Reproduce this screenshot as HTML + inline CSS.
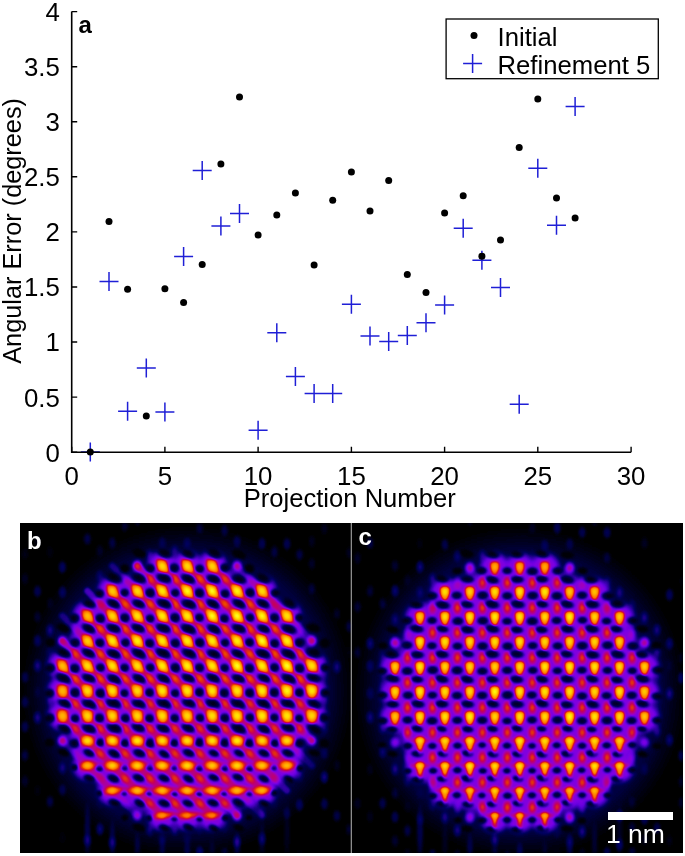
<!DOCTYPE html>
<html><head><meta charset="utf-8"><title>figure</title>
<style>html,body{margin:0;padding:0;background:#fff}body{width:685px;height:856px;overflow:hidden}svg{display:block}text{font-family:"Liberation Sans",sans-serif}svg{opacity:0.999}</style></head><body>
<svg width="685" height="856" viewBox="0 0 685 856">
<defs>
<filter id="fire" x="20" y="523" width="662.4" height="330" filterUnits="userSpaceOnUse" color-interpolation-filters="sRGB">
<feGaussianBlur stdDeviation="1.1" result="bl"/>
<feComponentTransfer in="bl">
<feFuncR type="table" tableValues="0.000 0.000 0.004 0.098 0.192 0.286 0.384 0.478 0.573 0.635 0.678 0.722 0.765 0.812 0.851 0.898 0.941 0.988 1.000 1.000 1.000 1.000 1.000 1.000 1.000 1.000 1.000 1.000 1.000 1.000 1.000 1.000"/>
<feFuncG type="table" tableValues="0.000 0.000 0.000 0.000 0.000 0.000 0.000 0.000 0.000 0.000 0.000 0.000 0.000 0.055 0.137 0.224 0.310 0.396 0.459 0.522 0.576 0.631 0.686 0.745 0.804 0.859 0.918 0.973 1.000 1.000 1.000 1.000"/>
<feFuncB type="table" tableValues="0.000 0.239 0.376 0.510 0.647 0.753 0.863 0.890 0.824 0.710 0.592 0.478 0.365 0.251 0.137 0.020 0.000 0.000 0.000 0.000 0.000 0.000 0.000 0.000 0.000 0.000 0.000 0.137 0.384 0.627 0.875 1.000"/>
<feFuncA type="linear" slope="0" intercept="1"/>
</feComponentTransfer></filter>
<radialGradient id="gw"><stop offset="0" stop-color="#fff" stop-opacity="1"/><stop offset="0.3" stop-color="#fff" stop-opacity="0.86"/><stop offset="0.6" stop-color="#fff" stop-opacity="0.42"/><stop offset="0.85" stop-color="#fff" stop-opacity="0.12"/><stop offset="1" stop-color="#fff" stop-opacity="0"/></radialGradient>
<radialGradient id="gk"><stop offset="0" stop-color="#000" stop-opacity="1"/><stop offset="0.5" stop-color="#000" stop-opacity="0.92"/><stop offset="0.78" stop-color="#000" stop-opacity="0.45"/><stop offset="1" stop-color="#000" stop-opacity="0"/></radialGradient>
<radialGradient id="gs"><stop offset="0" stop-color="#fff" stop-opacity="1"/><stop offset="0.5" stop-color="#fff" stop-opacity="0.55"/><stop offset="1" stop-color="#fff" stop-opacity="0"/></radialGradient>
<radialGradient id="haze"><stop offset="0" stop-color="#fff" stop-opacity="0.04"/><stop offset="0.84" stop-color="#fff" stop-opacity="0.035"/><stop offset="0.92" stop-color="#fff" stop-opacity="0.015"/><stop offset="1" stop-color="#fff" stop-opacity="0"/></radialGradient>
<radialGradient id="envd"><stop offset="0" stop-color="#3c3c3c" stop-opacity="1"/><stop offset="0.89" stop-color="#3c3c3c" stop-opacity="1"/><stop offset="0.94" stop-color="#3c3c3c" stop-opacity="0.55"/><stop offset="0.975" stop-color="#3c3c3c" stop-opacity="0.18"/><stop offset="1" stop-color="#3c3c3c" stop-opacity="0"/></radialGradient>
<radialGradient id="env"><stop offset="0" stop-color="#3c3c3c" stop-opacity="1"/><stop offset="0.55" stop-color="#3c3c3c" stop-opacity="1"/><stop offset="0.72" stop-color="#3c3c3c" stop-opacity="0.6"/><stop offset="0.86" stop-color="#3c3c3c" stop-opacity="0.2"/><stop offset="1" stop-color="#3c3c3c" stop-opacity="0"/></radialGradient>
</defs>
<rect width="685" height="856" fill="#fff"/>
<g id="chart">
<path d="M80.8 452.0h19M90.3 442.5v19M99.5 281.4h19M109.0 271.9v19M118.1 411.2h19M127.6 401.7v19M136.8 368.0h19M146.3 358.5v19M155.4 412.1h19M164.9 402.6v19M174.1 256.6h19M183.6 247.1v19M192.7 170.4h19M202.2 160.9v19M211.4 225.9h19M220.9 216.4v19M230.0 213.6h19M239.5 204.1v19M248.6 430.2h19M258.1 420.7v19M267.3 332.7h19M276.8 323.2v19M285.9 376.5h19M295.4 367.0v19M304.6 393.4h19M314.1 383.9v19M323.2 393.4h19M332.7 383.9v19M341.9 304.2h19M351.4 294.7v19M360.5 335.9h19M370.0 326.4v19M379.2 341.5h19M388.7 332.0v19M397.8 335.6h19M407.3 326.1v19M416.5 322.8h19M426.0 313.3v19M435.1 305.0h19M444.6 295.5v19M453.7 228.2h19M463.2 218.7v19M472.4 260.3h19M481.9 250.8v19M491.0 287.4h19M500.5 277.9v19M509.7 404.2h19M519.2 394.7v19M528.3 168.3h19M537.8 158.8v19M547.0 225.3h19M556.5 215.8v19M565.6 106.4h19M575.1 96.9v19" stroke="#1f1fd6" stroke-width="1.5" fill="none"/>
<path d="M71.7 11.6 V452.2 H631.1" fill="none" stroke="#000" stroke-width="1.6"/>
<path d="M71.7 452.2 h5.5 M71.7 397.1 h5.5 M71.7 342.0 h5.5 M71.7 287.0 h5.5 M71.7 231.9 h5.5 M71.7 176.8 h5.5 M71.7 121.7 h5.5 M71.7 66.7 h5.5 M71.7 11.6 h5.5 M71.7 452.2 v-5.5 M164.9 452.2 v-5.5 M258.1 452.2 v-5.5 M351.4 452.2 v-5.5 M444.6 452.2 v-5.5 M537.8 452.2 v-5.5 M631.1 452.2 v-5.5 " stroke="#000" stroke-width="1.4" fill="none"/>
<text x="59.9" y="461.6" font-size="25.8" text-anchor="end">0</text>
<text x="59.9" y="406.5" font-size="25.8" text-anchor="end">0.5</text>
<text x="59.9" y="351.4" font-size="25.8" text-anchor="end">1</text>
<text x="59.9" y="296.4" font-size="25.8" text-anchor="end">1.5</text>
<text x="59.9" y="241.3" font-size="25.8" text-anchor="end">2</text>
<text x="59.9" y="186.2" font-size="25.8" text-anchor="end">2.5</text>
<text x="59.9" y="131.1" font-size="25.8" text-anchor="end">3</text>
<text x="59.9" y="76.1" font-size="25.8" text-anchor="end">3.5</text>
<text x="59.9" y="21.0" font-size="25.8" text-anchor="end">4</text>
<text x="71.7" y="485.4" font-size="25.8" text-anchor="middle">0</text>
<text x="164.9" y="485.4" font-size="25.8" text-anchor="middle">5</text>
<text x="258.1" y="485.4" font-size="25.8" text-anchor="middle">10</text>
<text x="351.4" y="485.4" font-size="25.8" text-anchor="middle">15</text>
<text x="444.6" y="485.4" font-size="25.8" text-anchor="middle">20</text>
<text x="537.8" y="485.4" font-size="25.8" text-anchor="middle">25</text>
<text x="631.1" y="485.4" font-size="25.8" text-anchor="middle">30</text>
<text x="349.7" y="507.2" font-size="25.6" text-anchor="middle">Projection Number</text>
<text transform="translate(21.0 230.9) rotate(-90)" font-size="25.3" text-anchor="middle">Angular Error (degrees)</text>
<text x="78.6" y="32.6" font-size="24" font-weight="bold">a</text>
<circle cx="90.3" cy="451.9" r="3.5" fill="#000"/>
<circle cx="109.0" cy="221.5" r="3.5" fill="#000"/>
<circle cx="127.6" cy="289.3" r="3.5" fill="#000"/>
<circle cx="146.3" cy="415.9" r="3.5" fill="#000"/>
<circle cx="164.9" cy="288.7" r="3.5" fill="#000"/>
<circle cx="183.6" cy="302.6" r="3.5" fill="#000"/>
<circle cx="202.2" cy="264.5" r="3.5" fill="#000"/>
<circle cx="220.9" cy="164.0" r="3.5" fill="#000"/>
<circle cx="239.5" cy="97.0" r="3.5" fill="#000"/>
<circle cx="258.1" cy="235.1" r="3.5" fill="#000"/>
<circle cx="276.8" cy="215.1" r="3.5" fill="#000"/>
<circle cx="295.4" cy="192.9" r="3.5" fill="#000"/>
<circle cx="314.1" cy="265.0" r="3.5" fill="#000"/>
<circle cx="332.7" cy="200.2" r="3.5" fill="#000"/>
<circle cx="351.4" cy="171.9" r="3.5" fill="#000"/>
<circle cx="370.0" cy="211.0" r="3.5" fill="#000"/>
<circle cx="388.7" cy="180.4" r="3.5" fill="#000"/>
<circle cx="407.3" cy="274.4" r="3.5" fill="#000"/>
<circle cx="426.0" cy="292.5" r="3.5" fill="#000"/>
<circle cx="444.6" cy="213.1" r="3.5" fill="#000"/>
<circle cx="463.2" cy="195.8" r="3.5" fill="#000"/>
<circle cx="481.9" cy="256.2" r="3.5" fill="#000"/>
<circle cx="500.5" cy="239.9" r="3.5" fill="#000"/>
<circle cx="519.2" cy="147.6" r="3.5" fill="#000"/>
<circle cx="537.8" cy="99.1" r="3.5" fill="#000"/>
<circle cx="556.5" cy="198.0" r="3.5" fill="#000"/>
<circle cx="575.1" cy="218.0" r="3.5" fill="#000"/>
<rect x="446.1" y="19" width="212.2" height="59.7" fill="#fff" stroke="#000" stroke-width="1.3"/>
<circle cx="474" cy="35.5" r="3.5" fill="#000"/>
<path d="M463.1 63.5h19M472.6 54v19" stroke="#1f1fd6" stroke-width="1.5" fill="none"/>
<text x="497.5" y="45.5" font-size="25.7">Initial</text>
<text x="497.5" y="73.6" font-size="25.7">Refinement 5</text>
</g>
<defs><radialGradient id="envb"><stop offset="0" stop-color="#3c3c3c"/><stop offset="0.80" stop-color="#3c3c3c"/><stop offset="0.865" stop-color="#2e2e2e"/><stop offset="0.915" stop-color="#151515"/><stop offset="0.96" stop-color="#080808"/><stop offset="1" stop-color="#000"/></radialGradient><clipPath id="clipb"><rect x="20" y="523" width="331" height="330"/></clipPath><radialGradient id="envc"><stop offset="0" stop-color="#3c3c3c"/><stop offset="0.80" stop-color="#3c3c3c"/><stop offset="0.865" stop-color="#2e2e2e"/><stop offset="0.915" stop-color="#151515"/><stop offset="0.96" stop-color="#080808"/><stop offset="1" stop-color="#000"/></radialGradient><clipPath id="clipc"><rect x="352" y="523" width="330.4" height="330"/></clipPath></defs>
<g filter="url(#fire)">
<rect x="19" y="522" width="665" height="332" fill="#000"/>
<g clip-path="url(#clipb)">
<circle cx="187.2" cy="690.8" r="166" fill="url(#haze)"/>
<ellipse cx="0.1" cy="653.6" rx="4.6" ry="7.5" fill="url(#gs)" opacity="0.009"/>
<ellipse cx="0.1" cy="727.8" rx="4.6" ry="7.5" fill="url(#gs)" opacity="0.008"/>
<ellipse cx="12.5" cy="614.3" rx="4.6" ry="7.5" fill="url(#gs)" opacity="0.012"/>
<ellipse cx="12.5" cy="641.4" rx="4.6" ry="7.5" fill="url(#gs)" opacity="0.077"/>
<ellipse cx="12.5" cy="693.0" rx="4.6" ry="7.5" fill="url(#gs)" opacity="0.012"/>
<ellipse cx="25.0" cy="554.1" rx="4.6" ry="7.5" fill="url(#gs)" opacity="0.015"/>
<ellipse cx="25.0" cy="578.8" rx="4.6" ry="7.5" fill="url(#gs)" opacity="0.024"/>
<ellipse cx="25.0" cy="677.2" rx="4.6" ry="7.5" fill="url(#gs)" opacity="0.053"/>
<ellipse cx="25.0" cy="702.1" rx="4.6" ry="7.5" fill="url(#gs)" opacity="0.056"/>
<ellipse cx="25.0" cy="726.7" rx="4.6" ry="7.5" fill="url(#gs)" opacity="0.059"/>
<ellipse cx="25.0" cy="755.4" rx="4.6" ry="7.5" fill="url(#gs)" opacity="0.047"/>
<ellipse cx="25.0" cy="781.0" rx="4.6" ry="7.5" fill="url(#gs)" opacity="0.030"/>
<ellipse cx="37.5" cy="541.0" rx="4.6" ry="7.5" fill="url(#gs)" opacity="0.013"/>
<ellipse cx="37.5" cy="591.4" rx="4.6" ry="7.5" fill="url(#gs)" opacity="0.064"/>
<ellipse cx="37.5" cy="617.1" rx="4.6" ry="7.5" fill="url(#gs)" opacity="0.032"/>
<ellipse cx="37.5" cy="640.6" rx="4.6" ry="7.5" fill="url(#gs)" opacity="0.068"/>
<ellipse cx="37.5" cy="665.7" rx="4.6" ry="7.5" fill="url(#gs)" opacity="0.103"/>
<ellipse cx="37.5" cy="692.0" rx="4.6" ry="7.5" fill="url(#gs)" opacity="0.018"/>
<ellipse cx="37.5" cy="717.7" rx="4.6" ry="7.5" fill="url(#gs)" opacity="0.107"/>
<ellipse cx="37.5" cy="790.4" rx="4.6" ry="7.5" fill="url(#gs)" opacity="0.011"/>
<ellipse cx="50.0" cy="552.1" rx="4.6" ry="7.5" fill="url(#gs)" opacity="0.012"/>
<ellipse cx="50.0" cy="603.2" rx="4.6" ry="7.5" fill="url(#gs)" opacity="0.020"/>
<ellipse cx="50.0" cy="630.3" rx="4.6" ry="7.5" fill="url(#gs)" opacity="0.097"/>
<ellipse cx="50.0" cy="652.9" rx="4.6" ry="7.5" fill="url(#gs)" opacity="0.039"/>
<ellipse cx="50.0" cy="701.2" rx="4.6" ry="7.5" fill="url(#gs)" opacity="0.104"/>
<ellipse cx="50.0" cy="801.7" rx="4.6" ry="7.5" fill="url(#gs)" opacity="0.051"/>
<ellipse cx="62.4" cy="567.2" rx="4.6" ry="7.5" fill="url(#gs)" opacity="0.078"/>
<ellipse cx="62.4" cy="592.1" rx="4.6" ry="7.5" fill="url(#gs)" opacity="0.071"/>
<ellipse cx="62.4" cy="767.9" rx="4.6" ry="7.5" fill="url(#gs)" opacity="0.087"/>
<ellipse cx="62.4" cy="790.0" rx="4.6" ry="7.5" fill="url(#gs)" opacity="0.050"/>
<ellipse cx="62.4" cy="837.9" rx="4.6" ry="7.5" fill="url(#gs)" opacity="0.009"/>
<ellipse cx="87.4" cy="539.0" rx="4.6" ry="7.5" fill="url(#gs)" opacity="0.053"/>
<ellipse cx="87.4" cy="840.3" rx="4.6" ry="7.5" fill="url(#gs)" opacity="0.081"/>
<ellipse cx="87.4" cy="863.1" rx="4.6" ry="7.5" fill="url(#gs)" opacity="0.010"/>
<ellipse cx="99.9" cy="550.7" rx="4.6" ry="7.5" fill="url(#gs)" opacity="0.027"/>
<ellipse cx="99.9" cy="576.4" rx="4.6" ry="7.5" fill="url(#gs)" opacity="0.063"/>
<ellipse cx="99.9" cy="803.2" rx="4.6" ry="7.5" fill="url(#gs)" opacity="0.015"/>
<ellipse cx="99.9" cy="829.2" rx="4.6" ry="7.5" fill="url(#gs)" opacity="0.095"/>
<ellipse cx="112.3" cy="542.8" rx="4.6" ry="7.5" fill="url(#gs)" opacity="0.047"/>
<ellipse cx="112.3" cy="842.6" rx="4.6" ry="7.5" fill="url(#gs)" opacity="0.080"/>
<ellipse cx="112.3" cy="866.9" rx="4.6" ry="7.5" fill="url(#gs)" opacity="0.045"/>
<ellipse cx="124.8" cy="525.8" rx="4.6" ry="7.5" fill="url(#gs)" opacity="0.035"/>
<ellipse cx="124.8" cy="877.6" rx="4.6" ry="7.5" fill="url(#gs)" opacity="0.052"/>
<ellipse cx="137.3" cy="518.9" rx="4.6" ry="7.5" fill="url(#gs)" opacity="0.080"/>
<ellipse cx="149.8" cy="555.6" rx="4.6" ry="7.5" fill="url(#gs)" opacity="0.098"/>
<ellipse cx="149.8" cy="829.8" rx="4.6" ry="7.5" fill="url(#gs)" opacity="0.075"/>
<ellipse cx="149.8" cy="879.6" rx="4.6" ry="7.5" fill="url(#gs)" opacity="0.050"/>
<ellipse cx="162.2" cy="514.2" rx="4.6" ry="7.5" fill="url(#gs)" opacity="0.043"/>
<ellipse cx="162.2" cy="542.9" rx="4.6" ry="7.5" fill="url(#gs)" opacity="0.044"/>
<ellipse cx="162.2" cy="839.9" rx="4.6" ry="7.5" fill="url(#gs)" opacity="0.050"/>
<ellipse cx="162.2" cy="863.5" rx="4.6" ry="7.5" fill="url(#gs)" opacity="0.061"/>
<ellipse cx="174.7" cy="551.5" rx="4.6" ry="7.5" fill="url(#gs)" opacity="0.089"/>
<ellipse cx="174.7" cy="829.0" rx="4.6" ry="7.5" fill="url(#gs)" opacity="0.106"/>
<ellipse cx="174.7" cy="875.0" rx="4.6" ry="7.5" fill="url(#gs)" opacity="0.012"/>
<ellipse cx="187.2" cy="516.3" rx="4.6" ry="7.5" fill="url(#gs)" opacity="0.056"/>
<ellipse cx="187.2" cy="543.3" rx="4.6" ry="7.5" fill="url(#gs)" opacity="0.054"/>
<ellipse cx="187.2" cy="839.0" rx="4.6" ry="7.5" fill="url(#gs)" opacity="0.032"/>
<ellipse cx="199.7" cy="528.1" rx="4.6" ry="7.5" fill="url(#gs)" opacity="0.037"/>
<ellipse cx="199.7" cy="827.8" rx="4.6" ry="7.5" fill="url(#gs)" opacity="0.046"/>
<ellipse cx="199.7" cy="852.5" rx="4.6" ry="7.5" fill="url(#gs)" opacity="0.099"/>
<ellipse cx="199.7" cy="878.1" rx="4.6" ry="7.5" fill="url(#gs)" opacity="0.030"/>
<ellipse cx="212.1" cy="515.8" rx="4.6" ry="7.5" fill="url(#gs)" opacity="0.010"/>
<ellipse cx="212.1" cy="865.3" rx="4.6" ry="7.5" fill="url(#gs)" opacity="0.021"/>
<ellipse cx="224.6" cy="502.6" rx="4.6" ry="7.5" fill="url(#gs)" opacity="0.033"/>
<ellipse cx="224.6" cy="530.3" rx="4.6" ry="7.5" fill="url(#gs)" opacity="0.049"/>
<ellipse cx="224.6" cy="826.7" rx="4.6" ry="7.5" fill="url(#gs)" opacity="0.036"/>
<ellipse cx="224.6" cy="853.3" rx="4.6" ry="7.5" fill="url(#gs)" opacity="0.046"/>
<ellipse cx="224.6" cy="877.6" rx="4.6" ry="7.5" fill="url(#gs)" opacity="0.050"/>
<ellipse cx="237.1" cy="516.2" rx="4.6" ry="7.5" fill="url(#gs)" opacity="0.045"/>
<ellipse cx="237.1" cy="541.3" rx="4.6" ry="7.5" fill="url(#gs)" opacity="0.055"/>
<ellipse cx="237.1" cy="841.7" rx="4.6" ry="7.5" fill="url(#gs)" opacity="0.102"/>
<ellipse cx="237.1" cy="864.0" rx="4.6" ry="7.5" fill="url(#gs)" opacity="0.077"/>
<ellipse cx="249.6" cy="505.7" rx="4.6" ry="7.5" fill="url(#gs)" opacity="0.051"/>
<ellipse cx="262.0" cy="543.5" rx="4.6" ry="7.5" fill="url(#gs)" opacity="0.065"/>
<ellipse cx="262.0" cy="813.4" rx="4.6" ry="7.5" fill="url(#gs)" opacity="0.075"/>
<ellipse cx="262.0" cy="838.8" rx="4.6" ry="7.5" fill="url(#gs)" opacity="0.079"/>
<ellipse cx="262.0" cy="865.4" rx="4.6" ry="7.5" fill="url(#gs)" opacity="0.025"/>
<ellipse cx="274.5" cy="501.6" rx="4.6" ry="7.5" fill="url(#gs)" opacity="0.046"/>
<ellipse cx="274.5" cy="551.7" rx="4.6" ry="7.5" fill="url(#gs)" opacity="0.045"/>
<ellipse cx="274.5" cy="803.4" rx="4.6" ry="7.5" fill="url(#gs)" opacity="0.014"/>
<ellipse cx="287.0" cy="513.5" rx="4.6" ry="7.5" fill="url(#gs)" opacity="0.031"/>
<ellipse cx="287.0" cy="543.9" rx="4.6" ry="7.5" fill="url(#gs)" opacity="0.066"/>
<ellipse cx="287.0" cy="813.3" rx="4.6" ry="7.5" fill="url(#gs)" opacity="0.038"/>
<ellipse cx="287.0" cy="864.0" rx="4.6" ry="7.5" fill="url(#gs)" opacity="0.045"/>
<ellipse cx="299.5" cy="554.8" rx="4.6" ry="7.5" fill="url(#gs)" opacity="0.050"/>
<ellipse cx="299.5" cy="775.6" rx="4.6" ry="7.5" fill="url(#gs)" opacity="0.053"/>
<ellipse cx="299.5" cy="804.9" rx="4.6" ry="7.5" fill="url(#gs)" opacity="0.073"/>
<ellipse cx="299.5" cy="855.2" rx="4.6" ry="7.5" fill="url(#gs)" opacity="0.009"/>
<ellipse cx="311.9" cy="541.4" rx="4.6" ry="7.5" fill="url(#gs)" opacity="0.022"/>
<ellipse cx="311.9" cy="563.8" rx="4.6" ry="7.5" fill="url(#gs)" opacity="0.028"/>
<ellipse cx="311.9" cy="588.7" rx="4.6" ry="7.5" fill="url(#gs)" opacity="0.035"/>
<ellipse cx="324.4" cy="528.6" rx="4.6" ry="7.5" fill="url(#gs)" opacity="0.020"/>
<ellipse cx="324.4" cy="676.5" rx="4.6" ry="7.5" fill="url(#gs)" opacity="0.065"/>
<ellipse cx="324.4" cy="700.9" rx="4.6" ry="7.5" fill="url(#gs)" opacity="0.102"/>
<ellipse cx="324.4" cy="728.2" rx="4.6" ry="7.5" fill="url(#gs)" opacity="0.053"/>
<ellipse cx="324.4" cy="753.2" rx="4.6" ry="7.5" fill="url(#gs)" opacity="0.050"/>
<ellipse cx="324.4" cy="777.2" rx="4.6" ry="7.5" fill="url(#gs)" opacity="0.106"/>
<ellipse cx="324.4" cy="803.9" rx="4.6" ry="7.5" fill="url(#gs)" opacity="0.060"/>
<ellipse cx="336.9" cy="613.9" rx="4.6" ry="7.5" fill="url(#gs)" opacity="0.027"/>
<ellipse cx="336.9" cy="666.9" rx="4.6" ry="7.5" fill="url(#gs)" opacity="0.096"/>
<ellipse cx="336.9" cy="765.3" rx="4.6" ry="7.5" fill="url(#gs)" opacity="0.020"/>
<ellipse cx="336.9" cy="815.8" rx="4.6" ry="7.5" fill="url(#gs)" opacity="0.053"/>
<ellipse cx="349.4" cy="552.7" rx="4.6" ry="7.5" fill="url(#gs)" opacity="0.021"/>
<ellipse cx="349.4" cy="626.6" rx="4.6" ry="7.5" fill="url(#gs)" opacity="0.045"/>
<ellipse cx="349.4" cy="652.0" rx="4.6" ry="7.5" fill="url(#gs)" opacity="0.009"/>
<ellipse cx="349.4" cy="829.5" rx="4.6" ry="7.5" fill="url(#gs)" opacity="0.031"/>
<ellipse cx="361.9" cy="593.3" rx="4.6" ry="7.5" fill="url(#gs)" opacity="0.040"/>
<ellipse cx="361.9" cy="667.2" rx="4.6" ry="7.5" fill="url(#gs)" opacity="0.020"/>
<ellipse cx="361.9" cy="692.8" rx="4.6" ry="7.5" fill="url(#gs)" opacity="0.012"/>
<ellipse cx="361.9" cy="717.2" rx="4.6" ry="7.5" fill="url(#gs)" opacity="0.054"/>
<ellipse cx="361.9" cy="740.8" rx="4.6" ry="7.5" fill="url(#gs)" opacity="0.019"/>
<ellipse cx="361.9" cy="767.5" rx="4.6" ry="7.5" fill="url(#gs)" opacity="0.046"/>
<ellipse cx="361.9" cy="793.0" rx="4.6" ry="7.5" fill="url(#gs)" opacity="0.034"/>
<ellipse cx="374.3" cy="601.9" rx="4.6" ry="7.5" fill="url(#gs)" opacity="0.039"/>
<ellipse cx="374.3" cy="729.0" rx="4.6" ry="7.5" fill="url(#gs)" opacity="0.033"/>
<ellipse cx="374.3" cy="753.1" rx="4.6" ry="7.5" fill="url(#gs)" opacity="0.039"/>
<ellipse cx="87.4" cy="831.3" rx="4" ry="33.7" fill="url(#gs)" opacity="0.052"/>
<ellipse cx="112.3" cy="841.0" rx="4" ry="24.0" fill="url(#gs)" opacity="0.050"/>
<ellipse cx="137.3" cy="847.1" rx="4" ry="17.9" fill="url(#gs)" opacity="0.040"/>
<ellipse cx="162.2" cy="850.5" rx="4" ry="14.5" fill="url(#gs)" opacity="0.041"/>
<ellipse cx="187.2" cy="851.6" rx="4" ry="13.4" fill="url(#gs)" opacity="0.046"/>
<ellipse cx="212.1" cy="850.5" rx="4" ry="14.5" fill="url(#gs)" opacity="0.023"/>
<ellipse cx="237.1" cy="847.1" rx="4" ry="17.9" fill="url(#gs)" opacity="0.049"/>
<ellipse cx="262.0" cy="841.0" rx="4" ry="24.0" fill="url(#gs)" opacity="0.030"/>
<ellipse cx="287.0" cy="831.3" rx="4" ry="33.7" fill="url(#gs)" opacity="0.023"/>
<circle cx="62.4" cy="665.8" r="18.5" fill="url(#env)"/>
<circle cx="62.4" cy="690.8" r="18.5" fill="url(#env)"/>
<circle cx="62.4" cy="715.8" r="18.5" fill="url(#env)"/>
<circle cx="87.4" cy="615.9" r="18.5" fill="url(#env)"/>
<circle cx="87.4" cy="640.9" r="18.5" fill="url(#env)"/>
<circle cx="87.4" cy="665.8" r="18.5" fill="url(#env)"/>
<circle cx="87.4" cy="690.8" r="18.5" fill="url(#env)"/>
<circle cx="87.4" cy="715.8" r="18.5" fill="url(#env)"/>
<circle cx="87.4" cy="740.7" r="18.5" fill="url(#env)"/>
<circle cx="87.4" cy="765.6" r="18.5" fill="url(#env)"/>
<circle cx="112.3" cy="591.0" r="18.5" fill="url(#env)"/>
<circle cx="112.3" cy="615.9" r="18.5" fill="url(#env)"/>
<circle cx="112.3" cy="765.6" r="18.5" fill="url(#env)"/>
<circle cx="112.3" cy="790.6" r="18.5" fill="url(#env)"/>
<circle cx="137.3" cy="591.0" r="18.5" fill="url(#env)"/>
<circle cx="137.3" cy="790.6" r="18.5" fill="url(#env)"/>
<circle cx="162.2" cy="566.0" r="18.5" fill="url(#env)"/>
<circle cx="162.2" cy="591.0" r="18.5" fill="url(#env)"/>
<circle cx="162.2" cy="790.6" r="18.5" fill="url(#env)"/>
<circle cx="162.2" cy="815.5" r="18.5" fill="url(#env)"/>
<circle cx="187.2" cy="566.0" r="18.5" fill="url(#env)"/>
<circle cx="187.2" cy="591.0" r="18.5" fill="url(#env)"/>
<circle cx="187.2" cy="790.6" r="18.5" fill="url(#env)"/>
<circle cx="187.2" cy="815.5" r="18.5" fill="url(#env)"/>
<circle cx="212.1" cy="566.0" r="18.5" fill="url(#env)"/>
<circle cx="212.1" cy="591.0" r="18.5" fill="url(#env)"/>
<circle cx="212.1" cy="790.6" r="18.5" fill="url(#env)"/>
<circle cx="212.1" cy="815.5" r="18.5" fill="url(#env)"/>
<circle cx="237.1" cy="591.0" r="18.5" fill="url(#env)"/>
<circle cx="237.1" cy="790.6" r="18.5" fill="url(#env)"/>
<circle cx="262.0" cy="591.0" r="18.5" fill="url(#env)"/>
<circle cx="262.0" cy="615.9" r="18.5" fill="url(#env)"/>
<circle cx="262.0" cy="765.6" r="18.5" fill="url(#env)"/>
<circle cx="262.0" cy="790.6" r="18.5" fill="url(#env)"/>
<circle cx="287.0" cy="615.9" r="18.5" fill="url(#env)"/>
<circle cx="287.0" cy="640.9" r="18.5" fill="url(#env)"/>
<circle cx="287.0" cy="665.8" r="18.5" fill="url(#env)"/>
<circle cx="287.0" cy="690.8" r="18.5" fill="url(#env)"/>
<circle cx="287.0" cy="715.8" r="18.5" fill="url(#env)"/>
<circle cx="287.0" cy="740.7" r="18.5" fill="url(#env)"/>
<circle cx="287.0" cy="765.6" r="18.5" fill="url(#env)"/>
<circle cx="311.9" cy="665.8" r="18.5" fill="url(#env)"/>
<circle cx="311.9" cy="690.8" r="18.5" fill="url(#env)"/>
<circle cx="311.9" cy="715.8" r="18.5" fill="url(#env)"/>
<circle cx="187.2" cy="690.8" r="134" fill="url(#envd)"/>
<path d="M62.4 615.9L87.4 640.9" stroke="#fff" stroke-width="6.5" stroke-linecap="round" opacity="0.071"/>
<ellipse cx="74.9" cy="628.9" rx="6" ry="7.5" fill="url(#gs)" opacity="0.086" transform="rotate(-35 74.9 628.4)"/>
<path d="M62.4 640.9L87.4 665.9" stroke="#fff" stroke-width="6.5" stroke-linecap="round" opacity="0.186"/>
<ellipse cx="74.9" cy="653.9" rx="6" ry="7.5" fill="url(#gs)" opacity="0.223" transform="rotate(-35 74.9 653.4)"/>
<path d="M62.4 665.8L87.4 690.8" stroke="#fff" stroke-width="6.5" stroke-linecap="round" opacity="0.200"/>
<ellipse cx="74.9" cy="678.8" rx="6" ry="7.5" fill="url(#gs)" opacity="0.240" transform="rotate(-35 74.9 678.3)"/>
<path d="M62.4 690.8L87.4 715.8" stroke="#fff" stroke-width="6.5" stroke-linecap="round" opacity="0.150"/>
<ellipse cx="74.9" cy="703.8" rx="6" ry="7.5" fill="url(#gs)" opacity="0.240" transform="rotate(-35 74.9 703.3)"/>
<path d="M62.4 715.7L87.4 740.7" stroke="#fff" stroke-width="6.5" stroke-linecap="round" opacity="0.139"/>
<ellipse cx="74.9" cy="728.7" rx="6" ry="7.5" fill="url(#gs)" opacity="0.223" transform="rotate(-35 74.9 728.2)"/>
<path d="M62.4 740.7L87.4 765.6" stroke="#fff" stroke-width="6.5" stroke-linecap="round" opacity="0.054"/>
<ellipse cx="74.9" cy="753.7" rx="6" ry="7.5" fill="url(#gs)" opacity="0.086" transform="rotate(-35 74.9 753.2)"/>
<path d="M87.4 591.0L112.3 615.9" stroke="#fff" stroke-width="6.5" stroke-linecap="round" opacity="0.129"/>
<ellipse cx="99.9" cy="604.0" rx="6" ry="7.5" fill="url(#gs)" opacity="0.154" transform="rotate(-35 99.9 603.5)"/>
<path d="M87.4 615.9L112.3 640.9" stroke="#fff" stroke-width="6.5" stroke-linecap="round" opacity="0.200"/>
<ellipse cx="99.9" cy="628.9" rx="6" ry="7.5" fill="url(#gs)" opacity="0.240" transform="rotate(-35 99.9 628.4)"/>
<path d="M87.4 640.9L112.3 665.9" stroke="#fff" stroke-width="6.5" stroke-linecap="round" opacity="0.200"/>
<ellipse cx="99.9" cy="653.9" rx="6" ry="7.5" fill="url(#gs)" opacity="0.240" transform="rotate(-35 99.9 653.4)"/>
<path d="M87.4 665.8L112.3 690.8" stroke="#fff" stroke-width="6.5" stroke-linecap="round" opacity="0.200"/>
<ellipse cx="99.9" cy="678.8" rx="6" ry="7.5" fill="url(#gs)" opacity="0.240" transform="rotate(-35 99.9 678.3)"/>
<path d="M87.4 690.8L112.3 715.8" stroke="#fff" stroke-width="6.5" stroke-linecap="round" opacity="0.150"/>
<ellipse cx="99.9" cy="703.8" rx="6" ry="7.5" fill="url(#gs)" opacity="0.240" transform="rotate(-35 99.9 703.3)"/>
<path d="M87.4 715.7L112.3 740.7" stroke="#fff" stroke-width="6.5" stroke-linecap="round" opacity="0.150"/>
<ellipse cx="99.9" cy="728.7" rx="6" ry="7.5" fill="url(#gs)" opacity="0.240" transform="rotate(-35 99.9 728.2)"/>
<path d="M87.4 740.7L112.3 765.6" stroke="#fff" stroke-width="6.5" stroke-linecap="round" opacity="0.150"/>
<ellipse cx="99.9" cy="753.7" rx="6" ry="7.5" fill="url(#gs)" opacity="0.240" transform="rotate(-35 99.9 753.2)"/>
<path d="M87.4 765.6L112.3 790.6" stroke="#fff" stroke-width="6.5" stroke-linecap="round" opacity="0.096"/>
<ellipse cx="99.9" cy="778.6" rx="6" ry="7.5" fill="url(#gs)" opacity="0.154" transform="rotate(-35 99.9 778.1)"/>
<path d="M112.3 566.0L137.3 591.0" stroke="#fff" stroke-width="6.5" stroke-linecap="round" opacity="0.071"/>
<ellipse cx="124.8" cy="579.0" rx="6" ry="7.5" fill="url(#gs)" opacity="0.086" transform="rotate(-35 124.8 578.5)"/>
<path d="M112.3 591.0L137.3 615.9" stroke="#fff" stroke-width="6.5" stroke-linecap="round" opacity="0.200"/>
<ellipse cx="124.8" cy="604.0" rx="6" ry="7.5" fill="url(#gs)" opacity="0.240" transform="rotate(-35 124.8 603.5)"/>
<path d="M112.3 615.9L137.3 640.9" stroke="#fff" stroke-width="6.5" stroke-linecap="round" opacity="0.200"/>
<ellipse cx="124.8" cy="628.9" rx="6" ry="7.5" fill="url(#gs)" opacity="0.240" transform="rotate(-35 124.8 628.4)"/>
<path d="M112.3 640.9L137.3 665.9" stroke="#fff" stroke-width="6.5" stroke-linecap="round" opacity="0.200"/>
<ellipse cx="124.8" cy="653.9" rx="6" ry="7.5" fill="url(#gs)" opacity="0.240" transform="rotate(-35 124.8 653.4)"/>
<path d="M112.3 665.8L137.3 690.8" stroke="#fff" stroke-width="6.5" stroke-linecap="round" opacity="0.200"/>
<ellipse cx="124.8" cy="678.8" rx="6" ry="7.5" fill="url(#gs)" opacity="0.240" transform="rotate(-35 124.8 678.3)"/>
<path d="M112.3 690.8L137.3 715.8" stroke="#fff" stroke-width="6.5" stroke-linecap="round" opacity="0.150"/>
<ellipse cx="124.8" cy="703.8" rx="6" ry="7.5" fill="url(#gs)" opacity="0.240" transform="rotate(-35 124.8 703.3)"/>
<path d="M112.3 715.7L137.3 740.7" stroke="#fff" stroke-width="6.5" stroke-linecap="round" opacity="0.150"/>
<ellipse cx="124.8" cy="728.7" rx="6" ry="7.5" fill="url(#gs)" opacity="0.240" transform="rotate(-35 124.8 728.2)"/>
<path d="M112.3 740.7L137.3 765.6" stroke="#fff" stroke-width="6.5" stroke-linecap="round" opacity="0.150"/>
<ellipse cx="124.8" cy="753.7" rx="6" ry="7.5" fill="url(#gs)" opacity="0.240" transform="rotate(-35 124.8 753.2)"/>
<path d="M112.3 765.6L137.3 790.6" stroke="#fff" stroke-width="6.5" stroke-linecap="round" opacity="0.150"/>
<ellipse cx="124.8" cy="778.6" rx="6" ry="7.5" fill="url(#gs)" opacity="0.240" transform="rotate(-35 124.8 778.1)"/>
<path d="M112.3 790.6L137.3 815.5" stroke="#fff" stroke-width="6.5" stroke-linecap="round" opacity="0.054"/>
<ellipse cx="124.8" cy="803.6" rx="6" ry="7.5" fill="url(#gs)" opacity="0.086" transform="rotate(-35 124.8 803.1)"/>
<path d="M137.3 566.0L162.2 591.0" stroke="#fff" stroke-width="6.5" stroke-linecap="round" opacity="0.186"/>
<ellipse cx="149.8" cy="579.0" rx="6" ry="7.5" fill="url(#gs)" opacity="0.223" transform="rotate(-35 149.8 578.5)"/>
<path d="M137.3 591.0L162.2 615.9" stroke="#fff" stroke-width="6.5" stroke-linecap="round" opacity="0.200"/>
<ellipse cx="149.8" cy="604.0" rx="6" ry="7.5" fill="url(#gs)" opacity="0.240" transform="rotate(-35 149.8 603.5)"/>
<path d="M137.3 615.9L162.2 640.9" stroke="#fff" stroke-width="6.5" stroke-linecap="round" opacity="0.200"/>
<ellipse cx="149.8" cy="628.9" rx="6" ry="7.5" fill="url(#gs)" opacity="0.240" transform="rotate(-35 149.8 628.4)"/>
<path d="M137.3 640.9L162.2 665.9" stroke="#fff" stroke-width="6.5" stroke-linecap="round" opacity="0.200"/>
<ellipse cx="149.8" cy="653.9" rx="6" ry="7.5" fill="url(#gs)" opacity="0.240" transform="rotate(-35 149.8 653.4)"/>
<path d="M137.3 665.8L162.2 690.8" stroke="#fff" stroke-width="6.5" stroke-linecap="round" opacity="0.200"/>
<ellipse cx="149.8" cy="678.8" rx="6" ry="7.5" fill="url(#gs)" opacity="0.240" transform="rotate(-35 149.8 678.3)"/>
<path d="M137.3 690.8L162.2 715.8" stroke="#fff" stroke-width="6.5" stroke-linecap="round" opacity="0.150"/>
<ellipse cx="149.8" cy="703.8" rx="6" ry="7.5" fill="url(#gs)" opacity="0.240" transform="rotate(-35 149.8 703.3)"/>
<path d="M137.3 715.7L162.2 740.7" stroke="#fff" stroke-width="6.5" stroke-linecap="round" opacity="0.150"/>
<ellipse cx="149.8" cy="728.7" rx="6" ry="7.5" fill="url(#gs)" opacity="0.240" transform="rotate(-35 149.8 728.2)"/>
<path d="M137.3 740.7L162.2 765.6" stroke="#fff" stroke-width="6.5" stroke-linecap="round" opacity="0.150"/>
<ellipse cx="149.8" cy="753.7" rx="6" ry="7.5" fill="url(#gs)" opacity="0.240" transform="rotate(-35 149.8 753.2)"/>
<path d="M137.3 765.6L162.2 790.6" stroke="#fff" stroke-width="6.5" stroke-linecap="round" opacity="0.150"/>
<ellipse cx="149.8" cy="778.6" rx="6" ry="7.5" fill="url(#gs)" opacity="0.240" transform="rotate(-35 149.8 778.1)"/>
<path d="M137.3 790.6L162.2 815.5" stroke="#fff" stroke-width="6.5" stroke-linecap="round" opacity="0.139"/>
<ellipse cx="149.8" cy="803.6" rx="6" ry="7.5" fill="url(#gs)" opacity="0.223" transform="rotate(-35 149.8 803.1)"/>
<path d="M162.2 566.0L187.2 591.0" stroke="#fff" stroke-width="6.5" stroke-linecap="round" opacity="0.200"/>
<ellipse cx="174.7" cy="579.0" rx="6" ry="7.5" fill="url(#gs)" opacity="0.240" transform="rotate(-35 174.7 578.5)"/>
<path d="M162.2 591.0L187.2 615.9" stroke="#fff" stroke-width="6.5" stroke-linecap="round" opacity="0.200"/>
<ellipse cx="174.7" cy="604.0" rx="6" ry="7.5" fill="url(#gs)" opacity="0.240" transform="rotate(-35 174.7 603.5)"/>
<path d="M162.2 615.9L187.2 640.9" stroke="#fff" stroke-width="6.5" stroke-linecap="round" opacity="0.200"/>
<ellipse cx="174.7" cy="628.9" rx="6" ry="7.5" fill="url(#gs)" opacity="0.240" transform="rotate(-35 174.7 628.4)"/>
<path d="M162.2 640.9L187.2 665.9" stroke="#fff" stroke-width="6.5" stroke-linecap="round" opacity="0.200"/>
<ellipse cx="174.7" cy="653.9" rx="6" ry="7.5" fill="url(#gs)" opacity="0.240" transform="rotate(-35 174.7 653.4)"/>
<path d="M162.2 665.8L187.2 690.8" stroke="#fff" stroke-width="6.5" stroke-linecap="round" opacity="0.200"/>
<ellipse cx="174.7" cy="678.8" rx="6" ry="7.5" fill="url(#gs)" opacity="0.240" transform="rotate(-35 174.7 678.3)"/>
<path d="M162.2 690.8L187.2 715.8" stroke="#fff" stroke-width="6.5" stroke-linecap="round" opacity="0.150"/>
<ellipse cx="174.7" cy="703.8" rx="6" ry="7.5" fill="url(#gs)" opacity="0.240" transform="rotate(-35 174.7 703.3)"/>
<path d="M162.2 715.7L187.2 740.7" stroke="#fff" stroke-width="6.5" stroke-linecap="round" opacity="0.150"/>
<ellipse cx="174.7" cy="728.7" rx="6" ry="7.5" fill="url(#gs)" opacity="0.240" transform="rotate(-35 174.7 728.2)"/>
<path d="M162.2 740.7L187.2 765.6" stroke="#fff" stroke-width="6.5" stroke-linecap="round" opacity="0.150"/>
<ellipse cx="174.7" cy="753.7" rx="6" ry="7.5" fill="url(#gs)" opacity="0.240" transform="rotate(-35 174.7 753.2)"/>
<path d="M162.2 765.6L187.2 790.6" stroke="#fff" stroke-width="6.5" stroke-linecap="round" opacity="0.150"/>
<ellipse cx="174.7" cy="778.6" rx="6" ry="7.5" fill="url(#gs)" opacity="0.240" transform="rotate(-35 174.7 778.1)"/>
<path d="M162.2 790.6L187.2 815.5" stroke="#fff" stroke-width="6.5" stroke-linecap="round" opacity="0.150"/>
<ellipse cx="174.7" cy="803.6" rx="6" ry="7.5" fill="url(#gs)" opacity="0.240" transform="rotate(-35 174.7 803.1)"/>
<path d="M187.2 566.0L212.1 591.0" stroke="#fff" stroke-width="6.5" stroke-linecap="round" opacity="0.200"/>
<ellipse cx="199.7" cy="579.0" rx="6" ry="7.5" fill="url(#gs)" opacity="0.240" transform="rotate(-35 199.7 578.5)"/>
<path d="M187.2 591.0L212.1 615.9" stroke="#fff" stroke-width="6.5" stroke-linecap="round" opacity="0.200"/>
<ellipse cx="199.7" cy="604.0" rx="6" ry="7.5" fill="url(#gs)" opacity="0.240" transform="rotate(-35 199.7 603.5)"/>
<path d="M187.2 615.9L212.1 640.9" stroke="#fff" stroke-width="6.5" stroke-linecap="round" opacity="0.200"/>
<ellipse cx="199.7" cy="628.9" rx="6" ry="7.5" fill="url(#gs)" opacity="0.240" transform="rotate(-35 199.7 628.4)"/>
<path d="M187.2 640.9L212.1 665.9" stroke="#fff" stroke-width="6.5" stroke-linecap="round" opacity="0.200"/>
<ellipse cx="199.7" cy="653.9" rx="6" ry="7.5" fill="url(#gs)" opacity="0.240" transform="rotate(-35 199.7 653.4)"/>
<path d="M187.2 665.8L212.1 690.8" stroke="#fff" stroke-width="6.5" stroke-linecap="round" opacity="0.200"/>
<ellipse cx="199.7" cy="678.8" rx="6" ry="7.5" fill="url(#gs)" opacity="0.240" transform="rotate(-35 199.7 678.3)"/>
<path d="M187.2 690.8L212.1 715.8" stroke="#fff" stroke-width="6.5" stroke-linecap="round" opacity="0.150"/>
<ellipse cx="199.7" cy="703.8" rx="6" ry="7.5" fill="url(#gs)" opacity="0.240" transform="rotate(-35 199.7 703.3)"/>
<path d="M187.2 715.7L212.1 740.7" stroke="#fff" stroke-width="6.5" stroke-linecap="round" opacity="0.150"/>
<ellipse cx="199.7" cy="728.7" rx="6" ry="7.5" fill="url(#gs)" opacity="0.240" transform="rotate(-35 199.7 728.2)"/>
<path d="M187.2 740.7L212.1 765.6" stroke="#fff" stroke-width="6.5" stroke-linecap="round" opacity="0.150"/>
<ellipse cx="199.7" cy="753.7" rx="6" ry="7.5" fill="url(#gs)" opacity="0.240" transform="rotate(-35 199.7 753.2)"/>
<path d="M187.2 765.6L212.1 790.6" stroke="#fff" stroke-width="6.5" stroke-linecap="round" opacity="0.150"/>
<ellipse cx="199.7" cy="778.6" rx="6" ry="7.5" fill="url(#gs)" opacity="0.240" transform="rotate(-35 199.7 778.1)"/>
<path d="M187.2 790.6L212.1 815.5" stroke="#fff" stroke-width="6.5" stroke-linecap="round" opacity="0.150"/>
<ellipse cx="199.7" cy="803.6" rx="6" ry="7.5" fill="url(#gs)" opacity="0.240" transform="rotate(-35 199.7 803.1)"/>
<path d="M212.2 566.0L237.1 591.0" stroke="#fff" stroke-width="6.5" stroke-linecap="round" opacity="0.186"/>
<ellipse cx="224.6" cy="579.0" rx="6" ry="7.5" fill="url(#gs)" opacity="0.223" transform="rotate(-35 224.6 578.5)"/>
<path d="M212.2 591.0L237.1 615.9" stroke="#fff" stroke-width="6.5" stroke-linecap="round" opacity="0.200"/>
<ellipse cx="224.6" cy="604.0" rx="6" ry="7.5" fill="url(#gs)" opacity="0.240" transform="rotate(-35 224.6 603.5)"/>
<path d="M212.2 615.9L237.1 640.9" stroke="#fff" stroke-width="6.5" stroke-linecap="round" opacity="0.200"/>
<ellipse cx="224.6" cy="628.9" rx="6" ry="7.5" fill="url(#gs)" opacity="0.240" transform="rotate(-35 224.6 628.4)"/>
<path d="M212.2 640.9L237.1 665.9" stroke="#fff" stroke-width="6.5" stroke-linecap="round" opacity="0.200"/>
<ellipse cx="224.6" cy="653.9" rx="6" ry="7.5" fill="url(#gs)" opacity="0.240" transform="rotate(-35 224.6 653.4)"/>
<path d="M212.2 665.8L237.1 690.8" stroke="#fff" stroke-width="6.5" stroke-linecap="round" opacity="0.200"/>
<ellipse cx="224.6" cy="678.8" rx="6" ry="7.5" fill="url(#gs)" opacity="0.240" transform="rotate(-35 224.6 678.3)"/>
<path d="M212.2 690.8L237.1 715.8" stroke="#fff" stroke-width="6.5" stroke-linecap="round" opacity="0.150"/>
<ellipse cx="224.6" cy="703.8" rx="6" ry="7.5" fill="url(#gs)" opacity="0.240" transform="rotate(-35 224.6 703.3)"/>
<path d="M212.2 715.7L237.1 740.7" stroke="#fff" stroke-width="6.5" stroke-linecap="round" opacity="0.150"/>
<ellipse cx="224.6" cy="728.7" rx="6" ry="7.5" fill="url(#gs)" opacity="0.240" transform="rotate(-35 224.6 728.2)"/>
<path d="M212.2 740.7L237.1 765.6" stroke="#fff" stroke-width="6.5" stroke-linecap="round" opacity="0.150"/>
<ellipse cx="224.6" cy="753.7" rx="6" ry="7.5" fill="url(#gs)" opacity="0.240" transform="rotate(-35 224.6 753.2)"/>
<path d="M212.2 765.6L237.1 790.6" stroke="#fff" stroke-width="6.5" stroke-linecap="round" opacity="0.150"/>
<ellipse cx="224.6" cy="778.6" rx="6" ry="7.5" fill="url(#gs)" opacity="0.240" transform="rotate(-35 224.6 778.1)"/>
<path d="M212.2 790.6L237.1 815.5" stroke="#fff" stroke-width="6.5" stroke-linecap="round" opacity="0.139"/>
<ellipse cx="224.6" cy="803.6" rx="6" ry="7.5" fill="url(#gs)" opacity="0.223" transform="rotate(-35 224.6 803.1)"/>
<path d="M237.1 566.0L262.1 591.0" stroke="#fff" stroke-width="6.5" stroke-linecap="round" opacity="0.071"/>
<ellipse cx="249.6" cy="579.0" rx="6" ry="7.5" fill="url(#gs)" opacity="0.086" transform="rotate(-35 249.6 578.5)"/>
<path d="M237.1 591.0L262.1 615.9" stroke="#fff" stroke-width="6.5" stroke-linecap="round" opacity="0.200"/>
<ellipse cx="249.6" cy="604.0" rx="6" ry="7.5" fill="url(#gs)" opacity="0.240" transform="rotate(-35 249.6 603.5)"/>
<path d="M237.1 615.9L262.1 640.9" stroke="#fff" stroke-width="6.5" stroke-linecap="round" opacity="0.200"/>
<ellipse cx="249.6" cy="628.9" rx="6" ry="7.5" fill="url(#gs)" opacity="0.240" transform="rotate(-35 249.6 628.4)"/>
<path d="M237.1 640.9L262.1 665.9" stroke="#fff" stroke-width="6.5" stroke-linecap="round" opacity="0.200"/>
<ellipse cx="249.6" cy="653.9" rx="6" ry="7.5" fill="url(#gs)" opacity="0.240" transform="rotate(-35 249.6 653.4)"/>
<path d="M237.1 665.8L262.1 690.8" stroke="#fff" stroke-width="6.5" stroke-linecap="round" opacity="0.200"/>
<ellipse cx="249.6" cy="678.8" rx="6" ry="7.5" fill="url(#gs)" opacity="0.240" transform="rotate(-35 249.6 678.3)"/>
<path d="M237.1 690.8L262.1 715.8" stroke="#fff" stroke-width="6.5" stroke-linecap="round" opacity="0.150"/>
<ellipse cx="249.6" cy="703.8" rx="6" ry="7.5" fill="url(#gs)" opacity="0.240" transform="rotate(-35 249.6 703.3)"/>
<path d="M237.1 715.7L262.1 740.7" stroke="#fff" stroke-width="6.5" stroke-linecap="round" opacity="0.150"/>
<ellipse cx="249.6" cy="728.7" rx="6" ry="7.5" fill="url(#gs)" opacity="0.240" transform="rotate(-35 249.6 728.2)"/>
<path d="M237.1 740.7L262.1 765.6" stroke="#fff" stroke-width="6.5" stroke-linecap="round" opacity="0.150"/>
<ellipse cx="249.6" cy="753.7" rx="6" ry="7.5" fill="url(#gs)" opacity="0.240" transform="rotate(-35 249.6 753.2)"/>
<path d="M237.1 765.6L262.1 790.6" stroke="#fff" stroke-width="6.5" stroke-linecap="round" opacity="0.150"/>
<ellipse cx="249.6" cy="778.6" rx="6" ry="7.5" fill="url(#gs)" opacity="0.240" transform="rotate(-35 249.6 778.1)"/>
<path d="M237.1 790.6L262.1 815.5" stroke="#fff" stroke-width="6.5" stroke-linecap="round" opacity="0.054"/>
<ellipse cx="249.6" cy="803.6" rx="6" ry="7.5" fill="url(#gs)" opacity="0.086" transform="rotate(-35 249.6 803.1)"/>
<path d="M262.0 591.0L287.0 615.9" stroke="#fff" stroke-width="6.5" stroke-linecap="round" opacity="0.129"/>
<ellipse cx="274.5" cy="604.0" rx="6" ry="7.5" fill="url(#gs)" opacity="0.154" transform="rotate(-35 274.5 603.5)"/>
<path d="M262.0 615.9L287.0 640.9" stroke="#fff" stroke-width="6.5" stroke-linecap="round" opacity="0.200"/>
<ellipse cx="274.5" cy="628.9" rx="6" ry="7.5" fill="url(#gs)" opacity="0.240" transform="rotate(-35 274.5 628.4)"/>
<path d="M262.0 640.9L287.0 665.9" stroke="#fff" stroke-width="6.5" stroke-linecap="round" opacity="0.200"/>
<ellipse cx="274.5" cy="653.9" rx="6" ry="7.5" fill="url(#gs)" opacity="0.240" transform="rotate(-35 274.5 653.4)"/>
<path d="M262.0 665.8L287.0 690.8" stroke="#fff" stroke-width="6.5" stroke-linecap="round" opacity="0.200"/>
<ellipse cx="274.5" cy="678.8" rx="6" ry="7.5" fill="url(#gs)" opacity="0.240" transform="rotate(-35 274.5 678.3)"/>
<path d="M262.0 690.8L287.0 715.8" stroke="#fff" stroke-width="6.5" stroke-linecap="round" opacity="0.150"/>
<ellipse cx="274.5" cy="703.8" rx="6" ry="7.5" fill="url(#gs)" opacity="0.240" transform="rotate(-35 274.5 703.3)"/>
<path d="M262.0 715.7L287.0 740.7" stroke="#fff" stroke-width="6.5" stroke-linecap="round" opacity="0.150"/>
<ellipse cx="274.5" cy="728.7" rx="6" ry="7.5" fill="url(#gs)" opacity="0.240" transform="rotate(-35 274.5 728.2)"/>
<path d="M262.0 740.7L287.0 765.6" stroke="#fff" stroke-width="6.5" stroke-linecap="round" opacity="0.150"/>
<ellipse cx="274.5" cy="753.7" rx="6" ry="7.5" fill="url(#gs)" opacity="0.240" transform="rotate(-35 274.5 753.2)"/>
<path d="M262.0 765.6L287.0 790.6" stroke="#fff" stroke-width="6.5" stroke-linecap="round" opacity="0.096"/>
<ellipse cx="274.5" cy="778.6" rx="6" ry="7.5" fill="url(#gs)" opacity="0.154" transform="rotate(-35 274.5 778.1)"/>
<path d="M287.0 615.9L311.9 640.9" stroke="#fff" stroke-width="6.5" stroke-linecap="round" opacity="0.071"/>
<ellipse cx="299.5" cy="628.9" rx="6" ry="7.5" fill="url(#gs)" opacity="0.086" transform="rotate(-35 299.5 628.4)"/>
<path d="M287.0 640.9L311.9 665.9" stroke="#fff" stroke-width="6.5" stroke-linecap="round" opacity="0.186"/>
<ellipse cx="299.5" cy="653.9" rx="6" ry="7.5" fill="url(#gs)" opacity="0.223" transform="rotate(-35 299.5 653.4)"/>
<path d="M287.0 665.8L311.9 690.8" stroke="#fff" stroke-width="6.5" stroke-linecap="round" opacity="0.200"/>
<ellipse cx="299.5" cy="678.8" rx="6" ry="7.5" fill="url(#gs)" opacity="0.240" transform="rotate(-35 299.5 678.3)"/>
<path d="M287.0 690.8L311.9 715.8" stroke="#fff" stroke-width="6.5" stroke-linecap="round" opacity="0.150"/>
<ellipse cx="299.5" cy="703.8" rx="6" ry="7.5" fill="url(#gs)" opacity="0.240" transform="rotate(-35 299.5 703.3)"/>
<path d="M287.0 715.7L311.9 740.7" stroke="#fff" stroke-width="6.5" stroke-linecap="round" opacity="0.139"/>
<ellipse cx="299.5" cy="728.7" rx="6" ry="7.5" fill="url(#gs)" opacity="0.223" transform="rotate(-35 299.5 728.2)"/>
<path d="M287.0 740.7L311.9 765.6" stroke="#fff" stroke-width="6.5" stroke-linecap="round" opacity="0.054"/>
<ellipse cx="299.5" cy="753.7" rx="6" ry="7.5" fill="url(#gs)" opacity="0.086" transform="rotate(-35 299.5 753.2)"/>
<ellipse cx="50.3" cy="642.7" rx="6.1" ry="5.7" fill="url(#gk)" opacity="0.94"/>
<ellipse cx="50.5" cy="668.0" rx="6.7" ry="6.3" fill="url(#gk)" opacity="0.94"/>
<ellipse cx="49.9" cy="693.2" rx="6.3" ry="5.9" fill="url(#gk)" opacity="0.94"/>
<ellipse cx="50.1" cy="718.1" rx="6.8" ry="6.3" fill="url(#gk)" opacity="0.94"/>
<ellipse cx="49.6" cy="742.6" rx="5.9" ry="5.5" fill="url(#gk)" opacity="0.94"/>
<ellipse cx="74.7" cy="618.2" rx="6.7" ry="6.3" fill="url(#gk)" opacity="0.94"/>
<ellipse cx="63.3" cy="627.6" rx="9.2" ry="5.4" fill="url(#gk)" opacity="0.96" transform="rotate(24 62.4 628.4)"/>
<ellipse cx="75.1" cy="642.8" rx="6.7" ry="6.2" fill="url(#gk)" opacity="0.94"/>
<ellipse cx="63.9" cy="652.8" rx="10.2" ry="6.0" fill="url(#gk)" opacity="0.96" transform="rotate(17 62.4 653.4)"/>
<ellipse cx="74.6" cy="668.6" rx="6.9" ry="6.5" fill="url(#gk)" opacity="0.94"/>
<ellipse cx="63.3" cy="677.8" rx="11.1" ry="6.5" fill="url(#gk)" opacity="0.96" transform="rotate(26 62.4 678.3)"/>
<ellipse cx="74.9" cy="692.7" rx="7.0" ry="6.6" fill="url(#gk)" opacity="0.94"/>
<ellipse cx="64.6" cy="702.4" rx="9.6" ry="5.7" fill="url(#gk)" opacity="0.96" transform="rotate(23 62.4 703.3)"/>
<ellipse cx="75.0" cy="718.5" rx="6.0" ry="5.6" fill="url(#gk)" opacity="0.94"/>
<ellipse cx="64.4" cy="727.7" rx="9.5" ry="5.6" fill="url(#gk)" opacity="0.96" transform="rotate(27 62.4 728.2)"/>
<ellipse cx="74.6" cy="743.4" rx="6.7" ry="6.3" fill="url(#gk)" opacity="0.94"/>
<ellipse cx="63.3" cy="752.1" rx="7.9" ry="4.7" fill="url(#gk)" opacity="0.96" transform="rotate(22 62.4 753.2)"/>
<ellipse cx="74.7" cy="767.4" rx="4.6" ry="4.3" fill="url(#gk)" opacity="0.94"/>
<ellipse cx="99.7" cy="593.6" rx="6.2" ry="5.8" fill="url(#gk)" opacity="0.94"/>
<ellipse cx="89.3" cy="603.4" rx="9.2" ry="5.4" fill="url(#gk)" opacity="0.96" transform="rotate(17 87.4 603.5)"/>
<ellipse cx="100.1" cy="618.6" rx="7.0" ry="6.5" fill="url(#gk)" opacity="0.94"/>
<ellipse cx="88.7" cy="627.8" rx="9.8" ry="5.8" fill="url(#gk)" opacity="0.96" transform="rotate(28 87.4 628.4)"/>
<ellipse cx="99.7" cy="643.0" rx="6.5" ry="6.1" fill="url(#gk)" opacity="0.94"/>
<ellipse cx="88.3" cy="652.4" rx="9.8" ry="5.8" fill="url(#gk)" opacity="0.96" transform="rotate(26 87.4 653.4)"/>
<ellipse cx="100.4" cy="667.7" rx="6.2" ry="5.8" fill="url(#gk)" opacity="0.94"/>
<ellipse cx="88.9" cy="677.5" rx="9.7" ry="5.7" fill="url(#gk)" opacity="0.96" transform="rotate(20 87.4 678.3)"/>
<ellipse cx="100.3" cy="693.4" rx="7.0" ry="6.6" fill="url(#gk)" opacity="0.94"/>
<ellipse cx="89.5" cy="703.3" rx="10.5" ry="6.2" fill="url(#gk)" opacity="0.96" transform="rotate(23 87.4 703.3)"/>
<ellipse cx="99.3" cy="718.2" rx="6.7" ry="6.3" fill="url(#gk)" opacity="0.94"/>
<ellipse cx="89.3" cy="727.9" rx="10.1" ry="6.0" fill="url(#gk)" opacity="0.96" transform="rotate(19 87.4 728.2)"/>
<ellipse cx="100.4" cy="742.5" rx="5.9" ry="5.5" fill="url(#gk)" opacity="0.94"/>
<ellipse cx="88.7" cy="752.4" rx="7.9" ry="4.7" fill="url(#gk)" opacity="0.96" transform="rotate(25 87.4 753.2)"/>
<ellipse cx="99.6" cy="768.0" rx="5.1" ry="4.7" fill="url(#gk)" opacity="0.94"/>
<ellipse cx="89.0" cy="777.5" rx="7.6" ry="4.5" fill="url(#gk)" opacity="0.96" transform="rotate(18 87.4 778.1)"/>
<ellipse cx="99.5" cy="793.3" rx="4.3" ry="4.0" fill="url(#gk)" opacity="0.94"/>
<ellipse cx="124.5" cy="568.7" rx="6.4" ry="6.0" fill="url(#gk)" opacity="0.94"/>
<ellipse cx="113.8" cy="577.6" rx="11.2" ry="6.6" fill="url(#gk)" opacity="0.96" transform="rotate(18 112.3 578.5)"/>
<ellipse cx="124.6" cy="592.7" rx="5.9" ry="5.5" fill="url(#gk)" opacity="0.94"/>
<ellipse cx="113.5" cy="603.1" rx="9.7" ry="5.7" fill="url(#gk)" opacity="0.96" transform="rotate(27 112.3 603.5)"/>
<ellipse cx="124.7" cy="618.0" rx="6.7" ry="6.3" fill="url(#gk)" opacity="0.94"/>
<ellipse cx="113.7" cy="627.7" rx="10.2" ry="6.0" fill="url(#gk)" opacity="0.96" transform="rotate(17 112.3 628.4)"/>
<ellipse cx="125.4" cy="642.7" rx="6.1" ry="5.8" fill="url(#gk)" opacity="0.94"/>
<ellipse cx="114.0" cy="653.3" rx="10.2" ry="6.0" fill="url(#gk)" opacity="0.96" transform="rotate(19 112.3 653.4)"/>
<ellipse cx="124.5" cy="667.9" rx="6.1" ry="5.7" fill="url(#gk)" opacity="0.94"/>
<ellipse cx="114.5" cy="678.2" rx="10.1" ry="6.0" fill="url(#gk)" opacity="0.96" transform="rotate(26 112.3 678.3)"/>
<ellipse cx="124.3" cy="693.3" rx="5.8" ry="5.5" fill="url(#gk)" opacity="0.94"/>
<ellipse cx="113.8" cy="702.9" rx="11.0" ry="6.5" fill="url(#gk)" opacity="0.96" transform="rotate(16 112.3 703.3)"/>
<ellipse cx="125.3" cy="718.3" rx="6.3" ry="5.9" fill="url(#gk)" opacity="0.94"/>
<ellipse cx="114.5" cy="727.4" rx="10.9" ry="6.4" fill="url(#gk)" opacity="0.96" transform="rotate(17 112.3 728.2)"/>
<ellipse cx="124.9" cy="743.1" rx="6.0" ry="5.6" fill="url(#gk)" opacity="0.94"/>
<ellipse cx="114.2" cy="752.9" rx="8.6" ry="5.1" fill="url(#gk)" opacity="0.96" transform="rotate(25 112.3 753.2)"/>
<ellipse cx="124.9" cy="767.3" rx="4.6" ry="4.3" fill="url(#gk)" opacity="0.94"/>
<ellipse cx="113.5" cy="778.1" rx="8.4" ry="5.0" fill="url(#gk)" opacity="0.96" transform="rotate(24 112.3 778.1)"/>
<ellipse cx="124.4" cy="792.5" rx="4.4" ry="4.2" fill="url(#gk)" opacity="0.94"/>
<ellipse cx="114.1" cy="802.1" rx="8.2" ry="4.8" fill="url(#gk)" opacity="0.96" transform="rotate(17 112.3 803.1)"/>
<ellipse cx="124.9" cy="817.6" rx="4.6" ry="4.4" fill="url(#gk)" opacity="0.94"/>
<ellipse cx="138.9" cy="552.5" rx="9.6" ry="5.7" fill="url(#gk)" opacity="0.96" transform="rotate(20 137.3 553.6)"/>
<ellipse cx="150.3" cy="568.4" rx="6.4" ry="6.0" fill="url(#gk)" opacity="0.94"/>
<ellipse cx="138.8" cy="577.7" rx="11.0" ry="6.5" fill="url(#gk)" opacity="0.96" transform="rotate(19 137.3 578.5)"/>
<ellipse cx="150.0" cy="593.0" rx="7.0" ry="6.6" fill="url(#gk)" opacity="0.94"/>
<ellipse cx="138.8" cy="603.2" rx="9.2" ry="5.5" fill="url(#gk)" opacity="0.96" transform="rotate(21 137.3 603.5)"/>
<ellipse cx="150.0" cy="618.7" rx="6.1" ry="5.7" fill="url(#gk)" opacity="0.94"/>
<ellipse cx="138.1" cy="627.7" rx="9.7" ry="5.7" fill="url(#gk)" opacity="0.96" transform="rotate(21 137.3 628.4)"/>
<ellipse cx="149.4" cy="643.5" rx="6.7" ry="6.2" fill="url(#gk)" opacity="0.94"/>
<ellipse cx="138.8" cy="652.5" rx="10.7" ry="6.3" fill="url(#gk)" opacity="0.96" transform="rotate(28 137.3 653.4)"/>
<ellipse cx="150.2" cy="667.7" rx="6.2" ry="5.8" fill="url(#gk)" opacity="0.94"/>
<ellipse cx="139.2" cy="677.6" rx="9.6" ry="5.7" fill="url(#gk)" opacity="0.96" transform="rotate(27 137.3 678.3)"/>
<ellipse cx="149.4" cy="692.7" rx="6.4" ry="6.0" fill="url(#gk)" opacity="0.94"/>
<ellipse cx="139.0" cy="703.3" rx="10.0" ry="5.9" fill="url(#gk)" opacity="0.96" transform="rotate(18 137.3 703.3)"/>
<ellipse cx="149.4" cy="718.5" rx="6.3" ry="5.9" fill="url(#gk)" opacity="0.94"/>
<ellipse cx="138.2" cy="727.2" rx="9.5" ry="5.6" fill="url(#gk)" opacity="0.96" transform="rotate(21 137.3 728.2)"/>
<ellipse cx="150.2" cy="743.2" rx="6.9" ry="6.5" fill="url(#gk)" opacity="0.94"/>
<ellipse cx="139.4" cy="752.5" rx="8.7" ry="5.2" fill="url(#gk)" opacity="0.96" transform="rotate(18 137.3 753.2)"/>
<ellipse cx="150.1" cy="767.3" rx="5.0" ry="4.7" fill="url(#gk)" opacity="0.94"/>
<ellipse cx="138.6" cy="777.5" rx="8.2" ry="4.8" fill="url(#gk)" opacity="0.96" transform="rotate(20 137.3 778.1)"/>
<ellipse cx="149.2" cy="792.5" rx="4.3" ry="4.1" fill="url(#gk)" opacity="0.94"/>
<ellipse cx="139.4" cy="802.1" rx="7.7" ry="4.6" fill="url(#gk)" opacity="0.96" transform="rotate(28 137.3 803.1)"/>
<ellipse cx="149.6" cy="818.1" rx="4.4" ry="4.1" fill="url(#gk)" opacity="0.94"/>
<ellipse cx="138.7" cy="827.0" rx="8.5" ry="5.0" fill="url(#gk)" opacity="0.96" transform="rotate(22 137.3 828.0)"/>
<ellipse cx="164.3" cy="552.7" rx="9.9" ry="5.9" fill="url(#gk)" opacity="0.96" transform="rotate(20 162.2 553.6)"/>
<ellipse cx="174.2" cy="568.1" rx="6.9" ry="6.5" fill="url(#gk)" opacity="0.94"/>
<ellipse cx="164.1" cy="577.5" rx="10.8" ry="6.4" fill="url(#gk)" opacity="0.96" transform="rotate(16 162.2 578.5)"/>
<ellipse cx="175.2" cy="592.9" rx="5.9" ry="5.5" fill="url(#gk)" opacity="0.94"/>
<ellipse cx="164.3" cy="602.8" rx="10.7" ry="6.3" fill="url(#gk)" opacity="0.96" transform="rotate(19 162.2 603.5)"/>
<ellipse cx="174.9" cy="617.9" rx="7.0" ry="6.6" fill="url(#gk)" opacity="0.94"/>
<ellipse cx="163.5" cy="627.7" rx="10.6" ry="6.3" fill="url(#gk)" opacity="0.96" transform="rotate(16 162.2 628.4)"/>
<ellipse cx="175.2" cy="643.3" rx="6.7" ry="6.3" fill="url(#gk)" opacity="0.94"/>
<ellipse cx="163.1" cy="652.6" rx="11.1" ry="6.5" fill="url(#gk)" opacity="0.96" transform="rotate(22 162.2 653.4)"/>
<ellipse cx="175.3" cy="667.9" rx="7.0" ry="6.6" fill="url(#gk)" opacity="0.94"/>
<ellipse cx="163.7" cy="677.8" rx="9.7" ry="5.7" fill="url(#gk)" opacity="0.96" transform="rotate(27 162.2 678.3)"/>
<ellipse cx="175.1" cy="693.3" rx="6.0" ry="5.6" fill="url(#gk)" opacity="0.94"/>
<ellipse cx="164.1" cy="702.9" rx="10.8" ry="6.4" fill="url(#gk)" opacity="0.96" transform="rotate(20 162.2 703.3)"/>
<ellipse cx="174.6" cy="718.3" rx="6.2" ry="5.8" fill="url(#gk)" opacity="0.94"/>
<ellipse cx="163.3" cy="728.0" rx="9.4" ry="5.5" fill="url(#gk)" opacity="0.96" transform="rotate(19 162.2 728.2)"/>
<ellipse cx="174.2" cy="743.0" rx="5.9" ry="5.5" fill="url(#gk)" opacity="0.94"/>
<ellipse cx="164.4" cy="753.1" rx="7.7" ry="4.5" fill="url(#gk)" opacity="0.96" transform="rotate(28 162.2 753.2)"/>
<ellipse cx="174.2" cy="767.4" rx="4.4" ry="4.1" fill="url(#gk)" opacity="0.94"/>
<ellipse cx="164.0" cy="777.6" rx="8.0" ry="4.7" fill="url(#gk)" opacity="0.96" transform="rotate(19 162.2 778.1)"/>
<ellipse cx="174.9" cy="793.0" rx="4.6" ry="4.3" fill="url(#gk)" opacity="0.94"/>
<ellipse cx="164.2" cy="802.8" rx="8.3" ry="4.9" fill="url(#gk)" opacity="0.96" transform="rotate(17 162.2 803.1)"/>
<ellipse cx="174.5" cy="817.8" rx="4.9" ry="4.6" fill="url(#gk)" opacity="0.94"/>
<ellipse cx="164.1" cy="827.2" rx="7.8" ry="4.6" fill="url(#gk)" opacity="0.96" transform="rotate(19 162.2 828.0)"/>
<ellipse cx="188.2" cy="553.5" rx="9.7" ry="5.7" fill="url(#gk)" opacity="0.96" transform="rotate(23 187.2 553.6)"/>
<ellipse cx="199.6" cy="568.8" rx="6.2" ry="5.8" fill="url(#gk)" opacity="0.94"/>
<ellipse cx="188.3" cy="578.4" rx="10.2" ry="6.0" fill="url(#gk)" opacity="0.96" transform="rotate(24 187.2 578.5)"/>
<ellipse cx="199.2" cy="593.2" rx="7.0" ry="6.6" fill="url(#gk)" opacity="0.94"/>
<ellipse cx="189.2" cy="603.5" rx="10.8" ry="6.4" fill="url(#gk)" opacity="0.96" transform="rotate(16 187.2 603.5)"/>
<ellipse cx="199.2" cy="617.8" rx="6.2" ry="5.8" fill="url(#gk)" opacity="0.94"/>
<ellipse cx="188.8" cy="628.4" rx="11.1" ry="6.6" fill="url(#gk)" opacity="0.96" transform="rotate(20 187.2 628.4)"/>
<ellipse cx="199.6" cy="642.8" rx="6.9" ry="6.5" fill="url(#gk)" opacity="0.94"/>
<ellipse cx="189.3" cy="652.4" rx="10.8" ry="6.3" fill="url(#gk)" opacity="0.96" transform="rotate(23 187.2 653.4)"/>
<ellipse cx="199.3" cy="667.9" rx="6.6" ry="6.2" fill="url(#gk)" opacity="0.94"/>
<ellipse cx="188.3" cy="677.5" rx="9.5" ry="5.6" fill="url(#gk)" opacity="0.96" transform="rotate(23 187.2 678.3)"/>
<ellipse cx="199.3" cy="692.4" rx="6.6" ry="6.2" fill="url(#gk)" opacity="0.94"/>
<ellipse cx="188.9" cy="702.4" rx="9.9" ry="5.8" fill="url(#gk)" opacity="0.96" transform="rotate(20 187.2 703.3)"/>
<ellipse cx="200.0" cy="718.0" rx="6.1" ry="5.7" fill="url(#gk)" opacity="0.94"/>
<ellipse cx="188.1" cy="727.6" rx="9.3" ry="5.5" fill="url(#gk)" opacity="0.96" transform="rotate(23 187.2 728.2)"/>
<ellipse cx="199.2" cy="742.5" rx="6.6" ry="6.2" fill="url(#gk)" opacity="0.94"/>
<ellipse cx="188.6" cy="752.4" rx="8.3" ry="4.9" fill="url(#gk)" opacity="0.96" transform="rotate(20 187.2 753.2)"/>
<ellipse cx="199.4" cy="767.9" rx="5.0" ry="4.7" fill="url(#gk)" opacity="0.94"/>
<ellipse cx="188.6" cy="778.1" rx="7.7" ry="4.6" fill="url(#gk)" opacity="0.96" transform="rotate(28 187.2 778.1)"/>
<ellipse cx="199.3" cy="793.1" rx="4.5" ry="4.2" fill="url(#gk)" opacity="0.94"/>
<ellipse cx="188.0" cy="803.1" rx="7.5" ry="4.4" fill="url(#gk)" opacity="0.96" transform="rotate(21 187.2 803.1)"/>
<ellipse cx="199.6" cy="818.2" rx="4.9" ry="4.6" fill="url(#gk)" opacity="0.94"/>
<ellipse cx="188.2" cy="826.9" rx="7.9" ry="4.7" fill="url(#gk)" opacity="0.96" transform="rotate(23 187.2 828.0)"/>
<ellipse cx="214.2" cy="552.6" rx="10.5" ry="6.2" fill="url(#gk)" opacity="0.96" transform="rotate(23 212.1 553.6)"/>
<ellipse cx="224.6" cy="567.8" rx="6.3" ry="5.9" fill="url(#gk)" opacity="0.94"/>
<ellipse cx="213.7" cy="578.5" rx="9.8" ry="5.8" fill="url(#gk)" opacity="0.96" transform="rotate(17 212.1 578.5)"/>
<ellipse cx="225.0" cy="593.8" rx="6.4" ry="6.0" fill="url(#gk)" opacity="0.94"/>
<ellipse cx="213.1" cy="603.5" rx="9.6" ry="5.7" fill="url(#gk)" opacity="0.96" transform="rotate(28 212.1 603.5)"/>
<ellipse cx="224.1" cy="618.7" rx="6.4" ry="6.0" fill="url(#gk)" opacity="0.94"/>
<ellipse cx="214.2" cy="628.1" rx="10.0" ry="5.9" fill="url(#gk)" opacity="0.96" transform="rotate(26 212.1 628.4)"/>
<ellipse cx="225.0" cy="642.8" rx="6.0" ry="5.6" fill="url(#gk)" opacity="0.94"/>
<ellipse cx="214.1" cy="653.3" rx="10.0" ry="5.9" fill="url(#gk)" opacity="0.96" transform="rotate(18 212.1 653.4)"/>
<ellipse cx="224.5" cy="668.1" rx="6.1" ry="5.7" fill="url(#gk)" opacity="0.94"/>
<ellipse cx="213.1" cy="677.5" rx="10.0" ry="5.9" fill="url(#gk)" opacity="0.96" transform="rotate(25 212.1 678.3)"/>
<ellipse cx="224.1" cy="693.1" rx="6.9" ry="6.5" fill="url(#gk)" opacity="0.94"/>
<ellipse cx="213.0" cy="703.2" rx="10.7" ry="6.3" fill="url(#gk)" opacity="0.96" transform="rotate(17 212.1 703.3)"/>
<ellipse cx="224.7" cy="718.1" rx="6.6" ry="6.1" fill="url(#gk)" opacity="0.94"/>
<ellipse cx="213.5" cy="727.8" rx="9.8" ry="5.8" fill="url(#gk)" opacity="0.96" transform="rotate(21 212.1 728.2)"/>
<ellipse cx="224.6" cy="742.8" rx="6.6" ry="6.2" fill="url(#gk)" opacity="0.94"/>
<ellipse cx="213.8" cy="752.7" rx="7.2" ry="4.3" fill="url(#gk)" opacity="0.96" transform="rotate(19 212.1 753.2)"/>
<ellipse cx="225.0" cy="767.8" rx="4.9" ry="4.6" fill="url(#gk)" opacity="0.94"/>
<ellipse cx="213.6" cy="777.2" rx="7.5" ry="4.4" fill="url(#gk)" opacity="0.96" transform="rotate(18 212.1 778.1)"/>
<ellipse cx="224.1" cy="792.7" rx="4.6" ry="4.3" fill="url(#gk)" opacity="0.94"/>
<ellipse cx="213.0" cy="802.7" rx="8.0" ry="4.7" fill="url(#gk)" opacity="0.96" transform="rotate(17 212.1 803.1)"/>
<ellipse cx="225.0" cy="817.8" rx="4.8" ry="4.5" fill="url(#gk)" opacity="0.94"/>
<ellipse cx="213.7" cy="827.4" rx="7.3" ry="4.3" fill="url(#gk)" opacity="0.96" transform="rotate(27 212.1 828.0)"/>
<ellipse cx="239.1" cy="553.7" rx="9.5" ry="5.6" fill="url(#gk)" opacity="0.96" transform="rotate(25 237.1 553.6)"/>
<ellipse cx="249.2" cy="568.8" rx="6.8" ry="6.4" fill="url(#gk)" opacity="0.94"/>
<ellipse cx="239.2" cy="578.5" rx="10.2" ry="6.0" fill="url(#gk)" opacity="0.96" transform="rotate(18 237.1 578.5)"/>
<ellipse cx="250.1" cy="592.7" rx="6.8" ry="6.4" fill="url(#gk)" opacity="0.94"/>
<ellipse cx="239.0" cy="602.6" rx="9.9" ry="5.8" fill="url(#gk)" opacity="0.96" transform="rotate(27 237.1 603.5)"/>
<ellipse cx="250.0" cy="617.7" rx="6.1" ry="5.8" fill="url(#gk)" opacity="0.94"/>
<ellipse cx="239.2" cy="627.6" rx="10.2" ry="6.0" fill="url(#gk)" opacity="0.96" transform="rotate(19 237.1 628.4)"/>
<ellipse cx="249.4" cy="642.5" rx="6.4" ry="6.0" fill="url(#gk)" opacity="0.94"/>
<ellipse cx="238.1" cy="653.4" rx="9.6" ry="5.6" fill="url(#gk)" opacity="0.96" transform="rotate(24 237.1 653.4)"/>
<ellipse cx="249.2" cy="668.4" rx="6.9" ry="6.5" fill="url(#gk)" opacity="0.94"/>
<ellipse cx="238.6" cy="678.0" rx="9.4" ry="5.6" fill="url(#gk)" opacity="0.96" transform="rotate(20 237.1 678.3)"/>
<ellipse cx="249.6" cy="693.1" rx="6.9" ry="6.5" fill="url(#gk)" opacity="0.94"/>
<ellipse cx="238.0" cy="703.4" rx="11.0" ry="6.5" fill="url(#gk)" opacity="0.96" transform="rotate(24 237.1 703.3)"/>
<ellipse cx="249.9" cy="717.7" rx="6.3" ry="5.9" fill="url(#gk)" opacity="0.94"/>
<ellipse cx="238.7" cy="727.6" rx="11.2" ry="6.6" fill="url(#gk)" opacity="0.96" transform="rotate(25 237.1 728.2)"/>
<ellipse cx="249.2" cy="743.2" rx="6.4" ry="5.9" fill="url(#gk)" opacity="0.94"/>
<ellipse cx="239.0" cy="752.4" rx="7.3" ry="4.3" fill="url(#gk)" opacity="0.96" transform="rotate(24 237.1 753.2)"/>
<ellipse cx="249.7" cy="768.0" rx="5.1" ry="4.7" fill="url(#gk)" opacity="0.94"/>
<ellipse cx="237.9" cy="777.1" rx="7.7" ry="4.5" fill="url(#gk)" opacity="0.96" transform="rotate(18 237.1 778.1)"/>
<ellipse cx="249.5" cy="792.8" rx="4.7" ry="4.4" fill="url(#gk)" opacity="0.94"/>
<ellipse cx="238.1" cy="802.2" rx="8.6" ry="5.1" fill="url(#gk)" opacity="0.96" transform="rotate(24 237.1 803.1)"/>
<ellipse cx="249.0" cy="817.6" rx="4.2" ry="3.9" fill="url(#gk)" opacity="0.94"/>
<ellipse cx="238.4" cy="827.2" rx="7.3" ry="4.3" fill="url(#gk)" opacity="0.96" transform="rotate(23 237.1 828.0)"/>
<ellipse cx="263.1" cy="578.2" rx="10.4" ry="6.1" fill="url(#gk)" opacity="0.96" transform="rotate(22 262.0 578.5)"/>
<ellipse cx="275.0" cy="592.9" rx="6.0" ry="5.6" fill="url(#gk)" opacity="0.94"/>
<ellipse cx="263.0" cy="603.1" rx="9.5" ry="5.6" fill="url(#gk)" opacity="0.96" transform="rotate(26 262.0 603.5)"/>
<ellipse cx="274.4" cy="617.9" rx="6.8" ry="6.4" fill="url(#gk)" opacity="0.94"/>
<ellipse cx="263.8" cy="628.0" rx="9.2" ry="5.4" fill="url(#gk)" opacity="0.96" transform="rotate(20 262.0 628.4)"/>
<ellipse cx="274.5" cy="643.6" rx="6.6" ry="6.2" fill="url(#gk)" opacity="0.94"/>
<ellipse cx="263.2" cy="653.4" rx="10.7" ry="6.3" fill="url(#gk)" opacity="0.96" transform="rotate(17 262.0 653.4)"/>
<ellipse cx="274.4" cy="667.7" rx="6.5" ry="6.1" fill="url(#gk)" opacity="0.94"/>
<ellipse cx="263.9" cy="677.2" rx="9.3" ry="5.5" fill="url(#gk)" opacity="0.96" transform="rotate(23 262.0 678.3)"/>
<ellipse cx="274.1" cy="692.6" rx="7.0" ry="6.5" fill="url(#gk)" opacity="0.94"/>
<ellipse cx="263.6" cy="702.9" rx="10.4" ry="6.1" fill="url(#gk)" opacity="0.96" transform="rotate(26 262.0 703.3)"/>
<ellipse cx="274.3" cy="717.7" rx="6.0" ry="5.6" fill="url(#gk)" opacity="0.94"/>
<ellipse cx="264.1" cy="728.1" rx="9.3" ry="5.5" fill="url(#gk)" opacity="0.96" transform="rotate(25 262.0 728.2)"/>
<ellipse cx="274.9" cy="743.2" rx="5.8" ry="5.4" fill="url(#gk)" opacity="0.94"/>
<ellipse cx="263.9" cy="752.6" rx="7.9" ry="4.7" fill="url(#gk)" opacity="0.96" transform="rotate(19 262.0 753.2)"/>
<ellipse cx="274.2" cy="767.3" rx="4.3" ry="4.0" fill="url(#gk)" opacity="0.94"/>
<ellipse cx="263.9" cy="777.9" rx="7.7" ry="4.5" fill="url(#gk)" opacity="0.96" transform="rotate(26 262.0 778.1)"/>
<ellipse cx="274.2" cy="792.9" rx="4.8" ry="4.5" fill="url(#gk)" opacity="0.94"/>
<ellipse cx="264.0" cy="802.6" rx="7.9" ry="4.6" fill="url(#gk)" opacity="0.96" transform="rotate(19 262.0 803.1)"/>
<ellipse cx="289.2" cy="602.6" rx="10.5" ry="6.2" fill="url(#gk)" opacity="0.96" transform="rotate(27 287.0 603.5)"/>
<ellipse cx="299.2" cy="617.8" rx="5.8" ry="5.4" fill="url(#gk)" opacity="0.94"/>
<ellipse cx="289.1" cy="628.2" rx="10.7" ry="6.3" fill="url(#gk)" opacity="0.96" transform="rotate(20 287.0 628.4)"/>
<ellipse cx="299.3" cy="642.8" rx="6.9" ry="6.5" fill="url(#gk)" opacity="0.94"/>
<ellipse cx="288.7" cy="653.1" rx="11.0" ry="6.5" fill="url(#gk)" opacity="0.96" transform="rotate(24 287.0 653.4)"/>
<ellipse cx="299.4" cy="668.5" rx="7.0" ry="6.6" fill="url(#gk)" opacity="0.94"/>
<ellipse cx="289.0" cy="677.7" rx="10.6" ry="6.3" fill="url(#gk)" opacity="0.96" transform="rotate(25 287.0 678.3)"/>
<ellipse cx="299.2" cy="692.7" rx="6.5" ry="6.1" fill="url(#gk)" opacity="0.94"/>
<ellipse cx="287.9" cy="703.3" rx="10.4" ry="6.2" fill="url(#gk)" opacity="0.96" transform="rotate(18 287.0 703.3)"/>
<ellipse cx="299.0" cy="718.5" rx="5.8" ry="5.5" fill="url(#gk)" opacity="0.94"/>
<ellipse cx="288.0" cy="727.2" rx="9.9" ry="5.8" fill="url(#gk)" opacity="0.96" transform="rotate(16 287.0 728.2)"/>
<ellipse cx="299.6" cy="743.1" rx="6.7" ry="6.2" fill="url(#gk)" opacity="0.94"/>
<ellipse cx="287.9" cy="752.8" rx="8.3" ry="4.9" fill="url(#gk)" opacity="0.96" transform="rotate(20 287.0 753.2)"/>
<ellipse cx="299.9" cy="768.3" rx="4.9" ry="4.6" fill="url(#gk)" opacity="0.94"/>
<ellipse cx="289.0" cy="778.1" rx="7.3" ry="4.3" fill="url(#gk)" opacity="0.96" transform="rotate(27 287.0 778.1)"/>
<ellipse cx="313.0" cy="627.5" rx="9.4" ry="5.6" fill="url(#gk)" opacity="0.96" transform="rotate(16 311.9 628.4)"/>
<ellipse cx="324.8" cy="643.3" rx="6.9" ry="6.4" fill="url(#gk)" opacity="0.94"/>
<ellipse cx="313.6" cy="652.6" rx="10.9" ry="6.4" fill="url(#gk)" opacity="0.96" transform="rotate(17 311.9 653.4)"/>
<ellipse cx="324.7" cy="667.7" rx="5.9" ry="5.5" fill="url(#gk)" opacity="0.94"/>
<ellipse cx="313.3" cy="677.3" rx="9.8" ry="5.8" fill="url(#gk)" opacity="0.96" transform="rotate(19 311.9 678.3)"/>
<ellipse cx="324.7" cy="692.8" rx="6.2" ry="5.8" fill="url(#gk)" opacity="0.94"/>
<ellipse cx="314.1" cy="702.8" rx="9.8" ry="5.8" fill="url(#gk)" opacity="0.96" transform="rotate(26 311.9 703.3)"/>
<ellipse cx="323.9" cy="717.8" rx="6.6" ry="6.2" fill="url(#gk)" opacity="0.94"/>
<ellipse cx="313.8" cy="727.5" rx="10.1" ry="5.9" fill="url(#gk)" opacity="0.96" transform="rotate(24 311.9 728.2)"/>
<ellipse cx="324.1" cy="743.3" rx="6.5" ry="6.1" fill="url(#gk)" opacity="0.94"/>
<ellipse cx="313.9" cy="752.3" rx="7.3" ry="4.3" fill="url(#gk)" opacity="0.96" transform="rotate(16 311.9 753.2)"/>
<ellipse cx="62.4" cy="640.9" rx="7" ry="8" fill="url(#gw)" opacity="0.228"/>
<ellipse cx="62.4" cy="740.7" rx="7" ry="8" fill="url(#gw)" opacity="0.307"/>
<ellipse cx="137.3" cy="566.0" rx="7" ry="8" fill="url(#gw)" opacity="0.337"/>
<ellipse cx="137.3" cy="815.5" rx="7" ry="8" fill="url(#gw)" opacity="0.201"/>
<ellipse cx="237.1" cy="566.0" rx="7" ry="8" fill="url(#gw)" opacity="0.269"/>
<ellipse cx="237.1" cy="815.5" rx="7" ry="8" fill="url(#gw)" opacity="0.269"/>
<ellipse cx="311.9" cy="640.9" rx="7" ry="8" fill="url(#gw)" opacity="0.312"/>
<ellipse cx="311.9" cy="740.7" rx="7" ry="8" fill="url(#gw)" opacity="0.226"/>
<path d="M56.4 659.3L66.4 660.6L68.4 672.0L58.8 670.8Z" fill="#fff" opacity="0.216"/>
<ellipse cx="62.4" cy="665.8" rx="7.6" ry="9.6" fill="url(#gw)" opacity="0.486" transform="rotate(-32 62.4 665.8)"/>
<path d="M57.2 685.4 Q62.4 683.8 67.6 686.2 Q67.4 693.8 64.7 697.8 Q62.4 699.2 59.8 697.4 Q57.0 691.8 57.2 685.4Z" fill="#fff" opacity="0.205"/>
<ellipse cx="62.4" cy="690.8" rx="8.6" ry="9.6" fill="url(#gw)" opacity="0.497"/>
<path d="M57.2 710.4 Q62.4 708.8 67.6 711.1 Q67.4 718.8 64.7 722.8 Q62.4 724.1 59.8 722.4 Q57.0 716.8 57.2 710.4Z" fill="#fff" opacity="0.205"/>
<ellipse cx="62.4" cy="715.8" rx="8.6" ry="9.6" fill="url(#gw)" opacity="0.497"/>
<path d="M81.4 609.4L91.4 610.7L93.4 622.1L83.8 620.9Z" fill="#fff" opacity="0.216"/>
<ellipse cx="87.4" cy="615.9" rx="7.6" ry="9.6" fill="url(#gw)" opacity="0.486" transform="rotate(-32 87.4 615.9)"/>
<path d="M81.4 634.4L91.4 635.7L93.4 647.1L83.8 645.9Z" fill="#fff" opacity="0.233"/>
<ellipse cx="87.4" cy="640.9" rx="7.6" ry="9.6" fill="url(#gw)" opacity="0.525" transform="rotate(-32 87.4 640.9)"/>
<path d="M81.4 659.3L91.4 660.6L93.4 672.0L83.8 670.8Z" fill="#fff" opacity="0.240"/>
<ellipse cx="87.4" cy="665.8" rx="7.6" ry="9.6" fill="url(#gw)" opacity="0.540" transform="rotate(-32 87.4 665.8)"/>
<path d="M82.2 685.4 Q87.4 683.8 92.6 686.2 Q92.4 693.8 89.7 697.8 Q87.4 699.2 84.8 697.4 Q82.0 691.8 82.2 685.4Z" fill="#fff" opacity="0.228"/>
<ellipse cx="87.4" cy="690.8" rx="8.6" ry="9.6" fill="url(#gw)" opacity="0.552"/>
<path d="M82.2 710.4 Q87.4 708.8 92.6 711.1 Q92.4 718.8 89.7 722.8 Q87.4 724.1 84.8 722.4 Q82.0 716.8 82.2 710.4Z" fill="#fff" opacity="0.228"/>
<ellipse cx="87.4" cy="715.8" rx="8.6" ry="9.6" fill="url(#gw)" opacity="0.552"/>
<ellipse cx="87.4" cy="740.7" rx="10.0" ry="7.8" fill="url(#gw)" opacity="0.720" transform="rotate(-8 87.4 740.7)"/>
<ellipse cx="87.4" cy="765.6" rx="11.0" ry="7.0" fill="url(#gw)" opacity="0.611" transform="rotate(-8 87.4 765.6)"/>
<ellipse cx="99.9" cy="765.1" rx="10" ry="4.2" fill="url(#gs)" opacity="0.160"/>
<path d="M106.3 584.5L116.3 585.8L118.3 597.2L108.8 596.0Z" fill="#fff" opacity="0.238"/>
<ellipse cx="112.3" cy="591.0" rx="7.6" ry="9.6" fill="url(#gw)" opacity="0.536" transform="rotate(-32 112.3 591.0)"/>
<path d="M106.3 609.4L116.3 610.7L118.3 622.1L108.8 620.9Z" fill="#fff" opacity="0.240"/>
<ellipse cx="112.3" cy="615.9" rx="7.6" ry="9.6" fill="url(#gw)" opacity="0.540" transform="rotate(-32 112.3 615.9)"/>
<path d="M106.3 634.4L116.3 635.7L118.3 647.1L108.8 645.9Z" fill="#fff" opacity="0.261"/>
<ellipse cx="112.3" cy="640.9" rx="7.6" ry="9.6" fill="url(#gw)" opacity="0.588" transform="rotate(-32 112.3 640.9)"/>
<path d="M106.3 659.3L116.3 660.6L118.3 672.0L108.8 670.8Z" fill="#fff" opacity="0.253"/>
<ellipse cx="112.3" cy="665.8" rx="7.6" ry="9.6" fill="url(#gw)" opacity="0.569" transform="rotate(-32 112.3 665.8)"/>
<path d="M107.1 685.4 Q112.3 683.8 117.5 686.2 Q117.3 693.8 114.6 697.8 Q112.3 699.2 109.8 697.4 Q106.9 691.8 107.1 685.4Z" fill="#fff" opacity="0.239"/>
<ellipse cx="112.3" cy="690.8" rx="8.6" ry="9.6" fill="url(#gw)" opacity="0.578"/>
<path d="M107.1 710.4 Q112.3 708.8 117.5 711.1 Q117.3 718.8 114.6 722.8 Q112.3 724.1 109.8 722.4 Q106.9 716.8 107.1 710.4Z" fill="#fff" opacity="0.228"/>
<ellipse cx="112.3" cy="715.8" rx="8.6" ry="9.6" fill="url(#gw)" opacity="0.553"/>
<ellipse cx="112.3" cy="740.7" rx="10.0" ry="7.8" fill="url(#gw)" opacity="0.706" transform="rotate(-8 112.3 740.7)"/>
<ellipse cx="112.3" cy="765.6" rx="11.0" ry="7.0" fill="url(#gw)" opacity="0.640" transform="rotate(-8 112.3 765.6)"/>
<ellipse cx="124.8" cy="765.1" rx="10" ry="4.2" fill="url(#gs)" opacity="0.160"/>
<ellipse cx="112.3" cy="790.6" rx="12.0" ry="6.2" fill="url(#gw)" opacity="0.569" transform="rotate(-8 112.3 790.6)"/>
<ellipse cx="124.8" cy="790.1" rx="10" ry="4.2" fill="url(#gs)" opacity="0.260"/>
<path d="M131.3 584.5L141.3 585.8L143.3 597.2L133.7 596.0Z" fill="#fff" opacity="0.255"/>
<ellipse cx="137.3" cy="591.0" rx="7.6" ry="9.6" fill="url(#gw)" opacity="0.573" transform="rotate(-32 137.3 591.0)"/>
<path d="M131.3 609.4L141.3 610.7L143.3 622.1L133.7 620.9Z" fill="#fff" opacity="0.246"/>
<ellipse cx="137.3" cy="615.9" rx="7.6" ry="9.6" fill="url(#gw)" opacity="0.553" transform="rotate(-32 137.3 615.9)"/>
<path d="M131.3 634.4L141.3 635.7L143.3 647.1L133.7 645.9Z" fill="#fff" opacity="0.273"/>
<ellipse cx="137.3" cy="640.9" rx="7.6" ry="9.6" fill="url(#gw)" opacity="0.615" transform="rotate(-32 137.3 640.9)"/>
<path d="M131.3 659.3L141.3 660.6L143.3 672.0L133.7 670.8Z" fill="#fff" opacity="0.240"/>
<ellipse cx="137.3" cy="665.8" rx="7.6" ry="9.6" fill="url(#gw)" opacity="0.540" transform="rotate(-32 137.3 665.8)"/>
<path d="M132.1 685.4 Q137.3 683.8 142.5 686.2 Q142.3 693.8 139.6 697.8 Q137.3 699.2 134.7 697.4 Q131.9 691.8 132.1 685.4Z" fill="#fff" opacity="0.228"/>
<ellipse cx="137.3" cy="690.8" rx="8.6" ry="9.6" fill="url(#gw)" opacity="0.552"/>
<path d="M132.1 710.4 Q137.3 708.8 142.5 711.1 Q142.3 718.8 139.6 722.8 Q137.3 724.1 134.7 722.4 Q131.9 716.8 132.1 710.4Z" fill="#fff" opacity="0.228"/>
<ellipse cx="137.3" cy="715.8" rx="8.6" ry="9.6" fill="url(#gw)" opacity="0.552"/>
<ellipse cx="137.3" cy="740.7" rx="10.0" ry="7.8" fill="url(#gw)" opacity="0.760" transform="rotate(-8 137.3 740.7)"/>
<ellipse cx="137.3" cy="765.6" rx="11.0" ry="7.0" fill="url(#gw)" opacity="0.650" transform="rotate(-8 137.3 765.6)"/>
<ellipse cx="149.8" cy="765.1" rx="10" ry="4.2" fill="url(#gs)" opacity="0.160"/>
<ellipse cx="137.3" cy="790.6" rx="12.0" ry="6.2" fill="url(#gw)" opacity="0.568" transform="rotate(-8 137.3 790.6)"/>
<ellipse cx="149.8" cy="790.1" rx="10" ry="4.2" fill="url(#gs)" opacity="0.260"/>
<path d="M156.2 559.5L166.2 560.8L168.2 572.2L158.7 571.0Z" fill="#fff" opacity="0.266"/>
<ellipse cx="162.2" cy="566.0" rx="7.6" ry="9.6" fill="url(#gw)" opacity="0.598" transform="rotate(-32 162.2 566.0)"/>
<path d="M156.2 584.5L166.2 585.8L168.2 597.2L158.7 596.0Z" fill="#fff" opacity="0.265"/>
<ellipse cx="162.2" cy="591.0" rx="7.6" ry="9.6" fill="url(#gw)" opacity="0.595" transform="rotate(-32 162.2 591.0)"/>
<path d="M156.2 609.4L166.2 610.7L168.2 622.1L158.7 620.9Z" fill="#fff" opacity="0.269"/>
<ellipse cx="162.2" cy="615.9" rx="7.6" ry="9.6" fill="url(#gw)" opacity="0.605" transform="rotate(-32 162.2 615.9)"/>
<path d="M156.2 634.4L166.2 635.7L168.2 647.1L158.7 645.9Z" fill="#fff" opacity="0.267"/>
<ellipse cx="162.2" cy="640.9" rx="7.6" ry="9.6" fill="url(#gw)" opacity="0.600" transform="rotate(-32 162.2 640.9)"/>
<path d="M156.2 659.3L166.2 660.6L168.2 672.0L158.7 670.8Z" fill="#fff" opacity="0.271"/>
<ellipse cx="162.2" cy="665.8" rx="7.6" ry="9.6" fill="url(#gw)" opacity="0.610" transform="rotate(-32 162.2 665.8)"/>
<path d="M157.1 685.4 Q162.2 683.8 167.4 686.2 Q167.2 693.8 164.6 697.8 Q162.2 699.2 159.7 697.4 Q156.8 691.8 157.1 685.4Z" fill="#fff" opacity="0.253"/>
<ellipse cx="162.2" cy="690.8" rx="8.6" ry="9.6" fill="url(#gw)" opacity="0.612"/>
<path d="M157.1 710.4 Q162.2 708.8 167.4 711.1 Q167.2 718.8 164.6 722.8 Q162.2 724.1 159.7 722.4 Q156.8 716.8 157.1 710.4Z" fill="#fff" opacity="0.244"/>
<ellipse cx="162.2" cy="715.8" rx="8.6" ry="9.6" fill="url(#gw)" opacity="0.591"/>
<ellipse cx="162.2" cy="740.7" rx="10.0" ry="7.8" fill="url(#gw)" opacity="0.705" transform="rotate(-8 162.2 740.7)"/>
<ellipse cx="162.2" cy="765.6" rx="11.0" ry="7.0" fill="url(#gw)" opacity="0.633" transform="rotate(-8 162.2 765.6)"/>
<ellipse cx="174.7" cy="765.1" rx="10" ry="4.2" fill="url(#gs)" opacity="0.160"/>
<ellipse cx="162.2" cy="790.6" rx="12.0" ry="6.2" fill="url(#gw)" opacity="0.546" transform="rotate(-8 162.2 790.6)"/>
<ellipse cx="174.7" cy="790.1" rx="10" ry="4.2" fill="url(#gs)" opacity="0.260"/>
<ellipse cx="162.2" cy="815.5" rx="13.0" ry="5.4" fill="url(#gw)" opacity="0.484" transform="rotate(-8 162.2 815.5)"/>
<ellipse cx="174.7" cy="815.0" rx="10" ry="4.2" fill="url(#gs)" opacity="0.260"/>
<path d="M181.2 559.5L191.2 560.8L193.2 572.2L183.6 571.0Z" fill="#fff" opacity="0.265"/>
<ellipse cx="187.2" cy="566.0" rx="7.6" ry="9.6" fill="url(#gw)" opacity="0.596" transform="rotate(-32 187.2 566.0)"/>
<path d="M181.2 584.5L191.2 585.8L193.2 597.2L183.6 596.0Z" fill="#fff" opacity="0.293"/>
<ellipse cx="187.2" cy="591.0" rx="7.6" ry="9.6" fill="url(#gw)" opacity="0.659" transform="rotate(-32 187.2 591.0)"/>
<path d="M181.2 609.4L191.2 610.7L193.2 622.1L183.6 620.9Z" fill="#fff" opacity="0.265"/>
<ellipse cx="187.2" cy="615.9" rx="7.6" ry="9.6" fill="url(#gw)" opacity="0.597" transform="rotate(-32 187.2 615.9)"/>
<path d="M181.2 634.4L191.2 635.7L193.2 647.1L183.6 645.9Z" fill="#fff" opacity="0.271"/>
<ellipse cx="187.2" cy="640.9" rx="7.6" ry="9.6" fill="url(#gw)" opacity="0.610" transform="rotate(-32 187.2 640.9)"/>
<path d="M181.2 659.3L191.2 660.6L193.2 672.0L183.6 670.8Z" fill="#fff" opacity="0.280"/>
<ellipse cx="187.2" cy="665.8" rx="7.6" ry="9.6" fill="url(#gw)" opacity="0.629" transform="rotate(-32 187.2 665.8)"/>
<path d="M182.0 685.4 Q187.2 683.8 192.4 686.2 Q192.2 693.8 189.5 697.8 Q187.2 699.2 184.6 697.4 Q181.8 691.8 182.0 685.4Z" fill="#fff" opacity="0.254"/>
<ellipse cx="187.2" cy="690.8" rx="8.6" ry="9.6" fill="url(#gw)" opacity="0.614"/>
<path d="M182.0 710.4 Q187.2 708.8 192.4 711.1 Q192.2 718.8 189.5 722.8 Q187.2 724.1 184.6 722.4 Q181.8 716.8 182.0 710.4Z" fill="#fff" opacity="0.232"/>
<ellipse cx="187.2" cy="715.8" rx="8.6" ry="9.6" fill="url(#gw)" opacity="0.562"/>
<ellipse cx="187.2" cy="740.7" rx="10.0" ry="7.8" fill="url(#gw)" opacity="0.716" transform="rotate(-8 187.2 740.7)"/>
<ellipse cx="187.2" cy="765.6" rx="11.0" ry="7.0" fill="url(#gw)" opacity="0.689" transform="rotate(-8 187.2 765.6)"/>
<ellipse cx="199.7" cy="765.1" rx="10" ry="4.2" fill="url(#gs)" opacity="0.160"/>
<ellipse cx="187.2" cy="790.6" rx="12.0" ry="6.2" fill="url(#gw)" opacity="0.554" transform="rotate(-8 187.2 790.6)"/>
<ellipse cx="199.7" cy="790.1" rx="10" ry="4.2" fill="url(#gs)" opacity="0.260"/>
<ellipse cx="187.2" cy="815.5" rx="13.0" ry="5.4" fill="url(#gw)" opacity="0.419" transform="rotate(-8 187.2 815.5)"/>
<ellipse cx="199.7" cy="815.0" rx="10" ry="4.2" fill="url(#gs)" opacity="0.260"/>
<path d="M206.1 559.5L216.1 560.8L218.1 572.2L208.5 571.0Z" fill="#fff" opacity="0.259"/>
<ellipse cx="212.1" cy="566.0" rx="7.6" ry="9.6" fill="url(#gw)" opacity="0.583" transform="rotate(-32 212.1 566.0)"/>
<path d="M206.1 584.5L216.1 585.8L218.1 597.2L208.5 596.0Z" fill="#fff" opacity="0.299"/>
<ellipse cx="212.1" cy="591.0" rx="7.6" ry="9.6" fill="url(#gw)" opacity="0.673" transform="rotate(-32 212.1 591.0)"/>
<path d="M206.1 609.4L216.1 610.7L218.1 622.1L208.5 620.9Z" fill="#fff" opacity="0.300"/>
<ellipse cx="212.1" cy="615.9" rx="7.6" ry="9.6" fill="url(#gw)" opacity="0.675" transform="rotate(-32 212.1 615.9)"/>
<path d="M206.1 634.4L216.1 635.7L218.1 647.1L208.5 645.9Z" fill="#fff" opacity="0.268"/>
<ellipse cx="212.1" cy="640.9" rx="7.6" ry="9.6" fill="url(#gw)" opacity="0.603" transform="rotate(-32 212.1 640.9)"/>
<path d="M206.1 659.3L216.1 660.6L218.1 672.0L208.5 670.8Z" fill="#fff" opacity="0.263"/>
<ellipse cx="212.1" cy="665.8" rx="7.6" ry="9.6" fill="url(#gw)" opacity="0.592" transform="rotate(-32 212.1 665.8)"/>
<path d="M206.9 685.4 Q212.1 683.8 217.3 686.2 Q217.1 693.8 214.4 697.8 Q212.1 699.2 209.5 697.4 Q206.7 691.8 206.9 685.4Z" fill="#fff" opacity="0.249"/>
<ellipse cx="212.1" cy="690.8" rx="8.6" ry="9.6" fill="url(#gw)" opacity="0.602"/>
<path d="M206.9 710.4 Q212.1 708.8 217.3 711.1 Q217.1 718.8 214.4 722.8 Q212.1 724.1 209.5 722.4 Q206.7 716.8 206.9 710.4Z" fill="#fff" opacity="0.247"/>
<ellipse cx="212.1" cy="715.8" rx="8.6" ry="9.6" fill="url(#gw)" opacity="0.599"/>
<ellipse cx="212.1" cy="740.7" rx="10.0" ry="7.8" fill="url(#gw)" opacity="0.722" transform="rotate(-8 212.1 740.7)"/>
<ellipse cx="212.1" cy="765.6" rx="11.0" ry="7.0" fill="url(#gw)" opacity="0.616" transform="rotate(-8 212.1 765.6)"/>
<ellipse cx="224.6" cy="765.1" rx="10" ry="4.2" fill="url(#gs)" opacity="0.160"/>
<ellipse cx="212.1" cy="790.6" rx="12.0" ry="6.2" fill="url(#gw)" opacity="0.563" transform="rotate(-8 212.1 790.6)"/>
<ellipse cx="224.6" cy="790.1" rx="10" ry="4.2" fill="url(#gs)" opacity="0.260"/>
<ellipse cx="212.1" cy="815.5" rx="13.0" ry="5.4" fill="url(#gw)" opacity="0.419" transform="rotate(-8 212.1 815.5)"/>
<path d="M231.1 584.5L241.1 585.8L243.1 597.2L233.5 596.0Z" fill="#fff" opacity="0.286"/>
<ellipse cx="237.1" cy="591.0" rx="7.6" ry="9.6" fill="url(#gw)" opacity="0.644" transform="rotate(-32 237.1 591.0)"/>
<path d="M231.1 609.4L241.1 610.7L243.1 622.1L233.5 620.9Z" fill="#fff" opacity="0.304"/>
<ellipse cx="237.1" cy="615.9" rx="7.6" ry="9.6" fill="url(#gw)" opacity="0.683" transform="rotate(-32 237.1 615.9)"/>
<path d="M231.1 634.4L241.1 635.7L243.1 647.1L233.5 645.9Z" fill="#fff" opacity="0.274"/>
<ellipse cx="237.1" cy="640.9" rx="7.6" ry="9.6" fill="url(#gw)" opacity="0.616" transform="rotate(-32 237.1 640.9)"/>
<path d="M231.1 659.3L241.1 660.6L243.1 672.0L233.5 670.8Z" fill="#fff" opacity="0.303"/>
<ellipse cx="237.1" cy="665.8" rx="7.6" ry="9.6" fill="url(#gw)" opacity="0.682" transform="rotate(-32 237.1 665.8)"/>
<path d="M231.9 685.4 Q237.1 683.8 242.3 686.2 Q242.1 693.8 239.4 697.8 Q237.1 699.2 234.5 697.4 Q231.7 691.8 231.9 685.4Z" fill="#fff" opacity="0.251"/>
<ellipse cx="237.1" cy="690.8" rx="8.6" ry="9.6" fill="url(#gw)" opacity="0.607"/>
<path d="M231.9 710.4 Q237.1 708.8 242.3 711.1 Q242.1 718.8 239.4 722.8 Q237.1 724.1 234.5 722.4 Q231.7 716.8 231.9 710.4Z" fill="#fff" opacity="0.257"/>
<ellipse cx="237.1" cy="715.8" rx="8.6" ry="9.6" fill="url(#gw)" opacity="0.622"/>
<ellipse cx="237.1" cy="740.7" rx="10.0" ry="7.8" fill="url(#gw)" opacity="0.768" transform="rotate(-8 237.1 740.7)"/>
<ellipse cx="237.1" cy="765.6" rx="11.0" ry="7.0" fill="url(#gw)" opacity="0.679" transform="rotate(-8 237.1 765.6)"/>
<ellipse cx="249.6" cy="765.1" rx="10" ry="4.2" fill="url(#gs)" opacity="0.160"/>
<ellipse cx="237.1" cy="790.6" rx="12.0" ry="6.2" fill="url(#gw)" opacity="0.603" transform="rotate(-8 237.1 790.6)"/>
<ellipse cx="249.6" cy="790.1" rx="10" ry="4.2" fill="url(#gs)" opacity="0.260"/>
<path d="M256.0 584.5L266.0 585.8L268.0 597.2L258.4 596.0Z" fill="#fff" opacity="0.274"/>
<ellipse cx="262.0" cy="591.0" rx="7.6" ry="9.6" fill="url(#gw)" opacity="0.617" transform="rotate(-32 262.0 591.0)"/>
<path d="M256.0 609.4L266.0 610.7L268.0 622.1L258.4 620.9Z" fill="#fff" opacity="0.290"/>
<ellipse cx="262.0" cy="615.9" rx="7.6" ry="9.6" fill="url(#gw)" opacity="0.653" transform="rotate(-32 262.0 615.9)"/>
<path d="M256.0 634.4L266.0 635.7L268.0 647.1L258.4 645.9Z" fill="#fff" opacity="0.303"/>
<ellipse cx="262.0" cy="640.9" rx="7.6" ry="9.6" fill="url(#gw)" opacity="0.682" transform="rotate(-32 262.0 640.9)"/>
<path d="M256.0 659.3L266.0 660.6L268.0 672.0L258.4 670.8Z" fill="#fff" opacity="0.277"/>
<ellipse cx="262.0" cy="665.8" rx="7.6" ry="9.6" fill="url(#gw)" opacity="0.623" transform="rotate(-32 262.0 665.8)"/>
<path d="M256.8 685.4 Q262.0 683.8 267.2 686.2 Q267.0 693.8 264.3 697.8 Q262.0 699.2 259.4 697.4 Q256.6 691.8 256.8 685.4Z" fill="#fff" opacity="0.262"/>
<ellipse cx="262.0" cy="690.8" rx="8.6" ry="9.6" fill="url(#gw)" opacity="0.635"/>
<path d="M256.8 710.4 Q262.0 708.8 267.2 711.1 Q267.0 718.8 264.3 722.8 Q262.0 724.1 259.4 722.4 Q256.6 716.8 256.8 710.4Z" fill="#fff" opacity="0.265"/>
<ellipse cx="262.0" cy="715.8" rx="8.6" ry="9.6" fill="url(#gw)" opacity="0.641"/>
<ellipse cx="262.0" cy="740.7" rx="10.0" ry="7.8" fill="url(#gw)" opacity="0.673" transform="rotate(-8 262.0 740.7)"/>
<ellipse cx="262.0" cy="765.6" rx="11.0" ry="7.0" fill="url(#gw)" opacity="0.640" transform="rotate(-8 262.0 765.6)"/>
<ellipse cx="274.5" cy="765.1" rx="10" ry="4.2" fill="url(#gs)" opacity="0.160"/>
<ellipse cx="262.0" cy="790.6" rx="12.0" ry="6.2" fill="url(#gw)" opacity="0.609" transform="rotate(-8 262.0 790.6)"/>
<path d="M281.0 609.4L291.0 610.7L293.0 622.1L283.4 620.9Z" fill="#fff" opacity="0.286"/>
<ellipse cx="287.0" cy="615.9" rx="7.6" ry="9.6" fill="url(#gw)" opacity="0.644" transform="rotate(-32 287.0 615.9)"/>
<path d="M281.0 634.4L291.0 635.7L293.0 647.1L283.4 645.9Z" fill="#fff" opacity="0.275"/>
<ellipse cx="287.0" cy="640.9" rx="7.6" ry="9.6" fill="url(#gw)" opacity="0.619" transform="rotate(-32 287.0 640.9)"/>
<path d="M281.0 659.3L291.0 660.6L293.0 672.0L283.4 670.8Z" fill="#fff" opacity="0.306"/>
<ellipse cx="287.0" cy="665.8" rx="7.6" ry="9.6" fill="url(#gw)" opacity="0.689" transform="rotate(-32 287.0 665.8)"/>
<path d="M281.8 685.4 Q287.0 683.8 292.2 686.2 Q292.0 693.8 289.3 697.8 Q287.0 699.2 284.4 697.4 Q281.6 691.8 281.8 685.4Z" fill="#fff" opacity="0.280"/>
<ellipse cx="287.0" cy="690.8" rx="8.6" ry="9.6" fill="url(#gw)" opacity="0.677"/>
<path d="M281.8 710.4 Q287.0 708.8 292.2 711.1 Q292.0 718.8 289.3 722.8 Q287.0 724.1 284.4 722.4 Q281.6 716.8 281.8 710.4Z" fill="#fff" opacity="0.263"/>
<ellipse cx="287.0" cy="715.8" rx="8.6" ry="9.6" fill="url(#gw)" opacity="0.637"/>
<ellipse cx="287.0" cy="740.7" rx="10.0" ry="7.8" fill="url(#gw)" opacity="0.730" transform="rotate(-8 287.0 740.7)"/>
<ellipse cx="287.0" cy="765.6" rx="11.0" ry="7.0" fill="url(#gw)" opacity="0.640" transform="rotate(-8 287.0 765.6)"/>
<path d="M305.9 659.3L315.9 660.6L317.9 672.0L308.3 670.8Z" fill="#fff" opacity="0.287"/>
<ellipse cx="311.9" cy="665.8" rx="7.6" ry="9.6" fill="url(#gw)" opacity="0.645" transform="rotate(-32 311.9 665.8)"/>
<path d="M306.8 685.4 Q311.9 683.8 317.1 686.2 Q316.9 693.8 314.2 697.8 Q311.9 699.2 309.3 697.4 Q306.6 691.8 306.8 685.4Z" fill="#fff" opacity="0.274"/>
<ellipse cx="311.9" cy="690.8" rx="8.6" ry="9.6" fill="url(#gw)" opacity="0.663"/>
<path d="M306.8 710.4 Q311.9 708.8 317.1 711.1 Q316.9 718.8 314.2 722.8 Q311.9 724.1 309.3 722.4 Q306.6 716.8 306.8 710.4Z" fill="#fff" opacity="0.253"/>
<ellipse cx="311.9" cy="715.8" rx="8.6" ry="9.6" fill="url(#gw)" opacity="0.614"/>
</g>
<g clip-path="url(#clipc)">
<circle cx="519.8" cy="692.6" r="166" fill="url(#haze)"/>
<ellipse cx="332.7" cy="604.8" rx="4.6" ry="7.5" fill="url(#gs)" opacity="0.042"/>
<ellipse cx="332.7" cy="656.8" rx="4.6" ry="7.5" fill="url(#gs)" opacity="0.048"/>
<ellipse cx="332.7" cy="681.2" rx="4.6" ry="7.5" fill="url(#gs)" opacity="0.047"/>
<ellipse cx="332.7" cy="704.0" rx="4.6" ry="7.5" fill="url(#gs)" opacity="0.028"/>
<ellipse cx="332.7" cy="729.5" rx="4.6" ry="7.5" fill="url(#gs)" opacity="0.011"/>
<ellipse cx="332.7" cy="755.8" rx="4.6" ry="7.5" fill="url(#gs)" opacity="0.040"/>
<ellipse cx="345.1" cy="617.2" rx="4.6" ry="7.5" fill="url(#gs)" opacity="0.036"/>
<ellipse cx="345.1" cy="640.8" rx="4.6" ry="7.5" fill="url(#gs)" opacity="0.076"/>
<ellipse cx="345.1" cy="667.0" rx="4.6" ry="7.5" fill="url(#gs)" opacity="0.065"/>
<ellipse cx="345.1" cy="689.8" rx="4.6" ry="7.5" fill="url(#gs)" opacity="0.079"/>
<ellipse cx="345.1" cy="719.2" rx="4.6" ry="7.5" fill="url(#gs)" opacity="0.021"/>
<ellipse cx="345.1" cy="740.1" rx="4.6" ry="7.5" fill="url(#gs)" opacity="0.046"/>
<ellipse cx="345.1" cy="768.8" rx="4.6" ry="7.5" fill="url(#gs)" opacity="0.032"/>
<ellipse cx="345.1" cy="794.4" rx="4.6" ry="7.5" fill="url(#gs)" opacity="0.037"/>
<ellipse cx="357.6" cy="558.1" rx="4.6" ry="7.5" fill="url(#gs)" opacity="0.026"/>
<ellipse cx="357.6" cy="606.9" rx="4.6" ry="7.5" fill="url(#gs)" opacity="0.037"/>
<ellipse cx="357.6" cy="652.5" rx="4.6" ry="7.5" fill="url(#gs)" opacity="0.035"/>
<ellipse cx="357.6" cy="803.5" rx="4.6" ry="7.5" fill="url(#gs)" opacity="0.023"/>
<ellipse cx="370.1" cy="543.1" rx="4.6" ry="7.5" fill="url(#gs)" opacity="0.051"/>
<ellipse cx="370.1" cy="591.1" rx="4.6" ry="7.5" fill="url(#gs)" opacity="0.037"/>
<ellipse cx="370.1" cy="643.5" rx="4.6" ry="7.5" fill="url(#gs)" opacity="0.090"/>
<ellipse cx="370.1" cy="666.0" rx="4.6" ry="7.5" fill="url(#gs)" opacity="0.066"/>
<ellipse cx="370.1" cy="693.4" rx="4.6" ry="7.5" fill="url(#gs)" opacity="0.046"/>
<ellipse cx="370.1" cy="717.4" rx="4.6" ry="7.5" fill="url(#gs)" opacity="0.090"/>
<ellipse cx="370.1" cy="769.5" rx="4.6" ry="7.5" fill="url(#gs)" opacity="0.018"/>
<ellipse cx="370.1" cy="816.6" rx="4.6" ry="7.5" fill="url(#gs)" opacity="0.019"/>
<ellipse cx="382.6" cy="603.7" rx="4.6" ry="7.5" fill="url(#gs)" opacity="0.039"/>
<ellipse cx="382.6" cy="656.0" rx="4.6" ry="7.5" fill="url(#gs)" opacity="0.053"/>
<ellipse cx="382.6" cy="682.7" rx="4.6" ry="7.5" fill="url(#gs)" opacity="0.047"/>
<ellipse cx="382.6" cy="707.0" rx="4.6" ry="7.5" fill="url(#gs)" opacity="0.017"/>
<ellipse cx="382.6" cy="727.9" rx="4.6" ry="7.5" fill="url(#gs)" opacity="0.087"/>
<ellipse cx="382.6" cy="752.1" rx="4.6" ry="7.5" fill="url(#gs)" opacity="0.073"/>
<ellipse cx="382.6" cy="803.4" rx="4.6" ry="7.5" fill="url(#gs)" opacity="0.056"/>
<ellipse cx="395.0" cy="565.8" rx="4.6" ry="7.5" fill="url(#gs)" opacity="0.034"/>
<ellipse cx="395.0" cy="590.8" rx="4.6" ry="7.5" fill="url(#gs)" opacity="0.088"/>
<ellipse cx="395.0" cy="619.4" rx="4.6" ry="7.5" fill="url(#gs)" opacity="0.070"/>
<ellipse cx="395.0" cy="769.2" rx="4.6" ry="7.5" fill="url(#gs)" opacity="0.098"/>
<ellipse cx="395.0" cy="793.6" rx="4.6" ry="7.5" fill="url(#gs)" opacity="0.031"/>
<ellipse cx="395.0" cy="817.0" rx="4.6" ry="7.5" fill="url(#gs)" opacity="0.062"/>
<ellipse cx="395.0" cy="840.9" rx="4.6" ry="7.5" fill="url(#gs)" opacity="0.033"/>
<ellipse cx="407.5" cy="580.1" rx="4.6" ry="7.5" fill="url(#gs)" opacity="0.018"/>
<ellipse cx="407.5" cy="780.2" rx="4.6" ry="7.5" fill="url(#gs)" opacity="0.060"/>
<ellipse cx="407.5" cy="806.9" rx="4.6" ry="7.5" fill="url(#gs)" opacity="0.013"/>
<ellipse cx="407.5" cy="830.8" rx="4.6" ry="7.5" fill="url(#gs)" opacity="0.050"/>
<ellipse cx="407.5" cy="854.3" rx="4.6" ry="7.5" fill="url(#gs)" opacity="0.024"/>
<ellipse cx="420.0" cy="518.8" rx="4.6" ry="7.5" fill="url(#gs)" opacity="0.010"/>
<ellipse cx="420.0" cy="543.6" rx="4.6" ry="7.5" fill="url(#gs)" opacity="0.011"/>
<ellipse cx="420.0" cy="566.8" rx="4.6" ry="7.5" fill="url(#gs)" opacity="0.101"/>
<ellipse cx="420.0" cy="592.7" rx="4.6" ry="7.5" fill="url(#gs)" opacity="0.061"/>
<ellipse cx="420.0" cy="793.7" rx="4.6" ry="7.5" fill="url(#gs)" opacity="0.015"/>
<ellipse cx="420.0" cy="819.5" rx="4.6" ry="7.5" fill="url(#gs)" opacity="0.045"/>
<ellipse cx="420.0" cy="868.9" rx="4.6" ry="7.5" fill="url(#gs)" opacity="0.031"/>
<ellipse cx="432.5" cy="579.1" rx="4.6" ry="7.5" fill="url(#gs)" opacity="0.091"/>
<ellipse cx="432.5" cy="804.9" rx="4.6" ry="7.5" fill="url(#gs)" opacity="0.051"/>
<ellipse cx="432.5" cy="855.7" rx="4.6" ry="7.5" fill="url(#gs)" opacity="0.079"/>
<ellipse cx="432.5" cy="878.6" rx="4.6" ry="7.5" fill="url(#gs)" opacity="0.022"/>
<ellipse cx="444.9" cy="544.6" rx="4.6" ry="7.5" fill="url(#gs)" opacity="0.055"/>
<ellipse cx="444.9" cy="817.6" rx="4.6" ry="7.5" fill="url(#gs)" opacity="0.097"/>
<ellipse cx="457.4" cy="556.3" rx="4.6" ry="7.5" fill="url(#gs)" opacity="0.070"/>
<ellipse cx="457.4" cy="830.5" rx="4.6" ry="7.5" fill="url(#gs)" opacity="0.099"/>
<ellipse cx="457.4" cy="856.0" rx="4.6" ry="7.5" fill="url(#gs)" opacity="0.054"/>
<ellipse cx="457.4" cy="878.0" rx="4.6" ry="7.5" fill="url(#gs)" opacity="0.039"/>
<ellipse cx="469.9" cy="519.5" rx="4.6" ry="7.5" fill="url(#gs)" opacity="0.042"/>
<ellipse cx="482.4" cy="506.4" rx="4.6" ry="7.5" fill="url(#gs)" opacity="0.050"/>
<ellipse cx="482.4" cy="555.7" rx="4.6" ry="7.5" fill="url(#gs)" opacity="0.088"/>
<ellipse cx="494.8" cy="839.6" rx="4.6" ry="7.5" fill="url(#gs)" opacity="0.102"/>
<ellipse cx="494.8" cy="865.0" rx="4.6" ry="7.5" fill="url(#gs)" opacity="0.012"/>
<ellipse cx="507.3" cy="508.0" rx="4.6" ry="7.5" fill="url(#gs)" opacity="0.034"/>
<ellipse cx="507.3" cy="857.7" rx="4.6" ry="7.5" fill="url(#gs)" opacity="0.102"/>
<ellipse cx="507.3" cy="877.3" rx="4.6" ry="7.5" fill="url(#gs)" opacity="0.026"/>
<ellipse cx="519.8" cy="515.9" rx="4.6" ry="7.5" fill="url(#gs)" opacity="0.024"/>
<ellipse cx="519.8" cy="870.0" rx="4.6" ry="7.5" fill="url(#gs)" opacity="0.018"/>
<ellipse cx="532.3" cy="527.5" rx="4.6" ry="7.5" fill="url(#gs)" opacity="0.024"/>
<ellipse cx="532.3" cy="556.8" rx="4.6" ry="7.5" fill="url(#gs)" opacity="0.035"/>
<ellipse cx="532.3" cy="881.9" rx="4.6" ry="7.5" fill="url(#gs)" opacity="0.040"/>
<ellipse cx="544.8" cy="518.7" rx="4.6" ry="7.5" fill="url(#gs)" opacity="0.015"/>
<ellipse cx="544.8" cy="545.5" rx="4.6" ry="7.5" fill="url(#gs)" opacity="0.056"/>
<ellipse cx="544.8" cy="864.3" rx="4.6" ry="7.5" fill="url(#gs)" opacity="0.061"/>
<ellipse cx="557.2" cy="527.9" rx="4.6" ry="7.5" fill="url(#gs)" opacity="0.068"/>
<ellipse cx="557.2" cy="832.0" rx="4.6" ry="7.5" fill="url(#gs)" opacity="0.028"/>
<ellipse cx="557.2" cy="854.0" rx="4.6" ry="7.5" fill="url(#gs)" opacity="0.013"/>
<ellipse cx="557.2" cy="880.8" rx="4.6" ry="7.5" fill="url(#gs)" opacity="0.027"/>
<ellipse cx="569.7" cy="543.8" rx="4.6" ry="7.5" fill="url(#gs)" opacity="0.047"/>
<ellipse cx="569.7" cy="841.6" rx="4.6" ry="7.5" fill="url(#gs)" opacity="0.052"/>
<ellipse cx="569.7" cy="869.0" rx="4.6" ry="7.5" fill="url(#gs)" opacity="0.077"/>
<ellipse cx="582.2" cy="502.8" rx="4.6" ry="7.5" fill="url(#gs)" opacity="0.020"/>
<ellipse cx="582.2" cy="532.4" rx="4.6" ry="7.5" fill="url(#gs)" opacity="0.060"/>
<ellipse cx="582.2" cy="831.8" rx="4.6" ry="7.5" fill="url(#gs)" opacity="0.106"/>
<ellipse cx="582.2" cy="854.3" rx="4.6" ry="7.5" fill="url(#gs)" opacity="0.031"/>
<ellipse cx="582.2" cy="880.8" rx="4.6" ry="7.5" fill="url(#gs)" opacity="0.024"/>
<ellipse cx="594.6" cy="519.8" rx="4.6" ry="7.5" fill="url(#gs)" opacity="0.049"/>
<ellipse cx="594.6" cy="869.6" rx="4.6" ry="7.5" fill="url(#gs)" opacity="0.045"/>
<ellipse cx="607.1" cy="532.6" rx="4.6" ry="7.5" fill="url(#gs)" opacity="0.067"/>
<ellipse cx="607.1" cy="557.5" rx="4.6" ry="7.5" fill="url(#gs)" opacity="0.038"/>
<ellipse cx="607.1" cy="582.8" rx="4.6" ry="7.5" fill="url(#gs)" opacity="0.078"/>
<ellipse cx="607.1" cy="853.0" rx="4.6" ry="7.5" fill="url(#gs)" opacity="0.066"/>
<ellipse cx="607.1" cy="878.1" rx="4.6" ry="7.5" fill="url(#gs)" opacity="0.051"/>
<ellipse cx="619.6" cy="517.7" rx="4.6" ry="7.5" fill="url(#gs)" opacity="0.039"/>
<ellipse cx="619.6" cy="592.6" rx="4.6" ry="7.5" fill="url(#gs)" opacity="0.088"/>
<ellipse cx="619.6" cy="815.7" rx="4.6" ry="7.5" fill="url(#gs)" opacity="0.086"/>
<ellipse cx="619.6" cy="844.6" rx="4.6" ry="7.5" fill="url(#gs)" opacity="0.074"/>
<ellipse cx="619.6" cy="867.8" rx="4.6" ry="7.5" fill="url(#gs)" opacity="0.029"/>
<ellipse cx="632.1" cy="605.7" rx="4.6" ry="7.5" fill="url(#gs)" opacity="0.047"/>
<ellipse cx="632.1" cy="802.1" rx="4.6" ry="7.5" fill="url(#gs)" opacity="0.026"/>
<ellipse cx="632.1" cy="827.5" rx="4.6" ry="7.5" fill="url(#gs)" opacity="0.036"/>
<ellipse cx="632.1" cy="852.7" rx="4.6" ry="7.5" fill="url(#gs)" opacity="0.044"/>
<ellipse cx="644.5" cy="543.0" rx="4.6" ry="7.5" fill="url(#gs)" opacity="0.023"/>
<ellipse cx="644.5" cy="617.7" rx="4.6" ry="7.5" fill="url(#gs)" opacity="0.095"/>
<ellipse cx="644.5" cy="769.1" rx="4.6" ry="7.5" fill="url(#gs)" opacity="0.037"/>
<ellipse cx="644.5" cy="819.3" rx="4.6" ry="7.5" fill="url(#gs)" opacity="0.064"/>
<ellipse cx="644.5" cy="839.5" rx="4.6" ry="7.5" fill="url(#gs)" opacity="0.018"/>
<ellipse cx="657.0" cy="630.0" rx="4.6" ry="7.5" fill="url(#gs)" opacity="0.096"/>
<ellipse cx="657.0" cy="652.6" rx="4.6" ry="7.5" fill="url(#gs)" opacity="0.099"/>
<ellipse cx="657.0" cy="677.8" rx="4.6" ry="7.5" fill="url(#gs)" opacity="0.050"/>
<ellipse cx="657.0" cy="705.5" rx="4.6" ry="7.5" fill="url(#gs)" opacity="0.037"/>
<ellipse cx="657.0" cy="731.0" rx="4.6" ry="7.5" fill="url(#gs)" opacity="0.104"/>
<ellipse cx="657.0" cy="828.2" rx="4.6" ry="7.5" fill="url(#gs)" opacity="0.054"/>
<ellipse cx="669.5" cy="594.8" rx="4.6" ry="7.5" fill="url(#gs)" opacity="0.074"/>
<ellipse cx="669.5" cy="643.6" rx="4.6" ry="7.5" fill="url(#gs)" opacity="0.080"/>
<ellipse cx="669.5" cy="665.5" rx="4.6" ry="7.5" fill="url(#gs)" opacity="0.017"/>
<ellipse cx="669.5" cy="693.7" rx="4.6" ry="7.5" fill="url(#gs)" opacity="0.102"/>
<ellipse cx="669.5" cy="740.1" rx="4.6" ry="7.5" fill="url(#gs)" opacity="0.085"/>
<ellipse cx="669.5" cy="840.7" rx="4.6" ry="7.5" fill="url(#gs)" opacity="0.014"/>
<ellipse cx="682.0" cy="581.6" rx="4.6" ry="7.5" fill="url(#gs)" opacity="0.007"/>
<ellipse cx="682.0" cy="657.8" rx="4.6" ry="7.5" fill="url(#gs)" opacity="0.025"/>
<ellipse cx="682.0" cy="678.0" rx="4.6" ry="7.5" fill="url(#gs)" opacity="0.097"/>
<ellipse cx="682.0" cy="755.7" rx="4.6" ry="7.5" fill="url(#gs)" opacity="0.070"/>
<ellipse cx="682.0" cy="781.9" rx="4.6" ry="7.5" fill="url(#gs)" opacity="0.033"/>
<ellipse cx="682.0" cy="802.7" rx="4.6" ry="7.5" fill="url(#gs)" opacity="0.036"/>
<ellipse cx="694.4" cy="615.6" rx="4.6" ry="7.5" fill="url(#gs)" opacity="0.033"/>
<ellipse cx="694.4" cy="642.2" rx="4.6" ry="7.5" fill="url(#gs)" opacity="0.028"/>
<ellipse cx="694.4" cy="715.6" rx="4.6" ry="7.5" fill="url(#gs)" opacity="0.033"/>
<ellipse cx="694.4" cy="744.9" rx="4.6" ry="7.5" fill="url(#gs)" opacity="0.032"/>
<ellipse cx="694.4" cy="794.8" rx="4.6" ry="7.5" fill="url(#gs)" opacity="0.009"/>
<ellipse cx="706.9" cy="605.1" rx="4.6" ry="7.5" fill="url(#gs)" opacity="0.016"/>
<ellipse cx="706.9" cy="732.6" rx="4.6" ry="7.5" fill="url(#gs)" opacity="0.054"/>
<ellipse cx="420.0" cy="832.2" rx="4" ry="32.8" fill="url(#gs)" opacity="0.056"/>
<ellipse cx="444.9" cy="841.9" rx="4" ry="23.1" fill="url(#gs)" opacity="0.022"/>
<ellipse cx="469.9" cy="848.0" rx="4" ry="17.0" fill="url(#gs)" opacity="0.049"/>
<ellipse cx="494.8" cy="851.4" rx="4" ry="13.6" fill="url(#gs)" opacity="0.032"/>
<ellipse cx="519.8" cy="852.5" rx="4" ry="12.5" fill="url(#gs)" opacity="0.059"/>
<ellipse cx="544.8" cy="851.4" rx="4" ry="13.6" fill="url(#gs)" opacity="0.021"/>
<ellipse cx="569.7" cy="848.0" rx="4" ry="17.0" fill="url(#gs)" opacity="0.052"/>
<ellipse cx="594.6" cy="841.9" rx="4" ry="23.1" fill="url(#gs)" opacity="0.034"/>
<ellipse cx="619.6" cy="832.2" rx="4" ry="32.8" fill="url(#gs)" opacity="0.026"/>
<circle cx="395.0" cy="667.6" r="18.5" fill="url(#env)"/>
<circle cx="395.0" cy="692.6" r="18.5" fill="url(#env)"/>
<circle cx="395.0" cy="717.6" r="18.5" fill="url(#env)"/>
<circle cx="420.0" cy="617.8" r="18.5" fill="url(#env)"/>
<circle cx="420.0" cy="642.7" r="18.5" fill="url(#env)"/>
<circle cx="420.0" cy="667.6" r="18.5" fill="url(#env)"/>
<circle cx="420.0" cy="692.6" r="18.5" fill="url(#env)"/>
<circle cx="420.0" cy="717.6" r="18.5" fill="url(#env)"/>
<circle cx="420.0" cy="742.5" r="18.5" fill="url(#env)"/>
<circle cx="420.0" cy="767.5" r="18.5" fill="url(#env)"/>
<circle cx="444.9" cy="592.8" r="18.5" fill="url(#env)"/>
<circle cx="444.9" cy="617.8" r="18.5" fill="url(#env)"/>
<circle cx="444.9" cy="767.5" r="18.5" fill="url(#env)"/>
<circle cx="444.9" cy="792.4" r="18.5" fill="url(#env)"/>
<circle cx="469.9" cy="592.8" r="18.5" fill="url(#env)"/>
<circle cx="469.9" cy="792.4" r="18.5" fill="url(#env)"/>
<circle cx="494.8" cy="567.9" r="18.5" fill="url(#env)"/>
<circle cx="494.8" cy="592.8" r="18.5" fill="url(#env)"/>
<circle cx="494.8" cy="792.4" r="18.5" fill="url(#env)"/>
<circle cx="494.8" cy="817.4" r="18.5" fill="url(#env)"/>
<circle cx="519.8" cy="567.9" r="18.5" fill="url(#env)"/>
<circle cx="519.8" cy="592.8" r="18.5" fill="url(#env)"/>
<circle cx="519.8" cy="792.4" r="18.5" fill="url(#env)"/>
<circle cx="519.8" cy="817.4" r="18.5" fill="url(#env)"/>
<circle cx="544.8" cy="567.9" r="18.5" fill="url(#env)"/>
<circle cx="544.8" cy="592.8" r="18.5" fill="url(#env)"/>
<circle cx="544.8" cy="792.4" r="18.5" fill="url(#env)"/>
<circle cx="544.8" cy="817.4" r="18.5" fill="url(#env)"/>
<circle cx="569.7" cy="592.8" r="18.5" fill="url(#env)"/>
<circle cx="569.7" cy="792.4" r="18.5" fill="url(#env)"/>
<circle cx="594.6" cy="592.8" r="18.5" fill="url(#env)"/>
<circle cx="594.6" cy="617.8" r="18.5" fill="url(#env)"/>
<circle cx="594.6" cy="767.5" r="18.5" fill="url(#env)"/>
<circle cx="594.6" cy="792.4" r="18.5" fill="url(#env)"/>
<circle cx="619.6" cy="617.8" r="18.5" fill="url(#env)"/>
<circle cx="619.6" cy="642.7" r="18.5" fill="url(#env)"/>
<circle cx="619.6" cy="667.6" r="18.5" fill="url(#env)"/>
<circle cx="619.6" cy="692.6" r="18.5" fill="url(#env)"/>
<circle cx="619.6" cy="717.6" r="18.5" fill="url(#env)"/>
<circle cx="619.6" cy="742.5" r="18.5" fill="url(#env)"/>
<circle cx="619.6" cy="767.5" r="18.5" fill="url(#env)"/>
<circle cx="644.5" cy="667.6" r="18.5" fill="url(#env)"/>
<circle cx="644.5" cy="692.6" r="18.5" fill="url(#env)"/>
<circle cx="644.5" cy="717.6" r="18.5" fill="url(#env)"/>
<circle cx="519.8" cy="692.6" r="134" fill="url(#envd)"/>
<ellipse cx="407.5" cy="632.7" rx="5.2" ry="8" fill="url(#gs)" opacity="0.143"/>
<ellipse cx="407.5" cy="657.7" rx="5.2" ry="8" fill="url(#gs)" opacity="0.371"/>
<ellipse cx="407.5" cy="682.6" rx="5.2" ry="8" fill="url(#gs)" opacity="0.400"/>
<ellipse cx="407.5" cy="707.6" rx="5.2" ry="8" fill="url(#gs)" opacity="0.400"/>
<ellipse cx="407.5" cy="732.5" rx="5.2" ry="8" fill="url(#gs)" opacity="0.371"/>
<ellipse cx="407.5" cy="757.5" rx="5.2" ry="8" fill="url(#gs)" opacity="0.143"/>
<ellipse cx="432.5" cy="607.8" rx="5.2" ry="8" fill="url(#gs)" opacity="0.257"/>
<ellipse cx="432.5" cy="632.7" rx="5.2" ry="8" fill="url(#gs)" opacity="0.400"/>
<ellipse cx="432.5" cy="657.7" rx="5.2" ry="8" fill="url(#gs)" opacity="0.400"/>
<ellipse cx="432.5" cy="682.6" rx="5.2" ry="8" fill="url(#gs)" opacity="0.400"/>
<ellipse cx="432.5" cy="707.6" rx="5.2" ry="8" fill="url(#gs)" opacity="0.400"/>
<ellipse cx="432.5" cy="732.5" rx="5.2" ry="8" fill="url(#gs)" opacity="0.400"/>
<ellipse cx="432.5" cy="757.5" rx="5.2" ry="8" fill="url(#gs)" opacity="0.400"/>
<ellipse cx="432.5" cy="782.4" rx="5.2" ry="8" fill="url(#gs)" opacity="0.257"/>
<ellipse cx="457.4" cy="582.8" rx="5.2" ry="8" fill="url(#gs)" opacity="0.143"/>
<ellipse cx="457.4" cy="607.8" rx="5.2" ry="8" fill="url(#gs)" opacity="0.400"/>
<ellipse cx="457.4" cy="632.7" rx="5.2" ry="8" fill="url(#gs)" opacity="0.400"/>
<ellipse cx="457.4" cy="657.7" rx="5.2" ry="8" fill="url(#gs)" opacity="0.400"/>
<ellipse cx="457.4" cy="682.6" rx="5.2" ry="8" fill="url(#gs)" opacity="0.400"/>
<ellipse cx="457.4" cy="707.6" rx="5.2" ry="8" fill="url(#gs)" opacity="0.400"/>
<ellipse cx="457.4" cy="732.5" rx="5.2" ry="8" fill="url(#gs)" opacity="0.400"/>
<ellipse cx="457.4" cy="757.5" rx="5.2" ry="8" fill="url(#gs)" opacity="0.400"/>
<ellipse cx="457.4" cy="782.4" rx="5.2" ry="8" fill="url(#gs)" opacity="0.400"/>
<ellipse cx="457.4" cy="807.4" rx="5.2" ry="8" fill="url(#gs)" opacity="0.143"/>
<ellipse cx="482.4" cy="582.8" rx="5.2" ry="8" fill="url(#gs)" opacity="0.371"/>
<ellipse cx="482.4" cy="607.8" rx="5.2" ry="8" fill="url(#gs)" opacity="0.400"/>
<ellipse cx="482.4" cy="632.7" rx="5.2" ry="8" fill="url(#gs)" opacity="0.400"/>
<ellipse cx="482.4" cy="657.7" rx="5.2" ry="8" fill="url(#gs)" opacity="0.400"/>
<ellipse cx="482.4" cy="682.6" rx="5.2" ry="8" fill="url(#gs)" opacity="0.400"/>
<ellipse cx="482.4" cy="707.6" rx="5.2" ry="8" fill="url(#gs)" opacity="0.400"/>
<ellipse cx="482.4" cy="732.5" rx="5.2" ry="8" fill="url(#gs)" opacity="0.400"/>
<ellipse cx="482.4" cy="757.5" rx="5.2" ry="8" fill="url(#gs)" opacity="0.400"/>
<ellipse cx="482.4" cy="782.4" rx="5.2" ry="8" fill="url(#gs)" opacity="0.400"/>
<ellipse cx="482.4" cy="807.4" rx="5.2" ry="8" fill="url(#gs)" opacity="0.371"/>
<ellipse cx="507.3" cy="582.8" rx="5.2" ry="8" fill="url(#gs)" opacity="0.400"/>
<ellipse cx="507.3" cy="607.8" rx="5.2" ry="8" fill="url(#gs)" opacity="0.400"/>
<ellipse cx="507.3" cy="632.7" rx="5.2" ry="8" fill="url(#gs)" opacity="0.400"/>
<ellipse cx="507.3" cy="657.7" rx="5.2" ry="8" fill="url(#gs)" opacity="0.400"/>
<ellipse cx="507.3" cy="682.6" rx="5.2" ry="8" fill="url(#gs)" opacity="0.400"/>
<ellipse cx="507.3" cy="707.6" rx="5.2" ry="8" fill="url(#gs)" opacity="0.400"/>
<ellipse cx="507.3" cy="732.5" rx="5.2" ry="8" fill="url(#gs)" opacity="0.400"/>
<ellipse cx="507.3" cy="757.5" rx="5.2" ry="8" fill="url(#gs)" opacity="0.400"/>
<ellipse cx="507.3" cy="782.4" rx="5.2" ry="8" fill="url(#gs)" opacity="0.400"/>
<ellipse cx="507.3" cy="807.4" rx="5.2" ry="8" fill="url(#gs)" opacity="0.400"/>
<ellipse cx="532.3" cy="582.8" rx="5.2" ry="8" fill="url(#gs)" opacity="0.400"/>
<ellipse cx="532.3" cy="607.8" rx="5.2" ry="8" fill="url(#gs)" opacity="0.400"/>
<ellipse cx="532.3" cy="632.7" rx="5.2" ry="8" fill="url(#gs)" opacity="0.400"/>
<ellipse cx="532.3" cy="657.7" rx="5.2" ry="8" fill="url(#gs)" opacity="0.400"/>
<ellipse cx="532.3" cy="682.6" rx="5.2" ry="8" fill="url(#gs)" opacity="0.400"/>
<ellipse cx="532.3" cy="707.6" rx="5.2" ry="8" fill="url(#gs)" opacity="0.400"/>
<ellipse cx="532.3" cy="732.5" rx="5.2" ry="8" fill="url(#gs)" opacity="0.400"/>
<ellipse cx="532.3" cy="757.5" rx="5.2" ry="8" fill="url(#gs)" opacity="0.400"/>
<ellipse cx="532.3" cy="782.4" rx="5.2" ry="8" fill="url(#gs)" opacity="0.400"/>
<ellipse cx="532.3" cy="807.4" rx="5.2" ry="8" fill="url(#gs)" opacity="0.400"/>
<ellipse cx="557.2" cy="582.8" rx="5.2" ry="8" fill="url(#gs)" opacity="0.371"/>
<ellipse cx="557.2" cy="607.8" rx="5.2" ry="8" fill="url(#gs)" opacity="0.400"/>
<ellipse cx="557.2" cy="632.7" rx="5.2" ry="8" fill="url(#gs)" opacity="0.400"/>
<ellipse cx="557.2" cy="657.7" rx="5.2" ry="8" fill="url(#gs)" opacity="0.400"/>
<ellipse cx="557.2" cy="682.6" rx="5.2" ry="8" fill="url(#gs)" opacity="0.400"/>
<ellipse cx="557.2" cy="707.6" rx="5.2" ry="8" fill="url(#gs)" opacity="0.400"/>
<ellipse cx="557.2" cy="732.5" rx="5.2" ry="8" fill="url(#gs)" opacity="0.400"/>
<ellipse cx="557.2" cy="757.5" rx="5.2" ry="8" fill="url(#gs)" opacity="0.400"/>
<ellipse cx="557.2" cy="782.4" rx="5.2" ry="8" fill="url(#gs)" opacity="0.400"/>
<ellipse cx="557.2" cy="807.4" rx="5.2" ry="8" fill="url(#gs)" opacity="0.371"/>
<ellipse cx="582.2" cy="582.8" rx="5.2" ry="8" fill="url(#gs)" opacity="0.143"/>
<ellipse cx="582.2" cy="607.8" rx="5.2" ry="8" fill="url(#gs)" opacity="0.400"/>
<ellipse cx="582.2" cy="632.7" rx="5.2" ry="8" fill="url(#gs)" opacity="0.400"/>
<ellipse cx="582.2" cy="657.7" rx="5.2" ry="8" fill="url(#gs)" opacity="0.400"/>
<ellipse cx="582.2" cy="682.6" rx="5.2" ry="8" fill="url(#gs)" opacity="0.400"/>
<ellipse cx="582.2" cy="707.6" rx="5.2" ry="8" fill="url(#gs)" opacity="0.400"/>
<ellipse cx="582.2" cy="732.5" rx="5.2" ry="8" fill="url(#gs)" opacity="0.400"/>
<ellipse cx="582.2" cy="757.5" rx="5.2" ry="8" fill="url(#gs)" opacity="0.400"/>
<ellipse cx="582.2" cy="782.4" rx="5.2" ry="8" fill="url(#gs)" opacity="0.400"/>
<ellipse cx="582.2" cy="807.4" rx="5.2" ry="8" fill="url(#gs)" opacity="0.143"/>
<ellipse cx="607.1" cy="607.8" rx="5.2" ry="8" fill="url(#gs)" opacity="0.257"/>
<ellipse cx="607.1" cy="632.7" rx="5.2" ry="8" fill="url(#gs)" opacity="0.400"/>
<ellipse cx="607.1" cy="657.7" rx="5.2" ry="8" fill="url(#gs)" opacity="0.400"/>
<ellipse cx="607.1" cy="682.6" rx="5.2" ry="8" fill="url(#gs)" opacity="0.400"/>
<ellipse cx="607.1" cy="707.6" rx="5.2" ry="8" fill="url(#gs)" opacity="0.400"/>
<ellipse cx="607.1" cy="732.5" rx="5.2" ry="8" fill="url(#gs)" opacity="0.400"/>
<ellipse cx="607.1" cy="757.5" rx="5.2" ry="8" fill="url(#gs)" opacity="0.400"/>
<ellipse cx="607.1" cy="782.4" rx="5.2" ry="8" fill="url(#gs)" opacity="0.257"/>
<ellipse cx="632.1" cy="632.7" rx="5.2" ry="8" fill="url(#gs)" opacity="0.143"/>
<ellipse cx="632.1" cy="657.7" rx="5.2" ry="8" fill="url(#gs)" opacity="0.371"/>
<ellipse cx="632.1" cy="682.6" rx="5.2" ry="8" fill="url(#gs)" opacity="0.400"/>
<ellipse cx="632.1" cy="707.6" rx="5.2" ry="8" fill="url(#gs)" opacity="0.400"/>
<ellipse cx="632.1" cy="732.5" rx="5.2" ry="8" fill="url(#gs)" opacity="0.371"/>
<ellipse cx="632.1" cy="757.5" rx="5.2" ry="8" fill="url(#gs)" opacity="0.143"/>
<ellipse cx="383.0" cy="645.7" rx="6.3" ry="4.6" fill="url(#gk)" opacity="0.93"/>
<ellipse cx="382.5" cy="671.1" rx="6.5" ry="4.8" fill="url(#gk)" opacity="0.93"/>
<ellipse cx="382.7" cy="695.2" rx="6.6" ry="4.8" fill="url(#gk)" opacity="0.93"/>
<ellipse cx="382.9" cy="720.8" rx="6.5" ry="4.8" fill="url(#gk)" opacity="0.93"/>
<ellipse cx="382.1" cy="745.0" rx="5.2" ry="3.8" fill="url(#gk)" opacity="0.93"/>
<ellipse cx="407.5" cy="620.5" rx="7.1" ry="5.2" fill="url(#gk)" opacity="0.93"/>
<ellipse cx="392.4" cy="630.1" rx="8.3" ry="4.6" fill="url(#gk)" opacity="0.94" transform="rotate(12 395.0 630.2)"/>
<ellipse cx="407.2" cy="645.2" rx="7.0" ry="5.2" fill="url(#gk)" opacity="0.93"/>
<ellipse cx="392.1" cy="655.0" rx="9.2" ry="5.1" fill="url(#gk)" opacity="0.94" transform="rotate(4 395.0 655.2)"/>
<ellipse cx="407.3" cy="671.1" rx="7.4" ry="5.4" fill="url(#gk)" opacity="0.93"/>
<ellipse cx="392.2" cy="679.1" rx="9.4" ry="5.2" fill="url(#gk)" opacity="0.94" transform="rotate(13 395.0 680.1)"/>
<ellipse cx="408.0" cy="695.3" rx="6.9" ry="5.1" fill="url(#gk)" opacity="0.93"/>
<ellipse cx="392.7" cy="704.5" rx="8.2" ry="4.6" fill="url(#gk)" opacity="0.94" transform="rotate(5 395.0 705.1)"/>
<ellipse cx="407.6" cy="720.0" rx="6.8" ry="5.0" fill="url(#gk)" opacity="0.93"/>
<ellipse cx="392.2" cy="729.6" rx="7.2" ry="4.0" fill="url(#gk)" opacity="0.94" transform="rotate(4 395.0 730.0)"/>
<ellipse cx="407.9" cy="745.9" rx="5.8" ry="4.3" fill="url(#gk)" opacity="0.93"/>
<ellipse cx="392.5" cy="754.4" rx="6.9" ry="3.9" fill="url(#gk)" opacity="0.94" transform="rotate(11 395.0 755.0)"/>
<ellipse cx="408.0" cy="771.0" rx="5.1" ry="3.7" fill="url(#gk)" opacity="0.93"/>
<ellipse cx="432.5" cy="595.8" rx="6.9" ry="5.1" fill="url(#gk)" opacity="0.93"/>
<ellipse cx="416.5" cy="605.4" rx="8.8" ry="4.9" fill="url(#gk)" opacity="0.94" transform="rotate(5 420.0 605.3)"/>
<ellipse cx="432.0" cy="620.5" rx="6.5" ry="4.8" fill="url(#gk)" opacity="0.93"/>
<ellipse cx="416.5" cy="629.3" rx="9.3" ry="5.2" fill="url(#gk)" opacity="0.94" transform="rotate(11 420.0 630.2)"/>
<ellipse cx="431.9" cy="645.8" rx="6.5" ry="4.8" fill="url(#gk)" opacity="0.93"/>
<ellipse cx="417.2" cy="655.0" rx="8.9" ry="5.0" fill="url(#gk)" opacity="0.94" transform="rotate(4 420.0 655.2)"/>
<ellipse cx="432.7" cy="670.1" rx="7.4" ry="5.5" fill="url(#gk)" opacity="0.93"/>
<ellipse cx="417.2" cy="679.7" rx="8.1" ry="4.5" fill="url(#gk)" opacity="0.94" transform="rotate(6 420.0 680.1)"/>
<ellipse cx="432.4" cy="695.2" rx="6.4" ry="4.7" fill="url(#gk)" opacity="0.93"/>
<ellipse cx="417.7" cy="704.3" rx="8.9" ry="5.0" fill="url(#gk)" opacity="0.94" transform="rotate(9 420.0 705.1)"/>
<ellipse cx="432.1" cy="720.9" rx="7.3" ry="5.3" fill="url(#gk)" opacity="0.93"/>
<ellipse cx="417.0" cy="729.5" rx="7.8" ry="4.4" fill="url(#gk)" opacity="0.94" transform="rotate(12 420.0 730.0)"/>
<ellipse cx="432.3" cy="746.0" rx="5.6" ry="4.1" fill="url(#gk)" opacity="0.93"/>
<ellipse cx="417.0" cy="754.3" rx="7.6" ry="4.2" fill="url(#gk)" opacity="0.94" transform="rotate(7 420.0 755.0)"/>
<ellipse cx="433.1" cy="770.8" rx="5.5" ry="4.0" fill="url(#gk)" opacity="0.93"/>
<ellipse cx="417.6" cy="779.9" rx="7.8" ry="4.3" fill="url(#gk)" opacity="0.94" transform="rotate(4 420.0 779.9)"/>
<ellipse cx="433.0" cy="795.9" rx="5.6" ry="4.1" fill="url(#gk)" opacity="0.93"/>
<ellipse cx="457.3" cy="571.0" rx="6.6" ry="4.8" fill="url(#gk)" opacity="0.93"/>
<ellipse cx="442.2" cy="579.4" rx="8.5" ry="4.8" fill="url(#gk)" opacity="0.94" transform="rotate(8 444.9 580.3)"/>
<ellipse cx="456.8" cy="595.4" rx="6.9" ry="5.1" fill="url(#gk)" opacity="0.93"/>
<ellipse cx="442.5" cy="605.4" rx="9.6" ry="5.3" fill="url(#gk)" opacity="0.94" transform="rotate(10 444.9 605.3)"/>
<ellipse cx="457.9" cy="621.2" rx="7.4" ry="5.4" fill="url(#gk)" opacity="0.93"/>
<ellipse cx="442.3" cy="629.5" rx="8.0" ry="4.4" fill="url(#gk)" opacity="0.94" transform="rotate(10 444.9 630.2)"/>
<ellipse cx="457.5" cy="646.2" rx="6.6" ry="4.9" fill="url(#gk)" opacity="0.93"/>
<ellipse cx="441.8" cy="654.8" rx="9.0" ry="5.0" fill="url(#gk)" opacity="0.94" transform="rotate(8 444.9 655.2)"/>
<ellipse cx="457.2" cy="670.4" rx="7.5" ry="5.6" fill="url(#gk)" opacity="0.93"/>
<ellipse cx="441.6" cy="679.8" rx="9.0" ry="5.0" fill="url(#gk)" opacity="0.94" transform="rotate(14 444.9 680.1)"/>
<ellipse cx="457.1" cy="695.6" rx="7.0" ry="5.1" fill="url(#gk)" opacity="0.93"/>
<ellipse cx="441.7" cy="704.2" rx="8.8" ry="4.9" fill="url(#gk)" opacity="0.94" transform="rotate(4 444.9 705.1)"/>
<ellipse cx="457.3" cy="720.3" rx="6.7" ry="4.9" fill="url(#gk)" opacity="0.93"/>
<ellipse cx="441.6" cy="729.7" rx="6.8" ry="3.8" fill="url(#gk)" opacity="0.94" transform="rotate(12 444.9 730.0)"/>
<ellipse cx="457.5" cy="745.7" rx="5.7" ry="4.2" fill="url(#gk)" opacity="0.93"/>
<ellipse cx="442.4" cy="754.5" rx="6.8" ry="3.8" fill="url(#gk)" opacity="0.94" transform="rotate(9 444.9 755.0)"/>
<ellipse cx="457.4" cy="770.2" rx="5.7" ry="4.2" fill="url(#gk)" opacity="0.93"/>
<ellipse cx="441.8" cy="779.5" rx="6.8" ry="3.8" fill="url(#gk)" opacity="0.94" transform="rotate(7 444.9 779.9)"/>
<ellipse cx="456.8" cy="795.2" rx="5.6" ry="4.1" fill="url(#gk)" opacity="0.93"/>
<ellipse cx="441.8" cy="804.5" rx="7.7" ry="4.3" fill="url(#gk)" opacity="0.94" transform="rotate(8 444.9 804.9)"/>
<ellipse cx="458.0" cy="820.1" rx="5.3" ry="3.9" fill="url(#gk)" opacity="0.93"/>
<ellipse cx="466.6" cy="554.5" rx="9.2" ry="5.2" fill="url(#gk)" opacity="0.94" transform="rotate(13 469.9 555.4)"/>
<ellipse cx="481.8" cy="570.7" rx="6.9" ry="5.0" fill="url(#gk)" opacity="0.93"/>
<ellipse cx="467.4" cy="579.5" rx="8.7" ry="4.8" fill="url(#gk)" opacity="0.94" transform="rotate(5 469.9 580.3)"/>
<ellipse cx="482.7" cy="595.4" rx="7.6" ry="5.6" fill="url(#gk)" opacity="0.93"/>
<ellipse cx="466.9" cy="605.1" rx="8.5" ry="4.7" fill="url(#gk)" opacity="0.94" transform="rotate(10 469.9 605.3)"/>
<ellipse cx="482.8" cy="620.8" rx="7.4" ry="5.4" fill="url(#gk)" opacity="0.93"/>
<ellipse cx="467.4" cy="630.1" rx="9.2" ry="5.1" fill="url(#gk)" opacity="0.94" transform="rotate(8 469.9 630.2)"/>
<ellipse cx="482.6" cy="646.2" rx="7.3" ry="5.4" fill="url(#gk)" opacity="0.93"/>
<ellipse cx="467.6" cy="654.2" rx="8.1" ry="4.5" fill="url(#gk)" opacity="0.94" transform="rotate(11 469.9 655.2)"/>
<ellipse cx="482.4" cy="671.2" rx="7.1" ry="5.2" fill="url(#gk)" opacity="0.93"/>
<ellipse cx="467.0" cy="680.1" rx="8.9" ry="5.0" fill="url(#gk)" opacity="0.94" transform="rotate(13 469.9 680.1)"/>
<ellipse cx="482.2" cy="695.5" rx="7.1" ry="5.2" fill="url(#gk)" opacity="0.93"/>
<ellipse cx="467.4" cy="704.4" rx="8.7" ry="4.9" fill="url(#gk)" opacity="0.94" transform="rotate(7 469.9 705.1)"/>
<ellipse cx="482.2" cy="720.3" rx="7.0" ry="5.2" fill="url(#gk)" opacity="0.93"/>
<ellipse cx="467.6" cy="729.6" rx="7.6" ry="4.2" fill="url(#gk)" opacity="0.94" transform="rotate(8 469.9 730.0)"/>
<ellipse cx="482.1" cy="745.1" rx="5.2" ry="3.8" fill="url(#gk)" opacity="0.93"/>
<ellipse cx="467.2" cy="754.1" rx="7.3" ry="4.1" fill="url(#gk)" opacity="0.94" transform="rotate(13 469.9 755.0)"/>
<ellipse cx="482.8" cy="770.9" rx="5.4" ry="3.9" fill="url(#gk)" opacity="0.93"/>
<ellipse cx="466.7" cy="779.4" rx="7.8" ry="4.4" fill="url(#gk)" opacity="0.94" transform="rotate(13 469.9 779.9)"/>
<ellipse cx="481.8" cy="795.5" rx="5.0" ry="3.7" fill="url(#gk)" opacity="0.93"/>
<ellipse cx="467.7" cy="804.8" rx="7.2" ry="4.0" fill="url(#gk)" opacity="0.94" transform="rotate(9 469.9 804.9)"/>
<ellipse cx="482.4" cy="820.4" rx="6.1" ry="4.5" fill="url(#gk)" opacity="0.93"/>
<ellipse cx="466.9" cy="829.3" rx="7.5" ry="4.2" fill="url(#gk)" opacity="0.94" transform="rotate(10 469.9 829.8)"/>
<ellipse cx="492.7" cy="555.2" rx="8.5" ry="4.8" fill="url(#gk)" opacity="0.94" transform="rotate(9 494.8 555.4)"/>
<ellipse cx="507.2" cy="570.7" rx="6.4" ry="4.7" fill="url(#gk)" opacity="0.93"/>
<ellipse cx="492.2" cy="580.4" rx="8.9" ry="5.0" fill="url(#gk)" opacity="0.94" transform="rotate(14 494.8 580.3)"/>
<ellipse cx="507.3" cy="595.9" rx="6.9" ry="5.1" fill="url(#gk)" opacity="0.93"/>
<ellipse cx="491.8" cy="604.9" rx="9.6" ry="5.4" fill="url(#gk)" opacity="0.94" transform="rotate(12 494.8 605.3)"/>
<ellipse cx="507.1" cy="621.3" rx="6.5" ry="4.8" fill="url(#gk)" opacity="0.93"/>
<ellipse cx="492.1" cy="629.4" rx="9.3" ry="5.2" fill="url(#gk)" opacity="0.94" transform="rotate(13 494.8 630.2)"/>
<ellipse cx="507.7" cy="646.3" rx="7.2" ry="5.3" fill="url(#gk)" opacity="0.93"/>
<ellipse cx="491.9" cy="654.4" rx="9.4" ry="5.3" fill="url(#gk)" opacity="0.94" transform="rotate(6 494.8 655.2)"/>
<ellipse cx="507.3" cy="670.3" rx="7.0" ry="5.1" fill="url(#gk)" opacity="0.93"/>
<ellipse cx="492.2" cy="679.8" rx="8.2" ry="4.6" fill="url(#gk)" opacity="0.94" transform="rotate(7 494.8 680.1)"/>
<ellipse cx="507.5" cy="695.1" rx="7.6" ry="5.6" fill="url(#gk)" opacity="0.93"/>
<ellipse cx="492.5" cy="704.4" rx="8.6" ry="4.8" fill="url(#gk)" opacity="0.94" transform="rotate(11 494.8 705.1)"/>
<ellipse cx="507.1" cy="721.0" rx="6.3" ry="4.6" fill="url(#gk)" opacity="0.93"/>
<ellipse cx="492.3" cy="729.3" rx="7.3" ry="4.1" fill="url(#gk)" opacity="0.94" transform="rotate(8 494.8 730.0)"/>
<ellipse cx="507.0" cy="745.7" rx="5.6" ry="4.1" fill="url(#gk)" opacity="0.93"/>
<ellipse cx="492.7" cy="754.7" rx="7.2" ry="4.0" fill="url(#gk)" opacity="0.94" transform="rotate(8 494.8 755.0)"/>
<ellipse cx="506.9" cy="770.8" rx="5.1" ry="3.8" fill="url(#gk)" opacity="0.93"/>
<ellipse cx="491.5" cy="779.1" rx="6.6" ry="3.7" fill="url(#gk)" opacity="0.94" transform="rotate(9 494.8 779.9)"/>
<ellipse cx="507.5" cy="795.8" rx="5.9" ry="4.3" fill="url(#gk)" opacity="0.93"/>
<ellipse cx="491.4" cy="804.8" rx="6.6" ry="3.7" fill="url(#gk)" opacity="0.94" transform="rotate(7 494.8 804.9)"/>
<ellipse cx="507.1" cy="820.0" rx="5.8" ry="4.3" fill="url(#gk)" opacity="0.93"/>
<ellipse cx="491.5" cy="829.9" rx="6.9" ry="3.8" fill="url(#gk)" opacity="0.94" transform="rotate(9 494.8 829.8)"/>
<ellipse cx="516.9" cy="554.8" rx="8.5" ry="4.8" fill="url(#gk)" opacity="0.94" transform="rotate(4 519.8 555.4)"/>
<ellipse cx="532.4" cy="571.4" rx="7.5" ry="5.5" fill="url(#gk)" opacity="0.93"/>
<ellipse cx="517.2" cy="579.6" rx="8.7" ry="4.8" fill="url(#gk)" opacity="0.94" transform="rotate(3 519.8 580.3)"/>
<ellipse cx="532.7" cy="595.6" rx="7.5" ry="5.5" fill="url(#gk)" opacity="0.93"/>
<ellipse cx="517.4" cy="604.6" rx="9.5" ry="5.3" fill="url(#gk)" opacity="0.94" transform="rotate(10 519.8 605.3)"/>
<ellipse cx="532.3" cy="621.3" rx="7.6" ry="5.6" fill="url(#gk)" opacity="0.93"/>
<ellipse cx="516.8" cy="630.1" rx="8.3" ry="4.6" fill="url(#gk)" opacity="0.94" transform="rotate(5 519.8 630.2)"/>
<ellipse cx="532.7" cy="645.7" rx="6.7" ry="4.9" fill="url(#gk)" opacity="0.93"/>
<ellipse cx="516.6" cy="654.4" rx="9.3" ry="5.2" fill="url(#gk)" opacity="0.94" transform="rotate(7 519.8 655.2)"/>
<ellipse cx="532.8" cy="670.4" rx="6.5" ry="4.8" fill="url(#gk)" opacity="0.93"/>
<ellipse cx="516.5" cy="679.8" rx="8.9" ry="5.0" fill="url(#gk)" opacity="0.94" transform="rotate(7 519.8 680.1)"/>
<ellipse cx="531.8" cy="695.1" rx="6.8" ry="5.0" fill="url(#gk)" opacity="0.93"/>
<ellipse cx="516.8" cy="704.4" rx="9.3" ry="5.2" fill="url(#gk)" opacity="0.94" transform="rotate(5 519.8 705.1)"/>
<ellipse cx="532.0" cy="720.0" rx="6.6" ry="4.9" fill="url(#gk)" opacity="0.93"/>
<ellipse cx="516.8" cy="729.2" rx="7.4" ry="4.1" fill="url(#gk)" opacity="0.94" transform="rotate(11 519.8 730.0)"/>
<ellipse cx="532.0" cy="745.9" rx="5.1" ry="3.8" fill="url(#gk)" opacity="0.93"/>
<ellipse cx="516.9" cy="755.0" rx="6.7" ry="3.7" fill="url(#gk)" opacity="0.94" transform="rotate(12 519.8 755.0)"/>
<ellipse cx="532.1" cy="770.7" rx="5.2" ry="3.8" fill="url(#gk)" opacity="0.93"/>
<ellipse cx="517.6" cy="779.2" rx="7.0" ry="3.9" fill="url(#gk)" opacity="0.94" transform="rotate(13 519.8 779.9)"/>
<ellipse cx="531.9" cy="795.3" rx="5.6" ry="4.1" fill="url(#gk)" opacity="0.93"/>
<ellipse cx="517.3" cy="804.2" rx="6.7" ry="3.7" fill="url(#gk)" opacity="0.94" transform="rotate(13 519.8 804.9)"/>
<ellipse cx="532.1" cy="820.0" rx="5.6" ry="4.2" fill="url(#gk)" opacity="0.93"/>
<ellipse cx="516.6" cy="829.9" rx="7.3" ry="4.1" fill="url(#gk)" opacity="0.94" transform="rotate(4 519.8 829.8)"/>
<ellipse cx="542.0" cy="554.7" rx="8.8" ry="4.9" fill="url(#gk)" opacity="0.94" transform="rotate(11 544.8 555.4)"/>
<ellipse cx="557.4" cy="570.9" rx="6.8" ry="5.0" fill="url(#gk)" opacity="0.93"/>
<ellipse cx="541.8" cy="579.4" rx="8.4" ry="4.7" fill="url(#gk)" opacity="0.94" transform="rotate(5 544.8 580.3)"/>
<ellipse cx="557.0" cy="596.0" rx="7.4" ry="5.5" fill="url(#gk)" opacity="0.93"/>
<ellipse cx="542.0" cy="604.7" rx="8.1" ry="4.5" fill="url(#gk)" opacity="0.94" transform="rotate(9 544.8 605.3)"/>
<ellipse cx="556.7" cy="620.5" rx="6.7" ry="4.9" fill="url(#gk)" opacity="0.93"/>
<ellipse cx="541.4" cy="630.1" rx="8.3" ry="4.6" fill="url(#gk)" opacity="0.94" transform="rotate(6 544.8 630.2)"/>
<ellipse cx="557.7" cy="646.0" rx="6.8" ry="5.0" fill="url(#gk)" opacity="0.93"/>
<ellipse cx="542.5" cy="654.3" rx="9.4" ry="5.3" fill="url(#gk)" opacity="0.94" transform="rotate(6 544.8 655.2)"/>
<ellipse cx="557.4" cy="670.8" rx="6.3" ry="4.6" fill="url(#gk)" opacity="0.93"/>
<ellipse cx="541.8" cy="679.9" rx="8.5" ry="4.8" fill="url(#gk)" opacity="0.94" transform="rotate(11 544.8 680.1)"/>
<ellipse cx="557.6" cy="695.4" rx="6.6" ry="4.8" fill="url(#gk)" opacity="0.93"/>
<ellipse cx="541.5" cy="704.2" rx="9.0" ry="5.0" fill="url(#gk)" opacity="0.94" transform="rotate(13 544.8 705.1)"/>
<ellipse cx="557.5" cy="720.0" rx="7.3" ry="5.3" fill="url(#gk)" opacity="0.93"/>
<ellipse cx="541.5" cy="729.3" rx="6.5" ry="3.7" fill="url(#gk)" opacity="0.94" transform="rotate(6 544.8 730.0)"/>
<ellipse cx="556.7" cy="745.3" rx="5.4" ry="4.0" fill="url(#gk)" opacity="0.93"/>
<ellipse cx="541.5" cy="755.0" rx="7.4" ry="4.1" fill="url(#gk)" opacity="0.94" transform="rotate(9 544.8 755.0)"/>
<ellipse cx="556.9" cy="770.4" rx="5.8" ry="4.3" fill="url(#gk)" opacity="0.93"/>
<ellipse cx="541.7" cy="778.9" rx="7.5" ry="4.2" fill="url(#gk)" opacity="0.94" transform="rotate(12 544.8 779.9)"/>
<ellipse cx="557.0" cy="794.9" rx="5.8" ry="4.3" fill="url(#gk)" opacity="0.93"/>
<ellipse cx="542.1" cy="803.9" rx="7.7" ry="4.3" fill="url(#gk)" opacity="0.94" transform="rotate(6 544.8 804.9)"/>
<ellipse cx="557.6" cy="820.0" rx="5.1" ry="3.8" fill="url(#gk)" opacity="0.93"/>
<ellipse cx="542.3" cy="828.9" rx="7.8" ry="4.3" fill="url(#gk)" opacity="0.94" transform="rotate(11 544.8 829.8)"/>
<ellipse cx="567.2" cy="555.4" rx="8.6" ry="4.8" fill="url(#gk)" opacity="0.94" transform="rotate(6 569.7 555.4)"/>
<ellipse cx="582.7" cy="570.8" rx="6.4" ry="4.7" fill="url(#gk)" opacity="0.93"/>
<ellipse cx="567.2" cy="580.2" rx="9.5" ry="5.3" fill="url(#gk)" opacity="0.94" transform="rotate(12 569.7 580.3)"/>
<ellipse cx="582.1" cy="595.3" rx="7.1" ry="5.2" fill="url(#gk)" opacity="0.93"/>
<ellipse cx="566.8" cy="604.9" rx="9.1" ry="5.1" fill="url(#gk)" opacity="0.94" transform="rotate(13 569.7 605.3)"/>
<ellipse cx="582.5" cy="620.2" rx="6.4" ry="4.7" fill="url(#gk)" opacity="0.93"/>
<ellipse cx="567.3" cy="629.5" rx="9.1" ry="5.1" fill="url(#gk)" opacity="0.94" transform="rotate(9 569.7 630.2)"/>
<ellipse cx="582.3" cy="645.8" rx="7.6" ry="5.6" fill="url(#gk)" opacity="0.93"/>
<ellipse cx="566.3" cy="654.6" rx="8.3" ry="4.7" fill="url(#gk)" opacity="0.94" transform="rotate(8 569.7 655.2)"/>
<ellipse cx="581.9" cy="670.2" rx="6.5" ry="4.8" fill="url(#gk)" opacity="0.93"/>
<ellipse cx="567.1" cy="679.4" rx="9.1" ry="5.1" fill="url(#gk)" opacity="0.94" transform="rotate(6 569.7 680.1)"/>
<ellipse cx="582.1" cy="696.1" rx="7.0" ry="5.1" fill="url(#gk)" opacity="0.93"/>
<ellipse cx="566.6" cy="705.1" rx="8.5" ry="4.8" fill="url(#gk)" opacity="0.94" transform="rotate(5 569.7 705.1)"/>
<ellipse cx="582.0" cy="720.9" rx="7.0" ry="5.2" fill="url(#gk)" opacity="0.93"/>
<ellipse cx="567.3" cy="729.2" rx="7.3" ry="4.1" fill="url(#gk)" opacity="0.94" transform="rotate(10 569.7 730.0)"/>
<ellipse cx="582.1" cy="745.8" rx="5.7" ry="4.2" fill="url(#gk)" opacity="0.93"/>
<ellipse cx="566.4" cy="754.3" rx="7.7" ry="4.3" fill="url(#gk)" opacity="0.94" transform="rotate(7 569.7 755.0)"/>
<ellipse cx="581.6" cy="770.2" rx="5.2" ry="3.8" fill="url(#gk)" opacity="0.93"/>
<ellipse cx="567.2" cy="779.5" rx="6.8" ry="3.8" fill="url(#gk)" opacity="0.94" transform="rotate(4 569.7 779.9)"/>
<ellipse cx="582.1" cy="795.2" rx="5.4" ry="3.9" fill="url(#gk)" opacity="0.93"/>
<ellipse cx="566.3" cy="803.9" rx="6.7" ry="3.8" fill="url(#gk)" opacity="0.94" transform="rotate(14 569.7 804.9)"/>
<ellipse cx="581.7" cy="820.6" rx="5.8" ry="4.3" fill="url(#gk)" opacity="0.93"/>
<ellipse cx="567.0" cy="829.0" rx="7.9" ry="4.4" fill="url(#gk)" opacity="0.94" transform="rotate(8 569.7 829.8)"/>
<ellipse cx="591.4" cy="580.0" rx="8.7" ry="4.8" fill="url(#gk)" opacity="0.94" transform="rotate(3 594.6 580.3)"/>
<ellipse cx="607.3" cy="596.0" rx="7.5" ry="5.5" fill="url(#gk)" opacity="0.93"/>
<ellipse cx="592.1" cy="604.6" rx="9.5" ry="5.3" fill="url(#gk)" opacity="0.94" transform="rotate(6 594.6 605.3)"/>
<ellipse cx="606.6" cy="621.1" rx="6.4" ry="4.7" fill="url(#gk)" opacity="0.93"/>
<ellipse cx="591.6" cy="629.4" rx="9.4" ry="5.2" fill="url(#gk)" opacity="0.94" transform="rotate(10 594.6 630.2)"/>
<ellipse cx="607.6" cy="645.3" rx="7.4" ry="5.4" fill="url(#gk)" opacity="0.93"/>
<ellipse cx="592.3" cy="655.1" rx="9.3" ry="5.2" fill="url(#gk)" opacity="0.94" transform="rotate(7 594.6 655.2)"/>
<ellipse cx="607.5" cy="670.4" rx="6.5" ry="4.8" fill="url(#gk)" opacity="0.93"/>
<ellipse cx="591.9" cy="679.6" rx="8.5" ry="4.8" fill="url(#gk)" opacity="0.94" transform="rotate(12 594.6 680.1)"/>
<ellipse cx="606.6" cy="695.7" rx="6.6" ry="4.8" fill="url(#gk)" opacity="0.93"/>
<ellipse cx="592.3" cy="704.9" rx="9.0" ry="5.0" fill="url(#gk)" opacity="0.94" transform="rotate(13 594.6 705.1)"/>
<ellipse cx="607.1" cy="720.5" rx="7.5" ry="5.5" fill="url(#gk)" opacity="0.93"/>
<ellipse cx="591.6" cy="729.7" rx="6.7" ry="3.7" fill="url(#gk)" opacity="0.94" transform="rotate(4 594.6 730.0)"/>
<ellipse cx="606.7" cy="745.4" rx="5.8" ry="4.2" fill="url(#gk)" opacity="0.93"/>
<ellipse cx="591.3" cy="754.0" rx="7.9" ry="4.4" fill="url(#gk)" opacity="0.94" transform="rotate(8 594.6 755.0)"/>
<ellipse cx="607.4" cy="769.9" rx="5.2" ry="3.8" fill="url(#gk)" opacity="0.93"/>
<ellipse cx="592.3" cy="779.9" rx="7.7" ry="4.3" fill="url(#gk)" opacity="0.94" transform="rotate(8 594.6 779.9)"/>
<ellipse cx="607.3" cy="795.4" rx="5.3" ry="3.9" fill="url(#gk)" opacity="0.93"/>
<ellipse cx="591.6" cy="804.4" rx="7.1" ry="4.0" fill="url(#gk)" opacity="0.94" transform="rotate(10 594.6 804.9)"/>
<ellipse cx="617.4" cy="604.5" rx="9.3" ry="5.2" fill="url(#gk)" opacity="0.94" transform="rotate(6 619.6 605.3)"/>
<ellipse cx="632.2" cy="620.6" rx="6.9" ry="5.0" fill="url(#gk)" opacity="0.93"/>
<ellipse cx="616.2" cy="629.6" rx="8.2" ry="4.6" fill="url(#gk)" opacity="0.94" transform="rotate(8 619.6 630.2)"/>
<ellipse cx="632.6" cy="646.1" rx="7.6" ry="5.6" fill="url(#gk)" opacity="0.93"/>
<ellipse cx="617.4" cy="654.9" rx="9.6" ry="5.4" fill="url(#gk)" opacity="0.94" transform="rotate(12 619.6 655.2)"/>
<ellipse cx="632.3" cy="670.8" rx="6.3" ry="4.7" fill="url(#gk)" opacity="0.93"/>
<ellipse cx="616.9" cy="680.3" rx="8.4" ry="4.7" fill="url(#gk)" opacity="0.94" transform="rotate(8 619.6 680.1)"/>
<ellipse cx="631.8" cy="695.4" rx="7.1" ry="5.2" fill="url(#gk)" opacity="0.93"/>
<ellipse cx="616.1" cy="704.3" rx="9.4" ry="5.3" fill="url(#gk)" opacity="0.94" transform="rotate(10 619.6 705.1)"/>
<ellipse cx="631.6" cy="720.7" rx="6.9" ry="5.0" fill="url(#gk)" opacity="0.93"/>
<ellipse cx="616.9" cy="729.5" rx="7.0" ry="3.9" fill="url(#gk)" opacity="0.94" transform="rotate(9 619.6 730.0)"/>
<ellipse cx="632.0" cy="745.0" rx="5.6" ry="4.1" fill="url(#gk)" opacity="0.93"/>
<ellipse cx="617.3" cy="754.6" rx="6.7" ry="3.8" fill="url(#gk)" opacity="0.94" transform="rotate(4 619.6 755.0)"/>
<ellipse cx="631.8" cy="770.0" rx="5.9" ry="4.4" fill="url(#gk)" opacity="0.93"/>
<ellipse cx="616.5" cy="779.5" rx="7.2" ry="4.0" fill="url(#gk)" opacity="0.94" transform="rotate(9 619.6 779.9)"/>
<ellipse cx="641.9" cy="629.4" rx="8.3" ry="4.6" fill="url(#gk)" opacity="0.94" transform="rotate(9 644.5 630.2)"/>
<ellipse cx="656.5" cy="645.6" rx="7.1" ry="5.2" fill="url(#gk)" opacity="0.93"/>
<ellipse cx="641.7" cy="655.2" rx="8.0" ry="4.5" fill="url(#gk)" opacity="0.94" transform="rotate(9 644.5 655.2)"/>
<ellipse cx="657.3" cy="670.2" rx="7.2" ry="5.3" fill="url(#gk)" opacity="0.93"/>
<ellipse cx="642.1" cy="679.2" rx="9.6" ry="5.4" fill="url(#gk)" opacity="0.94" transform="rotate(12 644.5 680.1)"/>
<ellipse cx="656.6" cy="696.2" rx="6.8" ry="5.0" fill="url(#gk)" opacity="0.93"/>
<ellipse cx="642.1" cy="704.2" rx="8.9" ry="5.0" fill="url(#gk)" opacity="0.94" transform="rotate(12 644.5 705.1)"/>
<ellipse cx="656.7" cy="720.4" rx="6.3" ry="4.7" fill="url(#gk)" opacity="0.93"/>
<ellipse cx="641.9" cy="729.3" rx="6.5" ry="3.6" fill="url(#gk)" opacity="0.94" transform="rotate(6 644.5 730.0)"/>
<ellipse cx="656.9" cy="746.0" rx="5.8" ry="4.2" fill="url(#gk)" opacity="0.93"/>
<ellipse cx="642.3" cy="754.7" rx="7.4" ry="4.1" fill="url(#gk)" opacity="0.94" transform="rotate(13 644.5 755.0)"/>
<ellipse cx="395.0" cy="642.7" rx="7" ry="8" fill="url(#gw)" opacity="0.322"/>
<ellipse cx="395.0" cy="742.5" rx="7" ry="8" fill="url(#gw)" opacity="0.224"/>
<ellipse cx="469.9" cy="567.9" rx="7" ry="8" fill="url(#gw)" opacity="0.304"/>
<ellipse cx="469.9" cy="817.4" rx="7" ry="8" fill="url(#gw)" opacity="0.248"/>
<ellipse cx="569.7" cy="567.9" rx="7" ry="8" fill="url(#gw)" opacity="0.307"/>
<ellipse cx="569.7" cy="817.4" rx="7" ry="8" fill="url(#gw)" opacity="0.295"/>
<ellipse cx="644.5" cy="642.7" rx="7" ry="8" fill="url(#gw)" opacity="0.316"/>
<ellipse cx="644.5" cy="742.5" rx="7" ry="8" fill="url(#gw)" opacity="0.217"/>
<path d="M389.6 663.0 Q389.8 660.9 395.0 660.8 Q400.2 660.9 400.4 663.0 Q399.6 671.1 397.6 675.6 Q395.0 677.2 392.4 675.6 Q390.4 671.1 389.6 663.0Z" fill="#fff" opacity="0.375" transform="translate(395.0 667.6) scale(0.84) translate(-395.0 -667.6)"/>
<ellipse cx="395.0" cy="666.6" rx="6.2" ry="7.7" fill="url(#gw)" opacity="0.545"/>
<path d="M389.6 688.0 Q389.8 685.8 395.0 685.7 Q400.2 685.8 400.4 688.0 Q399.6 696.1 397.6 700.6 Q395.0 702.2 392.4 700.6 Q390.4 696.1 389.6 688.0Z" fill="#fff" opacity="0.403" transform="translate(395.0 692.6) scale(0.84) translate(-395.0 -692.6)"/>
<ellipse cx="395.0" cy="691.6" rx="6.2" ry="7.7" fill="url(#gw)" opacity="0.587"/>
<path d="M389.6 713.0 Q389.8 710.8 395.0 710.7 Q400.2 710.8 400.4 713.0 Q399.6 721.1 397.6 725.6 Q395.0 727.2 392.4 725.6 Q390.4 721.1 389.6 713.0Z" fill="#fff" opacity="0.359" transform="translate(395.0 717.6) scale(0.84) translate(-395.0 -717.6)"/>
<ellipse cx="395.0" cy="716.6" rx="6.2" ry="7.7" fill="url(#gw)" opacity="0.522"/>
<path d="M414.6 613.1 Q414.8 611.0 420.0 610.9 Q425.2 611.0 425.4 613.1 Q424.6 621.2 422.6 625.8 Q420.0 627.4 417.4 625.8 Q415.4 621.2 414.6 613.1Z" fill="#fff" opacity="0.361" transform="translate(420.0 617.8) scale(0.84) translate(-420.0 -617.8)"/>
<ellipse cx="420.0" cy="616.8" rx="6.2" ry="7.7" fill="url(#gw)" opacity="0.526"/>
<path d="M414.6 638.1 Q414.8 635.9 420.0 635.8 Q425.2 635.9 425.4 638.1 Q424.6 646.2 422.6 650.7 Q420.0 652.3 417.4 650.7 Q415.4 646.2 414.6 638.1Z" fill="#fff" opacity="0.436" transform="translate(420.0 642.7) scale(0.84) translate(-420.0 -642.7)"/>
<ellipse cx="420.0" cy="641.7" rx="6.2" ry="7.7" fill="url(#gw)" opacity="0.634"/>
<path d="M414.6 663.0 Q414.8 660.9 420.0 660.8 Q425.2 660.9 425.4 663.0 Q424.6 671.1 422.6 675.6 Q420.0 677.2 417.4 675.6 Q415.4 671.1 414.6 663.0Z" fill="#fff" opacity="0.447" transform="translate(420.0 667.6) scale(0.84) translate(-420.0 -667.6)"/>
<ellipse cx="420.0" cy="666.6" rx="6.2" ry="7.7" fill="url(#gw)" opacity="0.650"/>
<path d="M414.6 688.0 Q414.8 685.8 420.0 685.7 Q425.2 685.8 425.4 688.0 Q424.6 696.1 422.6 700.6 Q420.0 702.2 417.4 700.6 Q415.4 696.1 414.6 688.0Z" fill="#fff" opacity="0.454" transform="translate(420.0 692.6) scale(0.84) translate(-420.0 -692.6)"/>
<ellipse cx="420.0" cy="691.6" rx="6.2" ry="7.7" fill="url(#gw)" opacity="0.660"/>
<path d="M414.6 713.0 Q414.8 710.8 420.0 710.7 Q425.2 710.8 425.4 713.0 Q424.6 721.1 422.6 725.6 Q420.0 727.2 417.4 725.6 Q415.4 721.1 414.6 713.0Z" fill="#fff" opacity="0.421" transform="translate(420.0 717.6) scale(0.84) translate(-420.0 -717.6)"/>
<ellipse cx="420.0" cy="716.6" rx="6.2" ry="7.7" fill="url(#gw)" opacity="0.612"/>
<path d="M414.6 737.9 Q414.8 735.7 420.0 735.6 Q425.2 735.7 425.4 737.9 Q424.6 746.0 422.6 750.5 Q420.0 752.1 417.4 750.5 Q415.4 746.0 414.6 737.9Z" fill="#fff" opacity="0.351" transform="translate(420.0 742.5) scale(0.8) translate(-420.0 -742.5)"/>
<ellipse cx="420.0" cy="741.5" rx="5.9" ry="7.3" fill="url(#gw)" opacity="0.510"/>
<ellipse cx="420.0" cy="740.5" rx="11.5" ry="3.4" fill="url(#gs)" opacity="0.300"/>
<ellipse cx="420.0" cy="749.5" rx="3.2" ry="7" fill="url(#gs)" opacity="0.320"/>
<path d="M414.6 762.9 Q414.8 760.7 420.0 760.6 Q425.2 760.7 425.4 762.9 Q424.6 771.0 422.6 775.5 Q420.0 777.1 417.4 775.5 Q415.4 771.0 414.6 762.9Z" fill="#fff" opacity="0.313" transform="translate(420.0 767.5) scale(0.77) translate(-420.0 -767.5)"/>
<ellipse cx="420.0" cy="766.5" rx="5.6" ry="7.0" fill="url(#gw)" opacity="0.455"/>
<ellipse cx="420.0" cy="765.5" rx="11.5" ry="3.4" fill="url(#gs)" opacity="0.300"/>
<ellipse cx="420.0" cy="774.5" rx="3.2" ry="7" fill="url(#gs)" opacity="0.320"/>
<path d="M439.5 588.2 Q439.7 586.0 444.9 585.9 Q450.1 586.0 450.3 588.2 Q449.5 596.3 447.5 600.8 Q444.9 602.4 442.3 600.8 Q440.3 596.3 439.5 588.2Z" fill="#fff" opacity="0.436" transform="translate(444.9 592.8) scale(0.84) translate(-444.9 -592.8)"/>
<ellipse cx="444.9" cy="591.8" rx="6.2" ry="7.7" fill="url(#gw)" opacity="0.634"/>
<path d="M439.5 613.1 Q439.7 611.0 444.9 610.9 Q450.1 611.0 450.3 613.1 Q449.5 621.2 447.5 625.8 Q444.9 627.4 442.3 625.8 Q440.3 621.2 439.5 613.1Z" fill="#fff" opacity="0.426" transform="translate(444.9 617.8) scale(0.84) translate(-444.9 -617.8)"/>
<ellipse cx="444.9" cy="616.8" rx="6.2" ry="7.7" fill="url(#gw)" opacity="0.620"/>
<path d="M439.5 638.1 Q439.7 635.9 444.9 635.8 Q450.1 635.9 450.3 638.1 Q449.5 646.2 447.5 650.7 Q444.9 652.3 442.3 650.7 Q440.3 646.2 439.5 638.1Z" fill="#fff" opacity="0.434" transform="translate(444.9 642.7) scale(0.84) translate(-444.9 -642.7)"/>
<ellipse cx="444.9" cy="641.7" rx="6.2" ry="7.7" fill="url(#gw)" opacity="0.631"/>
<path d="M439.5 663.0 Q439.7 660.9 444.9 660.8 Q450.1 660.9 450.3 663.0 Q449.5 671.1 447.5 675.6 Q444.9 677.2 442.3 675.6 Q440.3 671.1 439.5 663.0Z" fill="#fff" opacity="0.404" transform="translate(444.9 667.6) scale(0.84) translate(-444.9 -667.6)"/>
<ellipse cx="444.9" cy="666.6" rx="6.2" ry="7.7" fill="url(#gw)" opacity="0.588"/>
<path d="M439.5 688.0 Q439.7 685.8 444.9 685.7 Q450.1 685.8 450.3 688.0 Q449.5 696.1 447.5 700.6 Q444.9 702.2 442.3 700.6 Q440.3 696.1 439.5 688.0Z" fill="#fff" opacity="0.426" transform="translate(444.9 692.6) scale(0.84) translate(-444.9 -692.6)"/>
<ellipse cx="444.9" cy="691.6" rx="6.2" ry="7.7" fill="url(#gw)" opacity="0.619"/>
<path d="M439.5 713.0 Q439.7 710.8 444.9 710.7 Q450.1 710.8 450.3 713.0 Q449.5 721.1 447.5 725.6 Q444.9 727.2 442.3 725.6 Q440.3 721.1 439.5 713.0Z" fill="#fff" opacity="0.440" transform="translate(444.9 717.6) scale(0.84) translate(-444.9 -717.6)"/>
<ellipse cx="444.9" cy="716.6" rx="6.2" ry="7.7" fill="url(#gw)" opacity="0.641"/>
<path d="M439.5 737.9 Q439.7 735.7 444.9 735.6 Q450.1 735.7 450.3 737.9 Q449.5 746.0 447.5 750.5 Q444.9 752.1 442.3 750.5 Q440.3 746.0 439.5 737.9Z" fill="#fff" opacity="0.358" transform="translate(444.9 742.5) scale(0.8) translate(-444.9 -742.5)"/>
<ellipse cx="444.9" cy="741.5" rx="5.9" ry="7.3" fill="url(#gw)" opacity="0.521"/>
<ellipse cx="444.9" cy="740.5" rx="11.5" ry="3.4" fill="url(#gs)" opacity="0.300"/>
<ellipse cx="444.9" cy="749.5" rx="3.2" ry="7" fill="url(#gs)" opacity="0.320"/>
<path d="M439.5 762.9 Q439.7 760.7 444.9 760.6 Q450.1 760.7 450.3 762.9 Q449.5 771.0 447.5 775.5 Q444.9 777.1 442.3 775.5 Q440.3 771.0 439.5 762.9Z" fill="#fff" opacity="0.355" transform="translate(444.9 767.5) scale(0.77) translate(-444.9 -767.5)"/>
<ellipse cx="444.9" cy="766.5" rx="5.6" ry="7.0" fill="url(#gw)" opacity="0.516"/>
<ellipse cx="444.9" cy="765.5" rx="11.5" ry="3.4" fill="url(#gs)" opacity="0.300"/>
<ellipse cx="444.9" cy="774.5" rx="3.2" ry="7" fill="url(#gs)" opacity="0.320"/>
<path d="M439.5 787.8 Q439.7 785.6 444.9 785.5 Q450.1 785.6 450.3 787.8 Q449.5 795.9 447.5 800.4 Q444.9 802.0 442.3 800.4 Q440.3 795.9 439.5 787.8Z" fill="#fff" opacity="0.325" transform="translate(444.9 792.4) scale(0.73) translate(-444.9 -792.4)"/>
<ellipse cx="444.9" cy="791.4" rx="5.4" ry="6.7" fill="url(#gw)" opacity="0.473"/>
<ellipse cx="444.9" cy="790.4" rx="11.5" ry="3.4" fill="url(#gs)" opacity="0.300"/>
<ellipse cx="444.9" cy="799.4" rx="3.2" ry="7" fill="url(#gs)" opacity="0.320"/>
<path d="M464.5 588.2 Q464.7 586.0 469.9 585.9 Q475.1 586.0 475.3 588.2 Q474.5 596.3 472.5 600.8 Q469.9 602.4 467.3 600.8 Q465.3 596.3 464.5 588.2Z" fill="#fff" opacity="0.398" transform="translate(469.9 592.8) scale(0.84) translate(-469.9 -592.8)"/>
<ellipse cx="469.9" cy="591.8" rx="6.2" ry="7.7" fill="url(#gw)" opacity="0.579"/>
<path d="M464.5 613.1 Q464.7 611.0 469.9 610.9 Q475.1 611.0 475.3 613.1 Q474.5 621.2 472.5 625.8 Q469.9 627.4 467.3 625.8 Q465.3 621.2 464.5 613.1Z" fill="#fff" opacity="0.441" transform="translate(469.9 617.8) scale(0.84) translate(-469.9 -617.8)"/>
<ellipse cx="469.9" cy="616.8" rx="6.2" ry="7.7" fill="url(#gw)" opacity="0.641"/>
<path d="M464.5 638.1 Q464.7 635.9 469.9 635.8 Q475.1 635.9 475.3 638.1 Q474.5 646.2 472.5 650.7 Q469.9 652.3 467.3 650.7 Q465.3 646.2 464.5 638.1Z" fill="#fff" opacity="0.418" transform="translate(469.9 642.7) scale(0.84) translate(-469.9 -642.7)"/>
<ellipse cx="469.9" cy="641.7" rx="6.2" ry="7.7" fill="url(#gw)" opacity="0.607"/>
<path d="M464.5 663.0 Q464.7 660.9 469.9 660.8 Q475.1 660.9 475.3 663.0 Q474.5 671.1 472.5 675.6 Q469.9 677.2 467.3 675.6 Q465.3 671.1 464.5 663.0Z" fill="#fff" opacity="0.405" transform="translate(469.9 667.6) scale(0.84) translate(-469.9 -667.6)"/>
<ellipse cx="469.9" cy="666.6" rx="6.2" ry="7.7" fill="url(#gw)" opacity="0.589"/>
<path d="M464.5 688.0 Q464.7 685.8 469.9 685.7 Q475.1 685.8 475.3 688.0 Q474.5 696.1 472.5 700.6 Q469.9 702.2 467.3 700.6 Q465.3 696.1 464.5 688.0Z" fill="#fff" opacity="0.418" transform="translate(469.9 692.6) scale(0.84) translate(-469.9 -692.6)"/>
<ellipse cx="469.9" cy="691.6" rx="6.2" ry="7.7" fill="url(#gw)" opacity="0.607"/>
<path d="M464.5 713.0 Q464.7 710.8 469.9 710.7 Q475.1 710.8 475.3 713.0 Q474.5 721.1 472.5 725.6 Q469.9 727.2 467.3 725.6 Q465.3 721.1 464.5 713.0Z" fill="#fff" opacity="0.474" transform="translate(469.9 717.6) scale(0.84) translate(-469.9 -717.6)"/>
<ellipse cx="469.9" cy="716.6" rx="6.2" ry="7.7" fill="url(#gw)" opacity="0.689"/>
<path d="M464.5 737.9 Q464.7 735.7 469.9 735.6 Q475.1 735.7 475.3 737.9 Q474.5 746.0 472.5 750.5 Q469.9 752.1 467.3 750.5 Q465.3 746.0 464.5 737.9Z" fill="#fff" opacity="0.376" transform="translate(469.9 742.5) scale(0.8) translate(-469.9 -742.5)"/>
<ellipse cx="469.9" cy="741.5" rx="5.9" ry="7.3" fill="url(#gw)" opacity="0.546"/>
<ellipse cx="469.9" cy="740.5" rx="11.5" ry="3.4" fill="url(#gs)" opacity="0.300"/>
<ellipse cx="469.9" cy="749.5" rx="3.2" ry="7" fill="url(#gs)" opacity="0.320"/>
<path d="M464.5 762.9 Q464.7 760.7 469.9 760.6 Q475.1 760.7 475.3 762.9 Q474.5 771.0 472.5 775.5 Q469.9 777.1 467.3 775.5 Q465.3 771.0 464.5 762.9Z" fill="#fff" opacity="0.396" transform="translate(469.9 767.5) scale(0.77) translate(-469.9 -767.5)"/>
<ellipse cx="469.9" cy="766.5" rx="5.6" ry="7.0" fill="url(#gw)" opacity="0.576"/>
<ellipse cx="469.9" cy="765.5" rx="11.5" ry="3.4" fill="url(#gs)" opacity="0.300"/>
<ellipse cx="469.9" cy="774.5" rx="3.2" ry="7" fill="url(#gs)" opacity="0.320"/>
<path d="M464.5 787.8 Q464.7 785.6 469.9 785.5 Q475.1 785.6 475.3 787.8 Q474.5 795.9 472.5 800.4 Q469.9 802.0 467.3 800.4 Q465.3 795.9 464.5 787.8Z" fill="#fff" opacity="0.284" transform="translate(469.9 792.4) scale(0.73) translate(-469.9 -792.4)"/>
<ellipse cx="469.9" cy="791.4" rx="5.4" ry="6.7" fill="url(#gw)" opacity="0.414"/>
<ellipse cx="469.9" cy="790.4" rx="11.5" ry="3.4" fill="url(#gs)" opacity="0.300"/>
<ellipse cx="469.9" cy="799.4" rx="3.2" ry="7" fill="url(#gs)" opacity="0.320"/>
<path d="M489.4 563.2 Q489.6 561.1 494.8 561.0 Q500.0 561.1 500.2 563.2 Q499.4 571.4 497.4 575.9 Q494.8 577.5 492.2 575.9 Q490.2 571.4 489.4 563.2Z" fill="#fff" opacity="0.315" transform="translate(494.8 567.9) scale(0.84) translate(-494.8 -567.9)"/>
<ellipse cx="494.8" cy="566.9" rx="6.2" ry="7.7" fill="url(#gw)" opacity="0.458"/>
<path d="M489.4 588.2 Q489.6 586.0 494.8 585.9 Q500.0 586.0 500.2 588.2 Q499.4 596.3 497.4 600.8 Q494.8 602.4 492.2 600.8 Q490.2 596.3 489.4 588.2Z" fill="#fff" opacity="0.428" transform="translate(494.8 592.8) scale(0.84) translate(-494.8 -592.8)"/>
<ellipse cx="494.8" cy="591.8" rx="6.2" ry="7.7" fill="url(#gw)" opacity="0.622"/>
<path d="M489.4 613.1 Q489.6 611.0 494.8 610.9 Q500.0 611.0 500.2 613.1 Q499.4 621.2 497.4 625.8 Q494.8 627.4 492.2 625.8 Q490.2 621.2 489.4 613.1Z" fill="#fff" opacity="0.459" transform="translate(494.8 617.8) scale(0.84) translate(-494.8 -617.8)"/>
<ellipse cx="494.8" cy="616.8" rx="6.2" ry="7.7" fill="url(#gw)" opacity="0.668"/>
<path d="M489.4 638.1 Q489.6 635.9 494.8 635.8 Q500.0 635.9 500.2 638.1 Q499.4 646.2 497.4 650.7 Q494.8 652.3 492.2 650.7 Q490.2 646.2 489.4 638.1Z" fill="#fff" opacity="0.428" transform="translate(494.8 642.7) scale(0.84) translate(-494.8 -642.7)"/>
<ellipse cx="494.8" cy="641.7" rx="6.2" ry="7.7" fill="url(#gw)" opacity="0.622"/>
<path d="M489.4 663.0 Q489.6 660.9 494.8 660.8 Q500.0 660.9 500.2 663.0 Q499.4 671.1 497.4 675.6 Q494.8 677.2 492.2 675.6 Q490.2 671.1 489.4 663.0Z" fill="#fff" opacity="0.397" transform="translate(494.8 667.6) scale(0.84) translate(-494.8 -667.6)"/>
<ellipse cx="494.8" cy="666.6" rx="6.2" ry="7.7" fill="url(#gw)" opacity="0.578"/>
<path d="M489.4 688.0 Q489.6 685.8 494.8 685.7 Q500.0 685.8 500.2 688.0 Q499.4 696.1 497.4 700.6 Q494.8 702.2 492.2 700.6 Q490.2 696.1 489.4 688.0Z" fill="#fff" opacity="0.494" transform="translate(494.8 692.6) scale(0.84) translate(-494.8 -692.6)"/>
<ellipse cx="494.8" cy="691.6" rx="6.2" ry="7.7" fill="url(#gw)" opacity="0.719"/>
<path d="M489.4 713.0 Q489.6 710.8 494.8 710.7 Q500.0 710.8 500.2 713.0 Q499.4 721.1 497.4 725.6 Q494.8 727.2 492.2 725.6 Q490.2 721.1 489.4 713.0Z" fill="#fff" opacity="0.404" transform="translate(494.8 717.6) scale(0.84) translate(-494.8 -717.6)"/>
<ellipse cx="494.8" cy="716.6" rx="6.2" ry="7.7" fill="url(#gw)" opacity="0.588"/>
<path d="M489.4 737.9 Q489.6 735.7 494.8 735.6 Q500.0 735.7 500.2 737.9 Q499.4 746.0 497.4 750.5 Q494.8 752.1 492.2 750.5 Q490.2 746.0 489.4 737.9Z" fill="#fff" opacity="0.372" transform="translate(494.8 742.5) scale(0.8) translate(-494.8 -742.5)"/>
<ellipse cx="494.8" cy="741.5" rx="5.9" ry="7.3" fill="url(#gw)" opacity="0.542"/>
<ellipse cx="494.8" cy="740.5" rx="11.5" ry="3.4" fill="url(#gs)" opacity="0.300"/>
<ellipse cx="494.8" cy="749.5" rx="3.2" ry="7" fill="url(#gs)" opacity="0.320"/>
<path d="M489.4 762.9 Q489.6 760.7 494.8 760.6 Q500.0 760.7 500.2 762.9 Q499.4 771.0 497.4 775.5 Q494.8 777.1 492.2 775.5 Q490.2 771.0 489.4 762.9Z" fill="#fff" opacity="0.374" transform="translate(494.8 767.5) scale(0.77) translate(-494.8 -767.5)"/>
<ellipse cx="494.8" cy="766.5" rx="5.6" ry="7.0" fill="url(#gw)" opacity="0.544"/>
<ellipse cx="494.8" cy="765.5" rx="11.5" ry="3.4" fill="url(#gs)" opacity="0.300"/>
<ellipse cx="494.8" cy="774.5" rx="3.2" ry="7" fill="url(#gs)" opacity="0.320"/>
<path d="M489.4 787.8 Q489.6 785.6 494.8 785.5 Q500.0 785.6 500.2 787.8 Q499.4 795.9 497.4 800.4 Q494.8 802.0 492.2 800.4 Q490.2 795.9 489.4 787.8Z" fill="#fff" opacity="0.345" transform="translate(494.8 792.4) scale(0.73) translate(-494.8 -792.4)"/>
<ellipse cx="494.8" cy="791.4" rx="5.4" ry="6.7" fill="url(#gw)" opacity="0.502"/>
<ellipse cx="494.8" cy="790.4" rx="11.5" ry="3.4" fill="url(#gs)" opacity="0.300"/>
<ellipse cx="494.8" cy="799.4" rx="3.2" ry="7" fill="url(#gs)" opacity="0.320"/>
<path d="M489.4 812.8 Q489.6 810.6 494.8 810.5 Q500.0 810.6 500.2 812.8 Q499.4 820.9 497.4 825.4 Q494.8 827.0 492.2 825.4 Q490.2 820.9 489.4 812.8Z" fill="#fff" opacity="0.270" transform="translate(494.8 817.4) scale(0.68) translate(-494.8 -817.4)"/>
<ellipse cx="494.8" cy="816.4" rx="5.0" ry="6.2" fill="url(#gw)" opacity="0.393"/>
<ellipse cx="494.8" cy="815.4" rx="11.5" ry="3.4" fill="url(#gs)" opacity="0.300"/>
<ellipse cx="494.8" cy="824.4" rx="3.2" ry="7" fill="url(#gs)" opacity="0.320"/>
<path d="M514.4 563.2 Q514.6 561.1 519.8 561.0 Q525.0 561.1 525.2 563.2 Q524.4 571.4 522.4 575.9 Q519.8 577.5 517.2 575.9 Q515.2 571.4 514.4 563.2Z" fill="#fff" opacity="0.299" transform="translate(519.8 567.9) scale(0.84) translate(-519.8 -567.9)"/>
<ellipse cx="519.8" cy="566.9" rx="6.2" ry="7.7" fill="url(#gw)" opacity="0.434"/>
<path d="M514.4 588.2 Q514.6 586.0 519.8 585.9 Q525.0 586.0 525.2 588.2 Q524.4 596.3 522.4 600.8 Q519.8 602.4 517.2 600.8 Q515.2 596.3 514.4 588.2Z" fill="#fff" opacity="0.438" transform="translate(519.8 592.8) scale(0.84) translate(-519.8 -592.8)"/>
<ellipse cx="519.8" cy="591.8" rx="6.2" ry="7.7" fill="url(#gw)" opacity="0.638"/>
<path d="M514.4 613.1 Q514.6 611.0 519.8 610.9 Q525.0 611.0 525.2 613.1 Q524.4 621.2 522.4 625.8 Q519.8 627.4 517.2 625.8 Q515.2 621.2 514.4 613.1Z" fill="#fff" opacity="0.439" transform="translate(519.8 617.8) scale(0.84) translate(-519.8 -617.8)"/>
<ellipse cx="519.8" cy="616.8" rx="6.2" ry="7.7" fill="url(#gw)" opacity="0.638"/>
<path d="M514.4 638.1 Q514.6 635.9 519.8 635.8 Q525.0 635.9 525.2 638.1 Q524.4 646.2 522.4 650.7 Q519.8 652.3 517.2 650.7 Q515.2 646.2 514.4 638.1Z" fill="#fff" opacity="0.431" transform="translate(519.8 642.7) scale(0.84) translate(-519.8 -642.7)"/>
<ellipse cx="519.8" cy="641.7" rx="6.2" ry="7.7" fill="url(#gw)" opacity="0.627"/>
<path d="M514.4 663.0 Q514.6 660.9 519.8 660.8 Q525.0 660.9 525.2 663.0 Q524.4 671.1 522.4 675.6 Q519.8 677.2 517.2 675.6 Q515.2 671.1 514.4 663.0Z" fill="#fff" opacity="0.411" transform="translate(519.8 667.6) scale(0.84) translate(-519.8 -667.6)"/>
<ellipse cx="519.8" cy="666.6" rx="6.2" ry="7.7" fill="url(#gw)" opacity="0.599"/>
<path d="M514.4 688.0 Q514.6 685.8 519.8 685.7 Q525.0 685.8 525.2 688.0 Q524.4 696.1 522.4 700.6 Q519.8 702.2 517.2 700.6 Q515.2 696.1 514.4 688.0Z" fill="#fff" opacity="0.444" transform="translate(519.8 692.6) scale(0.84) translate(-519.8 -692.6)"/>
<ellipse cx="519.8" cy="691.6" rx="6.2" ry="7.7" fill="url(#gw)" opacity="0.646"/>
<path d="M514.4 713.0 Q514.6 710.8 519.8 710.7 Q525.0 710.8 525.2 713.0 Q524.4 721.1 522.4 725.6 Q519.8 727.2 517.2 725.6 Q515.2 721.1 514.4 713.0Z" fill="#fff" opacity="0.433" transform="translate(519.8 717.6) scale(0.84) translate(-519.8 -717.6)"/>
<ellipse cx="519.8" cy="716.6" rx="6.2" ry="7.7" fill="url(#gw)" opacity="0.631"/>
<path d="M514.4 737.9 Q514.6 735.7 519.8 735.6 Q525.0 735.7 525.2 737.9 Q524.4 746.0 522.4 750.5 Q519.8 752.1 517.2 750.5 Q515.2 746.0 514.4 737.9Z" fill="#fff" opacity="0.399" transform="translate(519.8 742.5) scale(0.8) translate(-519.8 -742.5)"/>
<ellipse cx="519.8" cy="741.5" rx="5.9" ry="7.3" fill="url(#gw)" opacity="0.581"/>
<ellipse cx="519.8" cy="740.5" rx="11.5" ry="3.4" fill="url(#gs)" opacity="0.300"/>
<ellipse cx="519.8" cy="749.5" rx="3.2" ry="7" fill="url(#gs)" opacity="0.320"/>
<path d="M514.4 762.9 Q514.6 760.7 519.8 760.6 Q525.0 760.7 525.2 762.9 Q524.4 771.0 522.4 775.5 Q519.8 777.1 517.2 775.5 Q515.2 771.0 514.4 762.9Z" fill="#fff" opacity="0.374" transform="translate(519.8 767.5) scale(0.77) translate(-519.8 -767.5)"/>
<ellipse cx="519.8" cy="766.5" rx="5.6" ry="7.0" fill="url(#gw)" opacity="0.545"/>
<ellipse cx="519.8" cy="765.5" rx="11.5" ry="3.4" fill="url(#gs)" opacity="0.300"/>
<ellipse cx="519.8" cy="774.5" rx="3.2" ry="7" fill="url(#gs)" opacity="0.320"/>
<path d="M514.4 787.8 Q514.6 785.6 519.8 785.5 Q525.0 785.6 525.2 787.8 Q524.4 795.9 522.4 800.4 Q519.8 802.0 517.2 800.4 Q515.2 795.9 514.4 787.8Z" fill="#fff" opacity="0.333" transform="translate(519.8 792.4) scale(0.73) translate(-519.8 -792.4)"/>
<ellipse cx="519.8" cy="791.4" rx="5.4" ry="6.7" fill="url(#gw)" opacity="0.484"/>
<ellipse cx="519.8" cy="790.4" rx="11.5" ry="3.4" fill="url(#gs)" opacity="0.300"/>
<ellipse cx="519.8" cy="799.4" rx="3.2" ry="7" fill="url(#gs)" opacity="0.320"/>
<path d="M514.4 812.8 Q514.6 810.6 519.8 810.5 Q525.0 810.6 525.2 812.8 Q524.4 820.9 522.4 825.4 Q519.8 827.0 517.2 825.4 Q515.2 820.9 514.4 812.8Z" fill="#fff" opacity="0.243" transform="translate(519.8 817.4) scale(0.68) translate(-519.8 -817.4)"/>
<ellipse cx="519.8" cy="816.4" rx="5.0" ry="6.2" fill="url(#gw)" opacity="0.353"/>
<ellipse cx="519.8" cy="815.4" rx="11.5" ry="3.4" fill="url(#gs)" opacity="0.300"/>
<ellipse cx="519.8" cy="824.4" rx="3.2" ry="7" fill="url(#gs)" opacity="0.320"/>
<path d="M539.4 563.2 Q539.5 561.1 544.8 561.0 Q550.0 561.1 550.1 563.2 Q549.4 571.4 547.4 575.9 Q544.8 577.5 542.1 575.9 Q540.1 571.4 539.4 563.2Z" fill="#fff" opacity="0.314" transform="translate(544.8 567.9) scale(0.84) translate(-544.8 -567.9)"/>
<ellipse cx="544.8" cy="566.9" rx="6.2" ry="7.7" fill="url(#gw)" opacity="0.456"/>
<path d="M539.4 588.2 Q539.5 586.0 544.8 585.9 Q550.0 586.0 550.1 588.2 Q549.4 596.3 547.4 600.8 Q544.8 602.4 542.1 600.8 Q540.1 596.3 539.4 588.2Z" fill="#fff" opacity="0.450" transform="translate(544.8 592.8) scale(0.84) translate(-544.8 -592.8)"/>
<ellipse cx="544.8" cy="591.8" rx="6.2" ry="7.7" fill="url(#gw)" opacity="0.655"/>
<path d="M539.4 613.1 Q539.5 611.0 544.8 610.9 Q550.0 611.0 550.1 613.1 Q549.4 621.2 547.4 625.8 Q544.8 627.4 542.1 625.8 Q540.1 621.2 539.4 613.1Z" fill="#fff" opacity="0.416" transform="translate(544.8 617.8) scale(0.84) translate(-544.8 -617.8)"/>
<ellipse cx="544.8" cy="616.8" rx="6.2" ry="7.7" fill="url(#gw)" opacity="0.605"/>
<path d="M539.4 638.1 Q539.5 635.9 544.8 635.8 Q550.0 635.9 550.1 638.1 Q549.4 646.2 547.4 650.7 Q544.8 652.3 542.1 650.7 Q540.1 646.2 539.4 638.1Z" fill="#fff" opacity="0.409" transform="translate(544.8 642.7) scale(0.84) translate(-544.8 -642.7)"/>
<ellipse cx="544.8" cy="641.7" rx="6.2" ry="7.7" fill="url(#gw)" opacity="0.595"/>
<path d="M539.4 663.0 Q539.5 660.9 544.8 660.8 Q550.0 660.9 550.1 663.0 Q549.4 671.1 547.4 675.6 Q544.8 677.2 542.1 675.6 Q540.1 671.1 539.4 663.0Z" fill="#fff" opacity="0.447" transform="translate(544.8 667.6) scale(0.84) translate(-544.8 -667.6)"/>
<ellipse cx="544.8" cy="666.6" rx="6.2" ry="7.7" fill="url(#gw)" opacity="0.651"/>
<path d="M539.4 688.0 Q539.5 685.8 544.8 685.7 Q550.0 685.8 550.1 688.0 Q549.4 696.1 547.4 700.6 Q544.8 702.2 542.1 700.6 Q540.1 696.1 539.4 688.0Z" fill="#fff" opacity="0.444" transform="translate(544.8 692.6) scale(0.84) translate(-544.8 -692.6)"/>
<ellipse cx="544.8" cy="691.6" rx="6.2" ry="7.7" fill="url(#gw)" opacity="0.646"/>
<path d="M539.4 713.0 Q539.5 710.8 544.8 710.7 Q550.0 710.8 550.1 713.0 Q549.4 721.1 547.4 725.6 Q544.8 727.2 542.1 725.6 Q540.1 721.1 539.4 713.0Z" fill="#fff" opacity="0.421" transform="translate(544.8 717.6) scale(0.84) translate(-544.8 -717.6)"/>
<ellipse cx="544.8" cy="716.6" rx="6.2" ry="7.7" fill="url(#gw)" opacity="0.612"/>
<path d="M539.4 737.9 Q539.5 735.7 544.8 735.6 Q550.0 735.7 550.1 737.9 Q549.4 746.0 547.4 750.5 Q544.8 752.1 542.1 750.5 Q540.1 746.0 539.4 737.9Z" fill="#fff" opacity="0.374" transform="translate(544.8 742.5) scale(0.8) translate(-544.8 -742.5)"/>
<ellipse cx="544.8" cy="741.5" rx="5.9" ry="7.3" fill="url(#gw)" opacity="0.544"/>
<ellipse cx="544.8" cy="740.5" rx="11.5" ry="3.4" fill="url(#gs)" opacity="0.300"/>
<ellipse cx="544.8" cy="749.5" rx="3.2" ry="7" fill="url(#gs)" opacity="0.320"/>
<path d="M539.4 762.9 Q539.5 760.7 544.8 760.6 Q550.0 760.7 550.1 762.9 Q549.4 771.0 547.4 775.5 Q544.8 777.1 542.1 775.5 Q540.1 771.0 539.4 762.9Z" fill="#fff" opacity="0.350" transform="translate(544.8 767.5) scale(0.77) translate(-544.8 -767.5)"/>
<ellipse cx="544.8" cy="766.5" rx="5.6" ry="7.0" fill="url(#gw)" opacity="0.509"/>
<ellipse cx="544.8" cy="765.5" rx="11.5" ry="3.4" fill="url(#gs)" opacity="0.300"/>
<ellipse cx="544.8" cy="774.5" rx="3.2" ry="7" fill="url(#gs)" opacity="0.320"/>
<path d="M539.4 787.8 Q539.5 785.6 544.8 785.5 Q550.0 785.6 550.1 787.8 Q549.4 795.9 547.4 800.4 Q544.8 802.0 542.1 800.4 Q540.1 795.9 539.4 787.8Z" fill="#fff" opacity="0.330" transform="translate(544.8 792.4) scale(0.73) translate(-544.8 -792.4)"/>
<ellipse cx="544.8" cy="791.4" rx="5.4" ry="6.7" fill="url(#gw)" opacity="0.481"/>
<ellipse cx="544.8" cy="790.4" rx="11.5" ry="3.4" fill="url(#gs)" opacity="0.300"/>
<ellipse cx="544.8" cy="799.4" rx="3.2" ry="7" fill="url(#gs)" opacity="0.320"/>
<path d="M539.4 812.8 Q539.5 810.6 544.8 810.5 Q550.0 810.6 550.1 812.8 Q549.4 820.9 547.4 825.4 Q544.8 827.0 542.1 825.4 Q540.1 820.9 539.4 812.8Z" fill="#fff" opacity="0.250" transform="translate(544.8 817.4) scale(0.68) translate(-544.8 -817.4)"/>
<ellipse cx="544.8" cy="816.4" rx="5.0" ry="6.2" fill="url(#gw)" opacity="0.364"/>
<ellipse cx="544.8" cy="815.4" rx="11.5" ry="3.4" fill="url(#gs)" opacity="0.300"/>
<ellipse cx="544.8" cy="824.4" rx="3.2" ry="7" fill="url(#gs)" opacity="0.320"/>
<path d="M564.3 588.2 Q564.5 586.0 569.7 585.9 Q574.9 586.0 575.1 588.2 Q574.3 596.3 572.3 600.8 Q569.7 602.4 567.1 600.8 Q565.1 596.3 564.3 588.2Z" fill="#fff" opacity="0.373" transform="translate(569.7 592.8) scale(0.84) translate(-569.7 -592.8)"/>
<ellipse cx="569.7" cy="591.8" rx="6.2" ry="7.7" fill="url(#gw)" opacity="0.543"/>
<path d="M564.3 613.1 Q564.5 611.0 569.7 610.9 Q574.9 611.0 575.1 613.1 Q574.3 621.2 572.3 625.8 Q569.7 627.4 567.1 625.8 Q565.1 621.2 564.3 613.1Z" fill="#fff" opacity="0.472" transform="translate(569.7 617.8) scale(0.84) translate(-569.7 -617.8)"/>
<ellipse cx="569.7" cy="616.8" rx="6.2" ry="7.7" fill="url(#gw)" opacity="0.687"/>
<path d="M564.3 638.1 Q564.5 635.9 569.7 635.8 Q574.9 635.9 575.1 638.1 Q574.3 646.2 572.3 650.7 Q569.7 652.3 567.1 650.7 Q565.1 646.2 564.3 638.1Z" fill="#fff" opacity="0.406" transform="translate(569.7 642.7) scale(0.84) translate(-569.7 -642.7)"/>
<ellipse cx="569.7" cy="641.7" rx="6.2" ry="7.7" fill="url(#gw)" opacity="0.590"/>
<path d="M564.3 663.0 Q564.5 660.9 569.7 660.8 Q574.9 660.9 575.1 663.0 Q574.3 671.1 572.3 675.6 Q569.7 677.2 567.1 675.6 Q565.1 671.1 564.3 663.0Z" fill="#fff" opacity="0.450" transform="translate(569.7 667.6) scale(0.84) translate(-569.7 -667.6)"/>
<ellipse cx="569.7" cy="666.6" rx="6.2" ry="7.7" fill="url(#gw)" opacity="0.655"/>
<path d="M564.3 688.0 Q564.5 685.8 569.7 685.7 Q574.9 685.8 575.1 688.0 Q574.3 696.1 572.3 700.6 Q569.7 702.2 567.1 700.6 Q565.1 696.1 564.3 688.0Z" fill="#fff" opacity="0.439" transform="translate(569.7 692.6) scale(0.84) translate(-569.7 -692.6)"/>
<ellipse cx="569.7" cy="691.6" rx="6.2" ry="7.7" fill="url(#gw)" opacity="0.638"/>
<path d="M564.3 713.0 Q564.5 710.8 569.7 710.7 Q574.9 710.8 575.1 713.0 Q574.3 721.1 572.3 725.6 Q569.7 727.2 567.1 725.6 Q565.1 721.1 564.3 713.0Z" fill="#fff" opacity="0.488" transform="translate(569.7 717.6) scale(0.84) translate(-569.7 -717.6)"/>
<ellipse cx="569.7" cy="716.6" rx="6.2" ry="7.7" fill="url(#gw)" opacity="0.709"/>
<path d="M564.3 737.9 Q564.5 735.7 569.7 735.6 Q574.9 735.7 575.1 737.9 Q574.3 746.0 572.3 750.5 Q569.7 752.1 567.1 750.5 Q565.1 746.0 564.3 737.9Z" fill="#fff" opacity="0.384" transform="translate(569.7 742.5) scale(0.8) translate(-569.7 -742.5)"/>
<ellipse cx="569.7" cy="741.5" rx="5.9" ry="7.3" fill="url(#gw)" opacity="0.559"/>
<ellipse cx="569.7" cy="740.5" rx="11.5" ry="3.4" fill="url(#gs)" opacity="0.300"/>
<ellipse cx="569.7" cy="749.5" rx="3.2" ry="7" fill="url(#gs)" opacity="0.320"/>
<path d="M564.3 762.9 Q564.5 760.7 569.7 760.6 Q574.9 760.7 575.1 762.9 Q574.3 771.0 572.3 775.5 Q569.7 777.1 567.1 775.5 Q565.1 771.0 564.3 762.9Z" fill="#fff" opacity="0.362" transform="translate(569.7 767.5) scale(0.77) translate(-569.7 -767.5)"/>
<ellipse cx="569.7" cy="766.5" rx="5.6" ry="7.0" fill="url(#gw)" opacity="0.526"/>
<ellipse cx="569.7" cy="765.5" rx="11.5" ry="3.4" fill="url(#gs)" opacity="0.300"/>
<ellipse cx="569.7" cy="774.5" rx="3.2" ry="7" fill="url(#gs)" opacity="0.320"/>
<path d="M564.3 787.8 Q564.5 785.6 569.7 785.5 Q574.9 785.6 575.1 787.8 Q574.3 795.9 572.3 800.4 Q569.7 802.0 567.1 800.4 Q565.1 795.9 564.3 787.8Z" fill="#fff" opacity="0.283" transform="translate(569.7 792.4) scale(0.73) translate(-569.7 -792.4)"/>
<ellipse cx="569.7" cy="791.4" rx="5.4" ry="6.7" fill="url(#gw)" opacity="0.412"/>
<ellipse cx="569.7" cy="790.4" rx="11.5" ry="3.4" fill="url(#gs)" opacity="0.300"/>
<ellipse cx="569.7" cy="799.4" rx="3.2" ry="7" fill="url(#gs)" opacity="0.320"/>
<path d="M589.2 588.2 Q589.4 586.0 594.6 585.9 Q599.9 586.0 600.0 588.2 Q599.2 596.3 597.2 600.8 Q594.6 602.4 592.0 600.8 Q590.0 596.3 589.2 588.2Z" fill="#fff" opacity="0.370" transform="translate(594.6 592.8) scale(0.84) translate(-594.6 -592.8)"/>
<ellipse cx="594.6" cy="591.8" rx="6.2" ry="7.7" fill="url(#gw)" opacity="0.538"/>
<path d="M589.2 613.1 Q589.4 611.0 594.6 610.9 Q599.9 611.0 600.0 613.1 Q599.2 621.2 597.2 625.8 Q594.6 627.4 592.0 625.8 Q590.0 621.2 589.2 613.1Z" fill="#fff" opacity="0.408" transform="translate(594.6 617.8) scale(0.84) translate(-594.6 -617.8)"/>
<ellipse cx="594.6" cy="616.8" rx="6.2" ry="7.7" fill="url(#gw)" opacity="0.593"/>
<path d="M589.2 638.1 Q589.4 635.9 594.6 635.8 Q599.9 635.9 600.0 638.1 Q599.2 646.2 597.2 650.7 Q594.6 652.3 592.0 650.7 Q590.0 646.2 589.2 638.1Z" fill="#fff" opacity="0.407" transform="translate(594.6 642.7) scale(0.84) translate(-594.6 -642.7)"/>
<ellipse cx="594.6" cy="641.7" rx="6.2" ry="7.7" fill="url(#gw)" opacity="0.592"/>
<path d="M589.2 663.0 Q589.4 660.9 594.6 660.8 Q599.9 660.9 600.0 663.0 Q599.2 671.1 597.2 675.6 Q594.6 677.2 592.0 675.6 Q590.0 671.1 589.2 663.0Z" fill="#fff" opacity="0.444" transform="translate(594.6 667.6) scale(0.84) translate(-594.6 -667.6)"/>
<ellipse cx="594.6" cy="666.6" rx="6.2" ry="7.7" fill="url(#gw)" opacity="0.645"/>
<path d="M589.2 688.0 Q589.4 685.8 594.6 685.7 Q599.9 685.8 600.0 688.0 Q599.2 696.1 597.2 700.6 Q594.6 702.2 592.0 700.6 Q590.0 696.1 589.2 688.0Z" fill="#fff" opacity="0.407" transform="translate(594.6 692.6) scale(0.84) translate(-594.6 -692.6)"/>
<ellipse cx="594.6" cy="691.6" rx="6.2" ry="7.7" fill="url(#gw)" opacity="0.592"/>
<path d="M589.2 713.0 Q589.4 710.8 594.6 710.7 Q599.9 710.8 600.0 713.0 Q599.2 721.1 597.2 725.6 Q594.6 727.2 592.0 725.6 Q590.0 721.1 589.2 713.0Z" fill="#fff" opacity="0.449" transform="translate(594.6 717.6) scale(0.84) translate(-594.6 -717.6)"/>
<ellipse cx="594.6" cy="716.6" rx="6.2" ry="7.7" fill="url(#gw)" opacity="0.653"/>
<path d="M589.2 737.9 Q589.4 735.7 594.6 735.6 Q599.9 735.7 600.0 737.9 Q599.2 746.0 597.2 750.5 Q594.6 752.1 592.0 750.5 Q590.0 746.0 589.2 737.9Z" fill="#fff" opacity="0.362" transform="translate(594.6 742.5) scale(0.8) translate(-594.6 -742.5)"/>
<ellipse cx="594.6" cy="741.5" rx="5.9" ry="7.3" fill="url(#gw)" opacity="0.526"/>
<ellipse cx="594.6" cy="740.5" rx="11.5" ry="3.4" fill="url(#gs)" opacity="0.300"/>
<ellipse cx="594.6" cy="749.5" rx="3.2" ry="7" fill="url(#gs)" opacity="0.320"/>
<path d="M589.2 762.9 Q589.4 760.7 594.6 760.6 Q599.9 760.7 600.0 762.9 Q599.2 771.0 597.2 775.5 Q594.6 777.1 592.0 775.5 Q590.0 771.0 589.2 762.9Z" fill="#fff" opacity="0.395" transform="translate(594.6 767.5) scale(0.77) translate(-594.6 -767.5)"/>
<ellipse cx="594.6" cy="766.5" rx="5.6" ry="7.0" fill="url(#gw)" opacity="0.574"/>
<ellipse cx="594.6" cy="765.5" rx="11.5" ry="3.4" fill="url(#gs)" opacity="0.300"/>
<ellipse cx="594.6" cy="774.5" rx="3.2" ry="7" fill="url(#gs)" opacity="0.320"/>
<path d="M589.2 787.8 Q589.4 785.6 594.6 785.5 Q599.9 785.6 600.0 787.8 Q599.2 795.9 597.2 800.4 Q594.6 802.0 592.0 800.4 Q590.0 795.9 589.2 787.8Z" fill="#fff" opacity="0.289" transform="translate(594.6 792.4) scale(0.73) translate(-594.6 -792.4)"/>
<ellipse cx="594.6" cy="791.4" rx="5.4" ry="6.7" fill="url(#gw)" opacity="0.420"/>
<ellipse cx="594.6" cy="790.4" rx="11.5" ry="3.4" fill="url(#gs)" opacity="0.300"/>
<ellipse cx="594.6" cy="799.4" rx="3.2" ry="7" fill="url(#gs)" opacity="0.320"/>
<path d="M614.2 613.1 Q614.4 611.0 619.6 610.9 Q624.8 611.0 625.0 613.1 Q624.2 621.2 622.2 625.8 Q619.6 627.4 617.0 625.8 Q615.0 621.2 614.2 613.1Z" fill="#fff" opacity="0.383" transform="translate(619.6 617.8) scale(0.84) translate(-619.6 -617.8)"/>
<ellipse cx="619.6" cy="616.8" rx="6.2" ry="7.7" fill="url(#gw)" opacity="0.557"/>
<path d="M614.2 638.1 Q614.4 635.9 619.6 635.8 Q624.8 635.9 625.0 638.1 Q624.2 646.2 622.2 650.7 Q619.6 652.3 617.0 650.7 Q615.0 646.2 614.2 638.1Z" fill="#fff" opacity="0.388" transform="translate(619.6 642.7) scale(0.84) translate(-619.6 -642.7)"/>
<ellipse cx="619.6" cy="641.7" rx="6.2" ry="7.7" fill="url(#gw)" opacity="0.564"/>
<path d="M614.2 663.0 Q614.4 660.9 619.6 660.8 Q624.8 660.9 625.0 663.0 Q624.2 671.1 622.2 675.6 Q619.6 677.2 617.0 675.6 Q615.0 671.1 614.2 663.0Z" fill="#fff" opacity="0.408" transform="translate(619.6 667.6) scale(0.84) translate(-619.6 -667.6)"/>
<ellipse cx="619.6" cy="666.6" rx="6.2" ry="7.7" fill="url(#gw)" opacity="0.593"/>
<path d="M614.2 688.0 Q614.4 685.8 619.6 685.7 Q624.8 685.8 625.0 688.0 Q624.2 696.1 622.2 700.6 Q619.6 702.2 617.0 700.6 Q615.0 696.1 614.2 688.0Z" fill="#fff" opacity="0.437" transform="translate(619.6 692.6) scale(0.84) translate(-619.6 -692.6)"/>
<ellipse cx="619.6" cy="691.6" rx="6.2" ry="7.7" fill="url(#gw)" opacity="0.636"/>
<path d="M614.2 713.0 Q614.4 710.8 619.6 710.7 Q624.8 710.8 625.0 713.0 Q624.2 721.1 622.2 725.6 Q619.6 727.2 617.0 725.6 Q615.0 721.1 614.2 713.0Z" fill="#fff" opacity="0.418" transform="translate(619.6 717.6) scale(0.84) translate(-619.6 -717.6)"/>
<ellipse cx="619.6" cy="716.6" rx="6.2" ry="7.7" fill="url(#gw)" opacity="0.608"/>
<path d="M614.2 737.9 Q614.4 735.7 619.6 735.6 Q624.8 735.7 625.0 737.9 Q624.2 746.0 622.2 750.5 Q619.6 752.1 617.0 750.5 Q615.0 746.0 614.2 737.9Z" fill="#fff" opacity="0.338" transform="translate(619.6 742.5) scale(0.8) translate(-619.6 -742.5)"/>
<ellipse cx="619.6" cy="741.5" rx="5.9" ry="7.3" fill="url(#gw)" opacity="0.492"/>
<ellipse cx="619.6" cy="740.5" rx="11.5" ry="3.4" fill="url(#gs)" opacity="0.300"/>
<ellipse cx="619.6" cy="749.5" rx="3.2" ry="7" fill="url(#gs)" opacity="0.320"/>
<path d="M614.2 762.9 Q614.4 760.7 619.6 760.6 Q624.8 760.7 625.0 762.9 Q624.2 771.0 622.2 775.5 Q619.6 777.1 617.0 775.5 Q615.0 771.0 614.2 762.9Z" fill="#fff" opacity="0.332" transform="translate(619.6 767.5) scale(0.77) translate(-619.6 -767.5)"/>
<ellipse cx="619.6" cy="766.5" rx="5.6" ry="7.0" fill="url(#gw)" opacity="0.483"/>
<ellipse cx="619.6" cy="765.5" rx="11.5" ry="3.4" fill="url(#gs)" opacity="0.300"/>
<ellipse cx="619.6" cy="774.5" rx="3.2" ry="7" fill="url(#gs)" opacity="0.320"/>
<path d="M639.1 663.0 Q639.3 660.9 644.5 660.8 Q649.8 660.9 649.9 663.0 Q649.1 671.1 647.1 675.6 Q644.5 677.2 641.9 675.6 Q639.9 671.1 639.1 663.0Z" fill="#fff" opacity="0.387" transform="translate(644.5 667.6) scale(0.84) translate(-644.5 -667.6)"/>
<ellipse cx="644.5" cy="666.6" rx="6.2" ry="7.7" fill="url(#gw)" opacity="0.563"/>
<path d="M639.1 688.0 Q639.3 685.8 644.5 685.7 Q649.8 685.8 649.9 688.0 Q649.1 696.1 647.1 700.6 Q644.5 702.2 641.9 700.6 Q639.9 696.1 639.1 688.0Z" fill="#fff" opacity="0.381" transform="translate(644.5 692.6) scale(0.84) translate(-644.5 -692.6)"/>
<ellipse cx="644.5" cy="691.6" rx="6.2" ry="7.7" fill="url(#gw)" opacity="0.554"/>
<path d="M639.1 713.0 Q639.3 710.8 644.5 710.7 Q649.8 710.8 649.9 713.0 Q649.1 721.1 647.1 725.6 Q644.5 727.2 641.9 725.6 Q639.9 721.1 639.1 713.0Z" fill="#fff" opacity="0.369" transform="translate(644.5 717.6) scale(0.84) translate(-644.5 -717.6)"/>
<ellipse cx="644.5" cy="716.6" rx="6.2" ry="7.7" fill="url(#gw)" opacity="0.537"/>
</g>
</g>
<rect x="350.7" y="523" width="1.3" height="330" fill="#8c8c8c"/>
<text x="27" y="549" font-size="24" font-weight="bold" fill="#fff">b</text>
<text x="358.5" y="545.3" font-size="24" font-weight="bold" fill="#fff">c</text>
<rect x="608" y="812" width="65" height="8" fill="#fff"/>
<text x="606" y="843.2" font-size="26.5" fill="#fff">1 nm</text>
</svg></body></html>
